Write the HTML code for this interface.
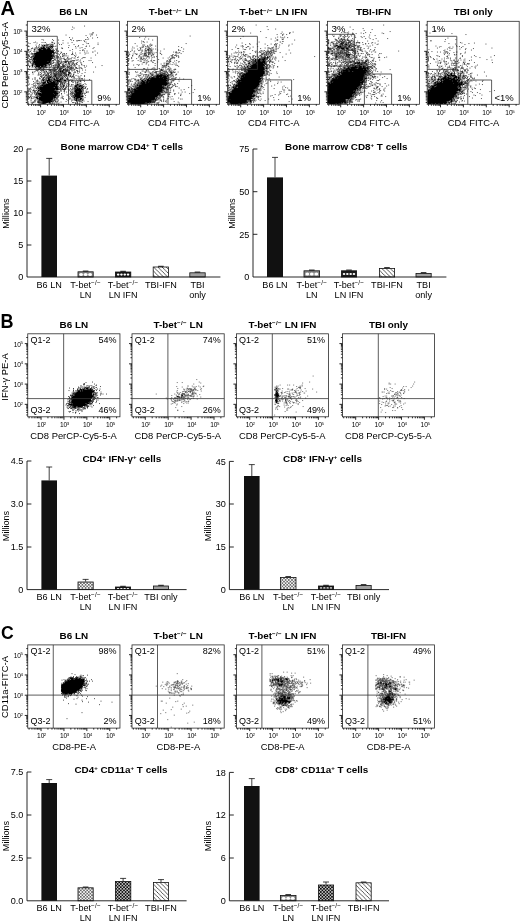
<!DOCTYPE html>
<html><head><meta charset="utf-8"><title>Figure</title>
<style>
html,body{margin:0;padding:0;background:#fff}
svg{display:block}
text{font-family:"Liberation Sans",sans-serif;fill:#000}
</style></head><body>
<svg width="520" height="923" viewBox="0 0 520 923">
<rect width="520" height="923" fill="#fff"/>
<text x="0.5" y="15" font-size="20" font-weight="bold">A</text>
<g transform="translate(27.3 21.3) scale(.5) translate(.5 .5)" fill="none" stroke="#000" stroke-linecap="square"><path d="M114 9h0m-24 2h0m3 2h0m-4 3h0m42 6h0m0 1h0m-6 2h0m3 0h0m2 0h0m-53 2h0m52 0h0m9 0h0m-21 1h0m9 1h0m-42 3h0m36 0h0m20 0h0m-50 1h0m40 0h0m-8 2h0m-93 1h0m21 0h0m36 0h0m30 0h0m3 0h0m-87 1h0m30 0h0m26 0h0m-36 1h0m19 0h0m21 0h0m7 0h0m3 0h0m2 0h0m3 0h0m6 0h0m-14 1h0m15 1h0m-98 1h0m33 0h0m68 0h0m-104 1h0m16 0h0m4 0h0m3 0h0m13 0h1m39 0h0m-87 1h0m17 0h0m34 0h0m9 0h0m9 0h0m10 0h0m60 0h0m-136 1h0m49 0h0m65 0h0m3 0h0m-84 1h0m7 0h0m4 0h0m-25 1h0m15 0h1m2 0h0m3 0h0m3 0h0m2 0h0m14 0h0m4 0h0m25 0h0m18 0h0m30 0h0m-124 1h0m11 0h0m3 0h0m2 0h2m2 0h0m15 0h0m-22 1h0m7 0h0m2 0h0m2 0h0m5 0h0m3 0h1m33 0h0m19 0h0m-100 1h0m20 0h0m2 0h0m6 0h1m2 0h0m2 0h0m4 0h1m4 0h0m3 0h0m2 0h0m8 0h0m61 0h0m6 0h0m-123 1h0m2 0h0m15 0h0m11 0h0m4 0h0m4 0h0m6 0h3m5 0h1m3 0h0m41 0h0m5 0h0m16 0h0m-90 1h0m6 0h0m5 0h0m2 0h0m2 0h0m4 0h0m2 0h0m2 0h0m-33 1h0m2 0h0m3 0h0m5 0h1m3 0h0m7 0h1m2 0h0m2 0h0m2 0h1m4 0h0m32 0h0m27 0h0m24 0h0m-123 1h0m5 0h0m9 0h2m9 0h2m2 0h0m4 0h0m2 0h0m2 0h0m3 0h0m18 0h1m28 0h0m8 0h0m-97 1h1m10 0h0m5 0h0m16 0h1m7 0h0m11 0h0m11 0h0m45 0h0m16 0h0m-118 1h0m2 0h2m4 0h1m2 0h0m2 0h0m3 0h0m8 0h2m6 0h0m7 0h0m4 0h0m-55 1h0m2 0h0m11 0h0m7 0h0m10 0h0m2 0h0m13 0h0m5 0h0m7 0h0m32 0h0m21 0h0m-110 1h1m5 0h0m7 0h0m8 0h0m7 0h0m2 0h0m16 0h0m2 0h1m-48 1h0m45 0h0m4 0h1m2 0h0m4 0h0m3 0h0m24 0h0m20 0h0m5 0h0m3 0h0m-100 1h0m2 0h0m3 0h0m2 0h2m97 0h0m16 0h0m-132 1h0m3 0h0m7 0h0m10 0h0m29 0h0m7 0h0m3 0h0m-45 1h1m2 0h1m35 0h0m11 0h0m23 0h0m24 0h0m16 0h1m-128 1h0m15 0h0m34 0h0m2 0h0m3 0h0m11 0h0m-60 1h0m6 0h0m3 0h0m25 0h0m10 0h0m3 0h0m41 0h0m9 0h0m12 0h0m4 0h0m19 0h0m-131 1h1m3 0h0m2 0h0m37 0h0m2 0h0m4 0h0m3 0h0m5 0h0m5 0h0m3 0h0m4 0h0m12 0h0m-85 1h0m4 0h0m3 0h1m36 0h0m3 0h0m21 0h0m17 0h0m25 0h0m-114 1h1m7 0h0m7 0h0m33 0h0m2 0h2m10 0h0m7 0h0m18 0h0m3 0h0m-80 1h0m2 0h1m2 0h0m33 0h0m15 0h0m10 0h0m3 0h0m20 0h0m39 0h0m-134 1h1m8 0h0m40 0h2m4 0h0m14 0h0m23 0h0m-92 1h1m9 0h0m2 0h0m37 0h0m4 0h0m3 0h1m12 0h2m4 0h0m4 0h0m-77 1h0m4 0h2m2 0h1m40 0h1m7 0h1m4 0h0m4 0h0m26 0h0m-94 1h0m8 0h0m3 0h0m2 0h0m32 0h0m3 0h0m2 0h0m6 0h0m2 0h0m42 0h0m-96 1h0m2 0h0m5 0h0m35 0h0m2 0h0m4 0h0m8 0h0m3 0h0m15 0h0m9 0h0m11 0h0m11 0h0m2 0h0m2 0h0m-114 1h0m7 0h0m3 0h0m39 0h0m6 0h0m2 0h0m2 0h0m7 0h0m6 0h0m8 0h0m12 0h0m2 0h0m32 0h0m-126 1h0m49 0h0m2 0h1m10 0h0m4 0h0m4 0h0m8 0h0m4 0h0m4 0h0m22 0h0m-105 1h0m5 0h0m2 0h0m37 0h0m25 0h1m13 0h0m-81 1h1m2 0h0m3 0h0m2 0h0m40 0h1m10 0h0m9 0h1m2 0h0m4 0h0m2 0h0m18 0h0m-97 1h0m12 0h0m31 0h0m6 0h0m3 0h0m5 0h0m4 0h0m3 0h0m8 0h0m21 0h0m9 0h0m-105 1h0m9 0h0m40 0h0m2 0h0m10 0h0m17 0h0m10 0h0m2 0h1m2 0h0m5 0h0m24 0h0m4 0h0m-126 1h0m2 0h0m4 0h0m3 0h0m2 0h0m3 0h0m25 0h0m6 0h0m2 0h0m3 0h1m6 0h0m2 0h0m3 0h0m12 0h1m4 0h1m5 0h0m3 0h0m4 0h0m10 0h0m-102 1h0m2 0h0m2 0h0m7 0h0m28 0h0m3 0h0m19 0h0m2 0h0m3 0h1m3 0h0m2 0h0m3 0h0m2 0h1m2 0h0m4 0h0m3 0h0m24 0h0m-107 1h0m4 0h0m3 0h0m30 0h0m4 0h1m2 0h0m25 0h0m2 0h0m2 0h0m4 0h0m2 0h2m6 0h0m14 0h0m-100 1h0m5 0h0m2 0h0m39 0h1m4 0h0m3 0h0m2 0h0m5 0h0m2 0h0m6 0h1m6 0h0m9 0h0m9 0h0m30 0h0m-128 1h0m9 0h0m32 0h0m2 0h0m3 0h0m4 0h0m11 0h0m2 0h0m2 0h0m5 0h0m5 0h0m5 0h0m3 0h0m3 0h0m2 0h0m8 0h0m9 0h1m-101 1h0m3 0h1m2 0h0m2 0h0m27 0h0m4 0h1m3 0h0m7 0h0m4 0h1m3 0h1m16 0h0m2 0h0m7 0h1m3 0h0m3 0h0m-97 1h0m8 0h0m4 0h0m2 0h0m23 0h0m3 0h0m3 0h0m2 0h0m16 0h0m7 0h0m2 0h2m6 0h0m-78 1h0m9 0h0m2 0h1m26 0h0m3 0h0m2 0h0m2 0h1m8 0h0m2 0h0m5 0h0m2 0h0m7 0h0m5 0h0m7 0h1m5 0h1m4 0h0m4 0h1m9 0h0m-99 1h0m5 0h0m2 0h0m22 0h1m4 0h0m5 0h0m10 0h1m3 0h0m2 0h0m6 0h0m8 0h1m4 0h0m4 0h0m5 0h3m14 0h0m-108 1h1m7 0h0m2 0h0m20 0h0m2 0h0m11 0h0m7 0h2m3 0h0m3 0h0m12 0h0m3 0h0m13 0h0m16 0h0m10 0h0m36 0h0m-145 1h1m5 0h0m14 0h0m2 0h1m7 0h0m3 0h0m2 0h0m2 0h0m2 0h0m5 0h0m4 0h0m3 0h0m7 0h0m2 0h1m5 0h1m2 0h0m3 0h0m4 0h0m3 0h2m3 0h0m3 0h0m3 0h0m2 0h0m18 0h0m4 0h0m-114 1h0m6 0h0m4 0h0m6 0h0m12 0h1m3 0h0m21 0h0m3 0h0m2 0h0m3 0h0m3 0h1m2 0h0m2 0h0m2 0h0m5 0h0m3 0h1m-80 1h0m5 0h0m2 0h0m5 0h0m2 0h0m7 0h0m3 0h0m2 0h1m3 0h1m3 0h0m6 0h0m2 0h0m2 0h0m3 0h0m3 0h1m7 0h0m3 0h0m3 0h0m5 0h0m6 0h0m3 0h0m5 0h0m2 0h0m14 0h1m32 0h0m-120 1h0m3 0h0m3 0h0m4 0h0m2 0h0m4 0h1m3 0h3m2 0h0m4 0h0m6 0h0m3 0h0m2 0h1m2 0h1m2 0h1m3 0h0m4 0h0m2 0h1m4 0h0m3 0h3m2 0h0m2 0h1m3 0h0m5 0h0m2 0h0m9 0h0m8 0h0m-100 1h1m7 0h0m2 0h0m5 0h0m3 0h0m4 0h0m6 0h1m7 0h1m7 0h1m4 0h0m4 0h1m17 0h0m3 0h0m3 0h0m6 0h0m7 0h0m-87 1h1m4 0h0m3 0h1m5 0h0m21 0h2m5 0h0m3 0h0m2 0h1m2 0h1m7 0h0m3 0h0m4 0h0m2 0h0m3 0h1m8 0h0m3 0h0m3 0h0m5 0h1m-108 1h1m19 0h0m4 0h0m3 0h0m3 0h0m2 0h0m16 0h0m3 0h0m2 0h1m6 0h0m5 0h0m2 0h0m3 0h0m2 0h1m2 0h0m4 0h0m4 0h2m3 0h0m2 0h1m3 0h0m-91 1h0m5 0h0m6 0h0m3 0h0m3 0h0m3 0h0m5 0h0m2 0h0m2 0h1m5 0h0m2 0h1m2 0h3m9 0h0m2 0h0m6 0h0m12 0h2m2 0h1m4 0h0m2 0h0m7 0h0m-75 1h0m2 0h1m7 0h0m2 0h0m2 0h0m3 0h0m8 0h0m3 0h0m2 0h0m2 0h0m3 0h1m7 0h0m3 0h3m4 0h1m2 0h0m6 0h0m7 0h0m16 0h0m6 0h0m6 0h0m-99 1h0m2 0h0m7 0h0m3 0h0m3 0h0m11 0h0m2 0h0m4 0h0m3 0h2m2 0h1m5 0h1m2 0h0m4 0h1m2 0h0m3 0h0m2 0h3m3 0h1m7 0h0m7 0h0m2 0h0m-80 1h0m8 0h0m10 0h0m8 0h0m5 0h0m3 0h0m3 0h0m4 0h0m4 0h0m2 0h0m6 0h0m3 0h0m5 0h1m7 0h0m5 0h0m-93 1h0m14 0h0m18 0h0m2 0h0m3 0h0m9 0h1m3 0h0m2 0h1m3 0h0m3 0h0m3 0h0m2 0h0m3 0h1m2 0h0m4 0h0m4 0h0m4 0h0m17 0h0m3 0h0m-93 1h0m3 0h0m10 0h0m6 0h0m4 0h0m5 0h0m4 0h0m2 0h1m11 0h0m2 0h1m3 0h2m3 0h0m2 0h0m2 0h0m5 0h0m2 0h0m6 0h0m12 0h0m4 0h0m4 0h0m28 0h0m-122 1h0m16 0h0m7 0h0m2 0h0m5 0h0m6 0h3m3 0h0m5 0h0m4 0h1m3 0h2m3 0h0m2 0h1m2 0h0m7 0h0m2 0h0m2 0h0m7 0h0m2 0h0m20 0h0m-93 1h0m22 0h0m9 0h1m4 0h0m8 0h0m2 0h1m2 0h0m4 0h0m2 0h0m5 0h0m2 0h0m-56 1h0m7 0h0m5 0h0m2 0h0m5 0h2m3 0h0m2 0h1m2 0h0m3 0h3m2 0h0m3 0h0m3 0h2m2 0h2m7 0h0m2 0h0m15 0h0m8 0h0m-98 1h0m11 0h1m11 0h0m3 0h0m4 0h1m13 0h0m2 0h1m3 0h0m3 0h0m2 0h1m15 0h2m4 0h0m4 0h1m-90 1h0m23 0h0m6 0h0m7 0h0m3 0h0m4 0h1m4 0h0m2 0h0m2 0h1m2 0h0m3 0h0m2 0h0m2 0h0m2 0h0m2 0h0m4 0h1m2 0h2m3 0h0m11 0h0m-71 1h2m4 0h0m2 0h0m6 0h0m2 0h0m2 0h0m7 0h0m2 0h0m10 0h2m2 0h0m4 0h0m3 0h2m3 0h0m7 0h1m4 0h0m-54 1h0m4 0h2m3 0h1m2 0h0m5 0h0m4 0h1m2 0h1m2 0h0m4 0h1m2 0h0m2 0h0m4 0h0m4 0h2m4 0h0m3 0h0m7 0h0m5 0h0m10 0h0m7 0h0m-113 1h0m26 0h0m3 0h0m9 0h0m3 0h0m10 0h0m3 0h0m7 0h0m3 0h0m2 0h1m6 0h1m6 0h0m5 0h1m3 0h0m11 0h0m-100 1h0m25 0h0m2 0h0m7 0h0m5 0h0m2 0h0m2 0h1m2 0h2m3 0h0m5 0h0m2 0h0m4 0h1m6 0h1m3 0h0m4 0h1m6 0h1m3 0h1m2 0h0m22 0h0m-111 1h0m31 0h0m4 0h0m10 0h0m6 0h2m2 0h4m4 0h1m3 0h0m5 0h0m8 0h0m11 0h0m8 0h0m2 0h1m-103 1h0m13 0h0m13 0h0m4 0h0m2 0h0m5 0h1m2 0h1m4 0h0m3 0h1m4 0h0m3 0h0m5 0h1m4 0h0m3 0h0m5 0h0m4 0h0m8 0h0m5 0h0m-92 1h0m23 0h0m6 0h0m2 0h0m4 0h1m2 0h0m6 0h0m5 0h1m9 0h1m5 0h0m4 0h0m2 0h0m8 0h0m11 0h0m-90 1h0m2 0h0m12 0h0m10 0h0m6 0h1m7 0h0m8 0h0m6 0h1m3 0h1m4 0h0m4 0h1m3 0h0m8 0h1m2 0h0m14 0h0m6 0h0m3 0h1m3 0h0m2 0h0m-100 1h0m15 0h0m8 0h0m3 0h1m2 0h0m9 0h2m2 0h0m8 0h0m2 0h2m4 0h2m4 0h0m3 0h0m3 0h0m13 0h0m5 0h0m16 0h0m-99 1h0m15 0h1m3 0h0m3 0h0m8 0h1m2 0h0m5 0h0m2 0h3m2 0h0m11 0h0m8 0h1m2 0h0m5 0h0m16 0h0m6 0h0m15 0h0m-123 1h0m19 0h0m8 0h0m2 0h0m8 0h0m8 0h0m3 0h0m6 0h0m6 0h3m3 0h0m3 0h0m2 0h1m2 0h1m3 0h0m6 0h0m5 0h0m15 0h1m5 0h0m-92 1h0m12 0h0m2 0h0m3 0h0m2 0h1m9 0h2m2 0h0m3 0h0m2 0h0m2 0h0m5 0h0m3 0h0m14 0h0m3 0h0m5 0h0m16 0h0m8 0h0m-112 1h0m16 0h0m4 0h0m6 0h1m5 0h0m9 0h0m5 0h1m5 0h0m2 0h0m2 0h0m4 0h0m3 0h0m2 0h0m2 0h0m2 0h1m2 0h1m2 0h2m4 0h1m6 0h0m2 0h0m9 0h1m5 0h1m-95 1h0m7 0h0m12 0h0m4 0h0m2 0h0m7 0h0m7 0h0m4 0h0m4 0h0m3 0h0m4 0h0m2 0h0m13 0h0m7 0h0m7 0h0m8 0h0m3 0h0m8 0h0m-112 1h0m19 0h0m3 0h0m4 0h0m5 0h0m2 0h0m4 0h0m5 0h0m4 0h0m2 0h0m7 0h0m2 0h0m2 0h0m3 0h1m2 0h0m5 0h0m3 0h2m14 0h0m5 0h1m4 0h0m-86 1h0m14 0h1m2 0h0m4 0h0m7 0h0m2 0h1m9 0h1m2 0h0m2 0h0m2 0h0m4 0h0m2 0h0m2 0h0m5 0h0m7 0h0m9 0h0m9 0h0m-82 1h1m6 0h0m2 0h0m3 0h0m6 0h0m20 0h0m4 0h0m9 0h0m3 0h0m2 0h0m9 0h0m13 0h1m3 0h0m3 0h0m4 0h0m-94 1h0m7 0h2m3 0h0m4 0h0m2 0h0m4 0h0m22 0h1m2 0h2m4 0h1m3 0h0m4 0h0m7 0h1m23 0h0m10 0h0m-114 1h0m3 0h0m8 0h0m4 0h0m4 0h0m3 0h0m11 0h0m2 0h1m2 0h1m21 0h0m5 0h0m2 0h1m8 0h0m2 0h0m18 0h0m3 0h1m4 0h0m-96 1h0m14 0h0m4 0h0m2 0h2m2 0h1m26 0h0m6 0h0m4 0h0m3 0h0m9 0h1m5 0h0m3 0h0m8 0h0m3 0h1m9 0h0m5 0h0m-115 1h0m30 0h0m24 0h0m4 0h1m3 0h1m6 0h0m2 0h0m10 0h0m6 0h0m7 0h0m4 0h0m5 0h2m2 0h1m-97 1h0m4 0h0m6 0h0m3 0h0m2 0h0m5 0h0m34 0h0m5 0h2m4 0h0m4 0h0m13 0h1m2 0h0m4 0h1m5 0h1m-97 1h0m2 0h0m2 0h0m5 0h0m2 0h0m3 0h0m2 0h0m32 0h0m6 0h1m3 0h0m11 0h0m6 0h1m5 0h0m6 0h0m4 0h0m3 0h0m3 0h0m4 0h0m-90 1h3m34 0h2m5 0h0m4 0h2m4 0h0m2 0h0m6 0h0m10 0h0m3 0h0m3 0h0m2 0h0m3 0h0m2 0h1m3 0h0m5 0h0m-108 1h0m7 0h0m4 0h0m8 0h0m32 0h0m5 0h0m2 0h1m4 0h0m18 0h0m4 0h1m5 0h0m3 0h1m4 0h0m3 0h0m2 0h0m-102 1h0m9 0h0m2 0h3m27 0h0m3 0h0m5 0h0m3 0h0m6 0h0m3 0h0m4 0h0m2 0h0m15 0h0m4 0h1m2 0h2m3 0h0m11 0h0m-115 1h0m5 0h0m9 0h0m2 0h0m4 0h0m40 0h0m2 0h0m4 0h0m27 0h2m2 0h0m7 0h1m2 0h1m2 0h0m5 0h0m-115 1h0m4 0h0m13 0h0m5 0h0m43 0h0m4 0h0m4 0h0m2 0h0m10 0h0m5 0h0m5 0h0m7 0h0m4 0h0m4 0h0m2 0h0m2 0h0m5 0h0m-116 1h0m9 0h0m6 0h0m2 0h1m40 0h0m2 0h1m4 0h0m4 0h0m3 0h1m4 0h0m9 0h0m2 0h0m2 0h0m4 0h0m5 0h0m2 0h0m2 0h0m2 0h0m-106 1h0m4 0h0m17 0h0m39 0h0m2 0h0m4 0h0m3 0h0m2 0h1m7 0h0m7 0h0m6 0h2m13 0h1m8 0h0m-117 1h0m10 0h0m9 0h1m32 0h0m3 0h0m3 0h0m6 0h1m6 0h0m11 0h1m3 0h0m15 0h0m5 0h0m3 0h0m-110 1h0m4 0h0m6 0h3m3 0h1m5 0h1m33 0h0m17 0h0m19 0h0m2 0h0m16 0h0m-100 1h0m5 0h0m5 0h0m2 0h0m2 0h1m33 0h2m5 0h0m2 0h0m14 0h0m8 0h0m10 0h0m8 0h1m2 0h0m6 0h0m-116 1h1m3 0h1m8 0h0m6 0h1m37 0h0m2 0h0m3 0h0m10 0h1m12 0h0m8 0h0m8 0h0m19 0h0m-107 1h0m2 0h0m4 0h0m3 0h0m2 0h0m2 0h0m36 0h0m15 0h0m10 0h2m2 0h0m3 0h0m6 0h0m8 0h0m2 0h1m6 0h0m-117 1h0m6 0h0m6 0h0m4 0h0m2 0h0m2 0h0m37 0h0m2 0h0m3 0h1m23 0h0m2 0h0m6 0h0m12 0h0m11 0h0m3 0h0m-111 1h0m10 0h0m2 0h1m2 0h0m2 0h1m35 0h0m11 0h0m17 0h1m4 0h0m13 0h1m5 0h0m-112 1h0m11 0h0m3 0h2m34 0h0m8 0h0m7 0h0m18 0h0m3 0h0m2 0h0m3 0h0m13 0h1m2 0h1m4 0h0m-113 1h1m6 0h0m12 0h0m40 0h0m7 0h0m17 0h0m3 0h0m2 0h0m4 0h0m2 0h0m14 0h0m4 0h0m-113 1h0m14 0h0m3 0h1m3 0h0m31 0h0m4 0h0m2 0h1m34 0h0m2 0h0m11 0h2m-103 1h0m2 0h0m8 0h0m2 0h0m5 0h0m41 0h0m15 0h0m2 0h0m5 0h1m2 0h0m2 0h0m16 0h0m-87 1h1m37 0h0m2 0h1m2 0h0m29 0h1m12 0h0m4 0h0m7 0h0m-114 1h0m15 0h0m4 0h0m3 0h1m32 0h0m12 0h0m21 0h0m2 0h0m2 0h0m11 0h0m2 0h0m4 0h1m-110 1h0m4 0h0m3 0h0m4 0h0m6 0h2m2 0h0m2 0h0m35 0h0m2 0h0m9 0h0m12 0h0m5 0h0m5 0h0m14 0h0m-106 1h0m4 0h0m10 0h0m3 0h0m3 0h0m4 0h0m2 0h0m29 0h0m2 0h0m32 0h1m2 0h0m2 0h0m12 0h0m2 0h0m2 0h0m-108 1h1m4 0h0m7 0h0m2 0h0m3 0h0m31 0h0m5 0h0m3 0h2m8 0h0m24 0h0m2 0h0m3 0h0m17 0h0m-114 1h2m9 0h0m6 0h0m5 0h0m30 0h0m2 0h0m2 0h0m10 0h0m3 0h0m14 0h0m2 0h0m5 0h0m4 0h2m3 0h0m3 0h0m2 0h1m2 0h1m-108 1h0m7 0h1m12 0h0m5 0h0m25 0h2m5 0h1m12 0h0m23 0h0m6 0h0m2 0h0m-95 1h0m8 0h0m4 0h0m2 0h0m2 0h0m37 0h0m12 0h0m12 0h0m3 0h0m6 0h0m4 0h0m2 0h0m4 0h2m2 0h0m2 0h1m2 0h0m-111 1h0m22 0h0m27 0h0m3 0h1m3 0h0m21 0h0m16 0h1m6 0h2m2 0h0m4 0h0m-93 1h0m3 0h2m27 0h0m3 0h0m3 0h0m2 0h0m3 0h0m3 0h0m27 0h2m4 0h0m2 0h0m2 0h1m6 0h1m4 0h0m-104 1h0m7 0h0m8 0h4m24 0h0m2 0h0m2 0h0m27 0h0m14 0h2m4 0h3m6 0h0m-94 1h0m40 0h0m5 0h0m27 0h0m10 0h1m3 0h0m3 0h2m2 0h0m4 0h0m-100 1h0m7 0h2m2 0h0m2 0h2m2 0h0m16 0h0m3 0h3m4 0h0m3 0h0m18 0h0m22 0h0m5 0h1m16 0h0m-119 1h0m5 0h0m4 0h0m3 0h1m7 0h0m25 0h0m6 0h0m4 0h0m3 0h0m7 0h0m32 0h0m9 0h0m-99 1h0m3 0h0m8 0h0m2 0h0m2 0h6m10 0h0m2 0h1m7 0h0m40 0h0m2 0h0m3 0h0m5 0h0m10 0h0m-100 1h0m12 0h0m2 0h0m2 0h0m2 0h0m11 0h0m3 0h0m4 0h1m6 0h0m4 0h1m5 0h0m33 0h0m3 0h0m5 0h1m-103 1h0m7 0h0m16 0h0m3 0h0m2 0h0m4 0h0m2 0h0m8 0h1m4 0h1m3 0h0m8 0h0m35 0h0m3 0h1m3 0h0" stroke-width="1.3"/>
<path d="M34 48h0m14 2h1m-17 1h0m17 0h0m-17 1h1m-5 1h1m2 0h3m8 0h0m-15 1h6m2 0h0m7 0h0m2 0h0m-17 1h1m3 0h0m3 0h2m5 0h0m2 0h1m-21 1h2m2 0h0m5 0h0m2 0h0m2 0h1m3 0h4m-20 1h3m6 0h0m2 0h4m2 0h5m-22 1h5m2 0h5m2 0h4m2 0h0m2 0h0m3 0h0m-25 1h2m2 0h17m3 0h3m-27 1h18m2 0h7m-27 1h3m2 0h20m2 0h1m-32 1h1m2 0h2m2 0h15m2 0h1m3 0h3m-32 1h21m3 0h6m-33 1h3m2 0h10m2 0h7m2 0h0m2 0h4m-34 1h1m2 0h27m2 0h1m-32 1h0m3 0h1m2 0h25m-28 1h3m2 0h25m-33 1h1m2 0h1m2 0h25m2 0h1m-34 1h35m2 0h0m-37 1h25m2 0h3m3 0h1m-32 1h25m2 0h2m-32 1h0m2 0h23m2 0h2m2 0h1m-33 1h0m2 0h32m2 0h0m-37 1h36m-36 1h1m3 0h31m-32 1h1m2 0h26m3 0h0m-34 1h1m3 0h29m-33 1h1m3 0h0m3 0h12m2 0h12m-33 1h1m2 0h22m4 0h1m2 0h0m-32 1h0m3 0h22m7 0h0m-31 1h1m3 0h19m2 0h2m3 0h1m32 0h0m-63 1h5m2 0h16m2 0h3m2 0h1m-33 1h0m3 0h0m2 0h14m2 0h8m-25 1h16m2 0h2m2 0h3m-25 1h1m2 0h0m2 0h4m2 0h10m-21 1h2m2 0h5m2 0h2m2 0h5m-26 1h0m7 0h0m2 0h5m2 0h3m3 0h0m4 0h0m27 0h0m-53 1h0m7 0h2m2 0h1m3 0h1m3 0h1m5 0h2m26 0h0m-46 1h2m3 0h1m5 0h3m4 0h1m36 0h0m-55 1h2m2 0h3m4 0h2m-9 1h3m5 0h0m4 0h0m28 0h0m-36 1h0m1 1h0m-3 2h1m41 0h0m-43 1h1m42 0h0m7 0h1m-27 1h0m20 2h0m4 0h1m7 0h1m-13 1h0m4 0h0m13 2h0m-10 1h1m9 0h0m-1 3h0m-28 1h1m22 0h1m-22 2h0m-1 1h0m-10 1h1m-1 1h1m-4 1h2m14 0h1m-17 1h1m16 0h0m10 0h0m-27 1h1m10 0h1m12 0h0m-24 1h2m10 0h0m11 0h2m-36 1h1m9 0h3m15 0h0m7 0h0m-34 1h0m8 0h2m2 0h1m13 0h0m2 0h0m2 0h0m12 0h2m-36 1h1m3 0h1m9 0h0m2 0h0m3 0h0m4 0h0m12 0h0m-35 1h1m4 0h2m5 0h1m7 0h0m3 0h1m-28 1h0m4 0h1m6 0h0m5 0h1m-20 1h0m2 0h0m5 0h2m5 0h0m2 0h0m2 0h3m-22 1h2m7 0h2m3 0h0m2 0h6m5 0h0m-27 1h1m8 0h7m2 0h1m2 0h2m-23 1h0m6 0h0m4 0h2m2 0h4m3 0h2m2 0h1m-21 1h2m2 0h1m3 0h6m2 0h6m41 0h0m-70 1h0m5 0h3m3 0h2m2 0h2m2 0h4m5 0h0m41 0h0m-70 1h2m3 0h14m2 0h0m2 0h2m3 0h1m41 0h0m6 0h1m-77 1h3m2 0h1m2 0h2m2 0h6m2 0h1m3 0h6m13 0h0m24 0h0m2 0h0m7 0h0m-74 1h0m2 0h0m2 0h3m2 0h0m2 0h16m38 0h1m7 0h0m-77 1h0m4 0h3m2 0h16m4 0h2m39 0h0m12 0h0m-83 1h25m5 0h0m2 0h1m50 0h1m-87 1h1m2 0h5m2 0h18m3 0h1m2 0h2m40 0h1m-78 1h0m3 0h9m2 0h24m35 0h0m5 0h1m3 0h0m4 0h0m-83 1h8m2 0h11m2 0h5m2 0h3m2 0h1m34 0h0m4 0h3m2 0h0m-79 1h2m2 0h25m3 0h4m37 0h1m2 0h0m4 0h1m-81 1h5m2 0h1m2 0h18m44 0h0m3 0h2m2 0h3m-85 1h0m5 0h26m43 0h6m2 0h3m-79 1h0m2 0h27m38 0h3m4 0h4m-80 1h31m39 0h1m2 0h0m4 0h1m2 0h2m-80 1h2m2 0h18m2 0h0m2 0h1m2 0h0m39 0h0m2 0h2m4 0h1m2 0h1m-78 1h23m2 0h1m41 0h2m2 0h5m-77 1h26m2 0h2m38 0h3m2 0h4m-84 1h1m2 0h1m3 0h22m3 0h6m37 0h4m2 0h3m-88 1h1m4 0h6m2 0h20m4 0h2m2 0h0m38 0h8m-82 1h2m2 0h4m2 0h19m3 0h0m40 0h0m3 0h7m-81 1h0m2 0h22m2 0h2m2 0h3m38 0h0m3 0h2m2 0h1m2 0h1m-81 1h0m2 0h25m2 0h3m38 0h9m-78 1h21m2 0h2m2 0h3m39 0h2m2 0h1m2 0h1m6 0h1m-82 1h9m2 0h13m2 0h1m41 0h4m3 0h2m3 0h2m-81 1h0m2 0h23m44 0h8m-88 1h1m5 0h25m4 0h0m2 0h0m39 0h0m6 0h5m-86 1h1m4 0h1m2 0h3m2 0h18m4 0h0m45 0h0m-79 1h0m3 0h2m3 0h10m2 0h3m2 0h5m47 0h1m8 0h2m-84 1h0m2 0h0m3 0h6m2 0h1m2 0h3m2 0h3m2 0h0m48 0h0m-73 1h24m49 0h0m8 0h0m-82 1h1m2 0h16m2 0h1m-18 1h13m2 0h4m51 0h0m-69 1h16m2 0h2m-18 1h5m2 0h6m4 0h0m-25 1h0m9 0h1m2 0h4m2 0h0m3 0h1m-14 1h1m2 0h5m5 0h1m-15 1h4m2 0h1m8 0h0m-14 1h2" stroke-width="2.1"/>
</g><rect x="27.3" y="21.3" width="92.2" height="83" fill="none" stroke="#2a2a2a" stroke-width="0.8"/>
<path d="M27.3 102.44h-1.5M27.3 99.91h-1.5M27.3 97.95h-1.5M27.3 96.34h-1.5M27.3 94.99h-1.5M27.3 93.81h-1.5M27.3 92.78h-1.5M27.3 91.85h-3M27.3 85.75h-1.5M27.3 82.19h-1.5M27.3 79.66h-1.5M27.3 77.7h-1.5M27.3 76.09h-1.5M27.3 74.74h-1.5M27.3 73.56h-1.5M27.3 72.53h-1.5M27.3 71.6h-3M27.3 65.5h-1.5M27.3 61.94h-1.5M27.3 59.41h-1.5M27.3 57.45h-1.5M27.3 55.84h-1.5M27.3 54.49h-1.5M27.3 53.31h-1.5M27.3 52.28h-1.5M27.3 51.35h-3M27.3 45.25h-1.5M27.3 41.69h-1.5M27.3 39.16h-1.5M27.3 37.2h-1.5M27.3 35.59h-1.5M27.3 34.24h-1.5M27.3 33.06h-1.5M27.3 32.03h-1.5M27.3 31.1h-3M27.3 25h-1.5M28.63 104.3v1.5M31.49 104.3v1.5M33.71 104.3v1.5M35.52 104.3v1.5M37.05 104.3v1.5M38.38 104.3v1.5M39.55 104.3v1.5M40.6 104.3v3M47.49 104.3v1.5M51.53 104.3v1.5M54.39 104.3v1.5M56.61 104.3v1.5M58.42 104.3v1.5M59.95 104.3v1.5M61.28 104.3v1.5M62.45 104.3v1.5M63.5 104.3v3M70.39 104.3v1.5M74.43 104.3v1.5M77.29 104.3v1.5M79.51 104.3v1.5M81.32 104.3v1.5M82.85 104.3v1.5M84.18 104.3v1.5M85.35 104.3v1.5M86.4 104.3v3M93.29 104.3v1.5M97.33 104.3v1.5M100.19 104.3v1.5M102.41 104.3v1.5M104.22 104.3v1.5M105.75 104.3v1.5M107.08 104.3v1.5M108.25 104.3v1.5M109.3 104.3v3M116.19 104.3v1.5" stroke="#000" stroke-width="0.85" fill="none"/>
<text x="41.2" y="115.2" font-size="6.6" text-anchor="middle">10<tspan font-size="4.4" dy="-2.3" dx="-0.5">2</tspan></text>
<text x="64.1" y="115.2" font-size="6.6" text-anchor="middle">10<tspan font-size="4.4" dy="-2.3" dx="-0.5">3</tspan></text>
<text x="87.1" y="115.2" font-size="6.6" text-anchor="middle">10<tspan font-size="4.4" dy="-2.3" dx="-0.5">4</tspan></text>
<text x="110.1" y="115.2" font-size="6.6" text-anchor="middle">10<tspan font-size="4.4" dy="-2.3" dx="-0.5">5</tspan></text>
<text x="22.5" y="34" font-size="6.6" text-anchor="end">10<tspan font-size="4.4" dy="-2.3" dx="-0.5">5</tspan></text>
<text x="22.5" y="54.25" font-size="6.6" text-anchor="end">10<tspan font-size="4.4" dy="-2.3" dx="-0.5">4</tspan></text>
<text x="22.5" y="74.5" font-size="6.6" text-anchor="end">10<tspan font-size="4.4" dy="-2.3" dx="-0.5">3</tspan></text>
<text x="22.5" y="94.8" font-size="6.6" text-anchor="end">10<tspan font-size="4.4" dy="-2.3" dx="-0.5">2</tspan></text>
<path d="M27.3 36.3h30v33.1h-30 M68.5 104.3v-24h23.3v24" fill="none" stroke="#333" stroke-width="0.8"/>
<text x="73.4" y="15.3" font-size="9.9" text-anchor="middle" font-weight="bold">B6 LN</text>
<text x="31.5" y="31.5" font-size="9.5">32%</text>
<text x="110.9" y="100.6" font-size="9.5" text-anchor="end">9%</text>
<text x="73.7" y="126.2" font-size="9.4" text-anchor="middle">CD4 FITC-A</text>
<g transform="translate(127.4 21.3) scale(.5) translate(.5 .5)" fill="none" stroke="#000" stroke-linecap="square"><path d="M125 29h0m-89 2h0m-12 1h0m10 3h0m8 0h0m8 2h0m-22 2h0m3 1h1m7 1h0m-6 1h0m-5 1h0m-13 1h0m102 0h0m-71 1h0m-16 2h2m2 0h0m10 0h0m3 0h2m-9 1h0m7 0h0m-28 1h0m37 0h0m-25 1h0m5 0h0m3 0h0m2 0h0m4 0h0m57 0h0m-92 1h0m19 0h0m3 0h0m-7 1h0m4 0h0m12 0h0m2 0h0m65 0h0m-95 1h0m24 0h0m11 0h0m-22 1h0m10 0h0m5 0h0m3 0h1m-36 1h0m11 0h0m6 0h0m17 0h0m2 0h0m6 0h0m5 0h0m17 0h0m39 0h0m-77 1h0m5 0h2m5 0h0m55 0h0m-77 1h0m4 0h0m10 0h0m7 0h0m3 0h0m11 0h0m-51 1h0m13 0h1m12 0h0m2 0h0m5 0h1m5 0h0m54 0h0m3 0h0m-91 1h0m14 0h0m2 0h0m6 0h1m8 0h0m2 0h0m19 0h0m-65 1h0m5 0h0m36 0h0m55 0h0m14 0h0m-98 1h0m21 0h1m3 0h0m7 0h0m2 0h1m2 0h0m42 0h0m-91 1h0m26 0h0m14 0h0m2 0h1m13 0h0m39 0h0m2 0h0m6 0h0m-101 1h0m33 0h0m2 0h0m3 0h1m4 0h1m6 0h0m12 0h0m34 0h0m3 0h0m-87 1h0m14 0h0m4 0h1m2 0h0m7 0h0m7 0h0m16 0h0m41 0h0m-105 1h0m9 0h0m6 0h0m2 0h0m6 0h0m9 0h1m7 0h0m2 0h0m2 0h0m51 0h0m-93 1h0m14 0h0m9 0h0m7 0h0m3 0h0m5 0h0m7 0h0m3 0h0m16 0h0m23 0h0m-60 1h0m6 0h0m5 0h0m9 0h0m39 0h0m6 0h0m-95 1h1m8 0h0m14 0h0m9 0h3m2 0h0m10 0h0m39 0h0m2 0h0m5 0h1m3 0h0m3 0h0m-99 1h0m8 0h0m13 0h0m16 0h0m8 0h1m-47 1h0m30 0h0m4 0h0m5 0h0m2 0h0m11 0h0m5 0h0m31 0h0m9 0h0m4 0h0m-80 1h0m3 0h1m2 0h0m10 0h1m4 0h0m41 0h0m5 0h0m3 0h0m-84 1h0m41 0h0m4 0h0m36 0h0m2 0h0m3 0h0m8 0h0m-75 1h1m4 0h0m11 0h0m28 0h0m10 0h0m-79 1h0m6 0h0m10 0h0m9 0h0m6 0h0m4 0h0m49 0h0m2 0h1m4 0h0m-92 1h0m2 0h0m22 0h0m2 0h0m4 0h0m17 0h0m-18 1h0m5 0h0m27 0h0m21 0h0m3 0h0m-85 1h0m26 0h0m13 0h0m45 0h0m-83 1h0m9 0h0m10 0h0m12 0h0m4 0h0m10 0h0m5 0h0m2 0h0m26 0h0m4 0h0m14 0h0m-97 1h0m8 0h0m16 0h0m22 0h1m30 0h0m8 0h0m8 0h0m-93 1h0m26 0h0m15 0h0m37 0h0m4 0h0m2 0h1m17 0h0m-70 1h0m4 0h0m3 0h0m10 0h0m10 0h0m22 0h0m20 0h0m-71 1h0m2 0h0m18 0h0m33 0h0m7 0h0m-53 1h0m35 0h0m4 0h0m2 0h0m18 0h0m-95 1h0m53 0h0m23 0h0m2 0h0m2 0h0m-80 1h0m27 0h0m8 0h0m30 0h0m6 0h0m9 0h0m3 0h0m8 0h0m-74 1h0m4 0h0m55 0h0m2 0h0m9 0h0m-77 1h0m30 0h0m35 0h1m18 0h0m2 0h0m-97 1h0m21 0h0m33 0h0m15 0h0m3 0h1m3 0h1m22 0h0m-31 1h0m2 0h1m4 0h0m5 0h0m-8 1h0m9 0h0m20 0h0m-29 1h0m3 0h0m2 0h0m5 0h0m-68 1h0m54 0h0m2 0h0m-70 1h0m39 0h0m11 0h1m2 0h0m22 0h0m9 0h0m-53 1h0m2 0h0m15 0h0m14 0h1m18 0h0m-79 1h0m52 0h0m13 0h0m3 0h0m9 0h0m5 0h0m2 0h0m8 0h0m-48 1h0m12 0h0m6 0h0m2 0h1m13 0h0m3 0h0m9 0h0m3 0h0m-59 1h0m4 0h0m12 0h0m19 0h0m4 0h0m2 0h0m15 0h0m-55 1h0m27 0h0m2 0h3m14 0h0m3 0h0m-85 1h0m27 0h0m2 0h0m10 0h0m14 0h0m10 0h0m9 0h0m8 0h1m7 0h0m-74 1h0m21 0h0m14 0h0m6 0h0m2 0h0m2 0h0m4 0h0m7 0h0m3 0h0m3 0h0m8 0h1m5 0h0m-72 1h0m14 0h0m2 0h0m5 0h0m3 0h0m6 0h0m6 0h0m2 0h0m5 0h0m2 0h0m4 0h1m4 0h0m2 0h0m2 0h0m6 0h0m3 0h0m8 0h0m6 0h0m-98 1h0m14 0h0m9 0h0m10 0h0m17 0h1m2 0h1m10 0h0m12 0h1m6 0h1m2 0h0m2 0h0m2 0h1m-91 1h0m42 0h0m2 0h2m8 0h0m8 0h2m3 0h1m2 0h1m2 0h0m-51 1h0m21 0h0m12 0h0m5 0h0m2 0h0m4 0h0m2 0h0m2 0h1m6 0h0m7 0h1m-86 1h0m25 0h0m2 0h0m14 0h0m3 0h0m4 0h0m2 0h0m3 0h0m5 0h1m5 0h1m5 0h0m3 0h0m2 0h0m4 0h0m7 0h0m2 0h0m8 0h0m-95 1h0m30 0h0m3 0h0m2 0h0m3 0h0m7 0h1m9 0h0m4 0h0m3 0h0m4 0h1m3 0h1m3 0h1m4 0h1m3 0h0m11 0h0m-78 1h0m3 0h0m10 0h0m5 0h0m10 0h0m3 0h1m10 0h0m2 0h1m3 0h0m5 0h0m2 0h2m3 0h1m2 0h0m3 0h0m2 0h0m4 0h0m5 0h0m-72 1h0m2 0h0m16 0h0m7 0h1m5 0h0m3 0h0m13 0h0m5 0h0m5 0h0m2 0h0m7 0h0m-68 1h0m10 0h0m4 0h0m3 0h1m2 0h1m4 0h1m3 0h0m3 0h0m2 0h1m5 0h0m7 0h0m2 0h0m5 0h0m2 0h0m9 0h1m-87 1h0m16 0h0m22 0h0m7 0h0m6 0h0m2 0h1m2 0h0m12 0h0m9 0h0m2 0h2m10 0h0m-68 1h0m5 0h0m6 0h0m8 0h0m5 0h0m4 0h0m10 0h0m8 0h1m8 0h0m4 0h0m3 0h0m3 0h0m-88 1h0m38 0h1m4 0h0m3 0h0m2 0h0m3 0h3m13 0h0m10 0h0m3 0h1m15 0h0m-71 1h0m3 0h0m7 0h1m6 0h0m2 0h0m2 0h0m10 0h0m6 0h0m16 0h0m2 0h0m2 0h0m9 0h0m3 0h1m8 0h0m-93 1h0m16 0h0m6 0h1m4 0h0m4 0h1m2 0h0m2 0h0m24 0h0m9 0h0m2 0h0m6 0h0m2 0h0m3 0h0m-85 1h0m6 0h1m12 0h0m7 0h1m4 0h0m2 0h0m4 0h0m33 0h2m16 0h0m16 0h0m-109 1h0m12 0h0m6 0h0m4 0h1m5 0h1m5 0h2m4 0h0m38 0h2m3 0h0m9 0h0m7 0h0m-101 1h0m5 0h0m9 0h0m2 0h0m4 0h0m5 0h1m2 0h2m3 0h1m8 0h0m2 0h0m34 0h1m13 0h0m-92 1h0m2 0h0m16 0h0m2 0h1m6 0h0m8 0h0m45 0h1m5 0h0m3 0h0m2 0h0m-86 1h0m16 0h1m5 0h0m3 0h1m2 0h1m2 0h1m37 0h0m4 0h1m11 0h0m12 0h0m-102 1h0m4 0h0m4 0h0m8 0h0m8 0h0m12 0h0m5 0h0m37 0h0m9 0h0m-86 1h0m17 0h0m2 0h1m4 0h2m2 0h0m4 0h1m42 0h0m4 0h0m4 0h0m-70 1h0m8 0h0m2 0h0m11 0h1m5 0h0m36 0h0m3 0h0m7 0h0m-85 1h0m13 0h0m5 0h1m4 0h1m2 0h0m6 0h0m48 0h0m2 0h0m2 0h0m-86 1h0m14 0h0m6 0h0m3 0h2m9 0h0m2 0h0m44 0h1m12 0h0m6 0h0m-92 1h0m5 0h0m4 0h1m2 0h0m2 0h1m3 0h0m54 0h0m3 0h0m2 0h0m-83 1h0m11 0h0m6 0h0m6 0h0m2 0h0m52 0h0m6 0h1m3 0h0m6 0h0m-88 1h0m6 0h0m3 0h0m5 0h0m2 0h0m47 0h0m9 0h0m4 0h0m7 0h0m4 0h0m-77 1h0m2 0h0m2 0h0m6 0h0m42 0h0m2 0h1m10 0h0m2 0h0m8 0h0m36 0h0m-127 1h0m8 0h0m2 0h0m3 0h2m3 0h0m53 0h0m2 0h1m2 0h0m2 0h1m16 0h0m-92 1h0m7 0h0m5 0h0m2 0h1m3 0h0m47 0h1m2 0h0m8 0h0m10 0h0m6 0h0m3 0h0m-98 1h0m5 0h0m6 0h0m2 0h0m6 0h0m52 0h0m2 0h1m5 0h1m3 0h0m4 0h0m-81 1h0m8 0h1m2 0h0m54 0h0m2 0h1m2 0h0m3 0h0m3 0h0m2 0h0m3 0h0m34 0h0m-118 1h0m4 0h0m67 0h0m3 0h1m24 0h0m-101 1h0m2 0h0m4 0h0m2 0h0m3 0h0m2 0h1m53 0h0m2 0h0m2 0h1m2 0h0m2 0h0m5 0h0m3 0h0m-84 1h0m3 0h0m3 0h0m2 0h1m7 0h0m53 0h1m2 0h0m2 0h1m2 0h0m3 0h0m-78 1h0m3 0h1m2 0h0m2 0h0m58 0h0m8 0h0m2 0h0m33 0h0m21 0h0m-133 1h0m11 0h0m59 0h1m6 0h1m2 0h0m5 0h0m6 0h0m15 0h0m-104 1h0m2 0h0m2 0h0m2 0h1m3 0h0m56 0h0m2 0h0m2 0h0m4 0h0m-76 1h0m2 0h0m2 0h0m2 0h0m4 0h0m2 0h0m57 0h0m11 0h0m4 0h0m7 0h0m-86 1h0m2 0h1m2 0h0m2 0h0m51 0h0m4 0h1m4 0h2m3 0h0m-77 1h0m2 0h0m3 0h0m4 0h1m2 0h0m57 0h0m2 0h2m7 0h0m28 0h0m6 0h0m-114 1h0m2 0h2m3 0h0m2 0h0m54 0h1m2 0h1m2 0h0m6 0h3m5 0h0m2 0h0m45 0h0m-127 1h0m4 0h0m4 0h0m59 0h0m4 0h0m2 0h0m4 0h0m21 0h0m-100 1h0m2 0h0m3 0h1m57 0h0m18 0h0m11 0h1m29 0h0m-123 1h0m2 0h0m2 0h0m61 0h0m2 0h1m4 0h0m34 0h0m-101 1h0m2 0h0m52 0h0m5 0h0m5 0h0m2 0h0m2 0h0m7 0h0m2 0h1m10 0h0m-93 1h0m4 0h0m61 0h0m2 0h0m38 0h0m-105 1h2m2 0h0m58 0h2m2 0h3m36 0h0m-101 1h0m55 0h0m4 0h0m4 0h0m14 0h0m-81 1h1m61 0h0m3 0h1m4 0h0m11 0h0m7 0h0m-85 1h0m2 0h0m50 0h1m2 0h2m10 0h1m13 0h0m-84 1h0m2 0h0m55 0h0m2 0h0m3 0h0m2 0h1m-11 1h0m3 0h0m4 0h0m10 0h0m30 0h0m-101 1h1m50 0h0m5 0h1m3 0h0m3 0h0m17 0h0m-27 1h0m2 0h0m2 0h0m3 0h1m3 0h1m13 0h0m8 0h0m4 0h0m15 0h0m3 0h0m-108 1h0m53 0h0m2 0h0m3 0h0m13 0h0m-71 1h0m2 0h0m52 0h0m2 0h0m3 0h0m3 0h0m4 0h0m-66 1h0m48 0h0m2 0h2m2 0h0m2 0h0m9 0h1m5 0h0m5 0h0m-28 1h0m6 0h0m-7 1h1m2 0h4m13 0h0m4 0h0m4 0h0m17 0h0m-92 1h0m53 0h0m9 0h0m15 0h0m23 0h0m-97 1h0m34 0h0m5 0h1m4 0h1m2 0h0m3 0h0m7 0h0m-60 1h0m35 0h0m6 0h0m3 0h4m4 0h0m4 0h0m2 0h1m43 0h0m-102 1h5m28 0h0m2 0h0m2 0h2m3 0h1m17 0h0" stroke-width="1.3"/>
<path d="M41 57h1m26 40h1m18 6h1m-21 3h0m-8 1h1m6 0h0m2 0h2m-11 1h2m3 0h2m3 0h0m4 0h0m7 0h0m-21 1h2m2 0h5m4 0h3m4 0h1m-22 1h2m2 0h0m2 0h4m5 0h3m-18 1h1m4 0h4m5 0h2m2 0h1m-27 1h1m7 0h4m3 0h1m4 0h0m2 0h5m-33 1h0m5 0h2m3 0h2m3 0h2m4 0h2m2 0h2m2 0h3m-28 1h8m2 0h5m2 0h3m2 0h0m3 0h5m-36 1h0m4 0h0m3 0h9m2 0h10m3 0h4m-37 1h1m5 0h16m2 0h8m2 0h2m-36 1h2m5 0h5m3 0h14m2 0h6m4 0h0m-51 1h0m5 0h0m4 0h1m2 0h0m2 0h6m3 0h2m2 0h15m2 0h0m2 0h2m-49 1h0m10 0h34m3 0h2m-49 1h1m2 0h1m7 0h1m3 0h19m3 0h7m2 0h0m-46 1h0m3 0h1m4 0h3m4 0h22m2 0h8m-48 1h0m3 0h1m2 0h0m4 0h2m3 0h25m2 0h1m2 0h1m2 0h1m-46 1h2m6 0h33m2 0h3m2 0h1m-52 1h4m2 0h0m4 0h0m2 0h0m2 0h25m3 0h0m2 0h2m3 0h3m-52 1h6m2 0h42m-49 1h1m3 0h22m2 0h4m2 0h5m2 0h2m2 0h4m-58 1h0m4 0h1m3 0h2m2 0h33m2 0h1m4 0h5m-57 1h0m4 0h2m3 0h39m7 0h1m-53 1h4m3 0h38m-45 1h2m2 0h2m2 0h0m2 0h3m2 0h24m2 0h3m-43 1h6m2 0h34m2 0h1m2 0h0m-51 1h47m2 0h2m-54 1h8m3 0h9m2 0h30m2 0h0m-53 1h6m2 0h37m3 0h2m4 0h0m-69 1h0m11 0h0m6 0h3m2 0h2m2 0h39m-66 1h1m10 0h4m3 0h0m2 0h46m-66 1h1m11 0h55m-67 1h0m12 0h3m2 0h46m2 0h1m-58 1h0m5 0h0m2 0h42m2 0h1m2 0h0m2 0h1m-53 1h11m2 0h36m2 0h2m-60 1h1m6 0h43m2 0h3m3 0h1m2 0h0m-61 1h0m7 0h4m2 0h40m2 0h1m-52 1h0m2 0h50m-53 1h2m2 0h45m2 0h3m-56 1h3m2 0h45m4 0h0m2 0h1m-56 1h0m2 0h40m2 0h2m2 0h2m2 0h2m-54 1h2m2 0h16m2 0h22m2 0h3m2 0h3m-55 1h52m-57 1h1m2 0h9m2 0h42m-56 1h0m3 0h45m2 0h3m2 0h0m-56 1h0m5 0h2m2 0h1m2 0h41m-48 1h0m2 0h45m-50 1h43m2 0h2m2 0h1m-51 1h37m2 0h8m4 0h0m-52 1h1m2 0h3m2 0h39m3 0h1m-49 1h39m2 0h8m-49 1h2m2 0h13m2 0h15m2 0h3m2 0h0m2 0h3m2 0h0m4 0h0m-54 1h0m2 0h0m2 0h40m-45 1h41m2 0h3m-46 1h2m2 0h0m2 0h33m2 0h5m-45 1h33m4 0h2m2 0h0m2 0h1m4 0h2m-50 1h1m3 0h27m2 0h0m5 0h2m4 0h0m-44 1h0m4 0h29m2 0h2m-32 1h26" stroke-width="2.1"/>
</g><rect x="127.4" y="21.3" width="92.2" height="83" fill="none" stroke="#2a2a2a" stroke-width="0.8"/>
<path d="M127.4 102.44h-1.5M127.4 99.91h-1.5M127.4 97.95h-1.5M127.4 96.34h-1.5M127.4 94.99h-1.5M127.4 93.81h-1.5M127.4 92.78h-1.5M127.4 91.85h-3M127.4 85.75h-1.5M127.4 82.19h-1.5M127.4 79.66h-1.5M127.4 77.7h-1.5M127.4 76.09h-1.5M127.4 74.74h-1.5M127.4 73.56h-1.5M127.4 72.53h-1.5M127.4 71.6h-3M127.4 65.5h-1.5M127.4 61.94h-1.5M127.4 59.41h-1.5M127.4 57.45h-1.5M127.4 55.84h-1.5M127.4 54.49h-1.5M127.4 53.31h-1.5M127.4 52.28h-1.5M127.4 51.35h-3M127.4 45.25h-1.5M127.4 41.69h-1.5M127.4 39.16h-1.5M127.4 37.2h-1.5M127.4 35.59h-1.5M127.4 34.24h-1.5M127.4 33.06h-1.5M127.4 32.03h-1.5M127.4 31.1h-3M127.4 25h-1.5M128.73 104.3v1.5M131.59 104.3v1.5M133.81 104.3v1.5M135.62 104.3v1.5M137.15 104.3v1.5M138.48 104.3v1.5M139.65 104.3v1.5M140.7 104.3v3M147.59 104.3v1.5M151.63 104.3v1.5M154.49 104.3v1.5M156.71 104.3v1.5M158.52 104.3v1.5M160.05 104.3v1.5M161.38 104.3v1.5M162.55 104.3v1.5M163.6 104.3v3M170.49 104.3v1.5M174.53 104.3v1.5M177.39 104.3v1.5M179.61 104.3v1.5M181.42 104.3v1.5M182.95 104.3v1.5M184.28 104.3v1.5M185.45 104.3v1.5M186.5 104.3v3M193.39 104.3v1.5M197.43 104.3v1.5M200.29 104.3v1.5M202.51 104.3v1.5M204.32 104.3v1.5M205.85 104.3v1.5M207.18 104.3v1.5M208.35 104.3v1.5M209.4 104.3v3M216.29 104.3v1.5" stroke="#000" stroke-width="0.85" fill="none"/>
<text x="141.3" y="115.2" font-size="6.6" text-anchor="middle">10<tspan font-size="4.4" dy="-2.3" dx="-0.5">2</tspan></text>
<text x="164.2" y="115.2" font-size="6.6" text-anchor="middle">10<tspan font-size="4.4" dy="-2.3" dx="-0.5">3</tspan></text>
<text x="187.2" y="115.2" font-size="6.6" text-anchor="middle">10<tspan font-size="4.4" dy="-2.3" dx="-0.5">4</tspan></text>
<text x="210.2" y="115.2" font-size="6.6" text-anchor="middle">10<tspan font-size="4.4" dy="-2.3" dx="-0.5">5</tspan></text>
<path d="M127.4 36.3h30v33.1h-30 M168 104.3v-24.9h23.6v24.9" fill="none" stroke="#333" stroke-width="0.8"/>
<text x="173.5" y="15.3" font-size="9.9" text-anchor="middle" font-weight="bold">T-bet<tspan font-size="6.2" dy="-2.7" letter-spacing="0.3">−/−</tspan><tspan dy="2.7"> LN</tspan></text>
<text x="131.6" y="31.5" font-size="9.5">2%</text>
<text x="211" y="100.6" font-size="9.5" text-anchor="end">1%</text>
<text x="173.8" y="126.2" font-size="9.4" text-anchor="middle">CD4 FITC-A</text>
<g transform="translate(227.4 21.3) scale(.5) translate(.5 .5)" fill="none" stroke="#000" stroke-linecap="square"><path d="M57 7h0m22 3h0m-53 2h0m70 3h0m-15 1h0m-15 4h0m43 1h0m22 0h0m-6 1h0m-79 1h0m78 0h0m-17 1h0m17 0h0m-12 1h0m-13 1h0m11 0h0m8 0h0m-8 2h0m-79 2h0m69 1h0m6 0h0m8 0h0m-37 1h0m32 0h0m11 0h0m-24 1h0m16 0h0m-86 1h0m61 1h0m22 0h0m-9 1h0m10 0h1m-13 1h0m36 0h0m-34 1h0m-5 1h0m15 1h1m-48 1h0m42 0h1m-77 2h0m15 1h0m52 0h0m3 0h0m10 0h0m-50 1h0m16 0h0m12 0h0m42 0h0m-93 1h0m9 0h0m49 0h0m3 0h0m-79 1h0m76 0h1m3 0h0m6 0h0m19 0h0m-93 1h0m50 0h0m-53 1h0m70 0h0m25 0h0m-91 1h0m9 0h0m2 0h0m18 0h0m37 0h0m-81 1h0m14 0h0m21 0h0m41 0h0m5 0h0m6 0h0m-66 1h1m43 0h0m8 0h0m-44 1h0m30 0h0m9 0h0m5 0h0m2 0h0m6 0h0m-77 1h2m44 0h0m15 0h0m4 0h0m16 0h0m-70 1h0m13 0h0m42 0h0m2 0h1m6 0h0m3 0h0m-89 1h0m25 0h0m2 0h0m56 0h0m-12 1h1m16 0h0m26 0h0m-73 1h0m17 0h0m6 0h1m13 0h0m3 0h0m2 0h0m-70 1h0m35 0h0m10 0h0m3 0h0m9 0h0m3 0h0m4 0h2m4 0h0m2 0h0m-62 1h0m23 0h0m9 0h0m12 0h0m3 0h0m3 0h1m3 0h0m10 0h1m-81 1h0m11 0h0m7 0h0m25 0h0m8 0h0m5 0h0m8 0h0m4 0h0m4 0h0m3 0h0m2 0h0m-74 1h0m4 0h0m5 0h0m28 0h0m7 0h0m3 0h0m8 0h0m3 0h1m3 0h0m3 0h0m4 0h0m17 0h0m-92 1h0m4 0h0m10 0h0m5 0h0m39 0h0m7 0h0m5 0h0m3 0h0m4 0h0m2 0h0m34 0h0m-81 1h0m23 0h1m3 0h1m4 0h0m2 0h0m3 0h0m3 0h0m2 0h0m7 0h0m-86 1h0m14 0h0m37 0h0m11 0h0m7 0h0m40 0h0m-86 1h1m4 0h1m31 0h0m2 0h0m3 0h1m3 0h0m3 0h1m4 0h0m4 0h0m-68 1h0m7 0h0m4 0h0m4 0h0m3 0h0m28 0h1m7 0h0m2 0h0m5 0h0m4 0h0m3 0h0m-86 1h0m31 0h0m18 0h1m12 0h1m7 0h0m5 0h0m10 0h0m-81 1h0m4 0h0m3 0h0m19 0h0m9 0h0m8 0h0m7 0h0m3 0h0m4 0h0m5 0h0m6 0h0m5 0h0m4 0h0m3 0h0m-83 1h0m11 0h0m2 0h0m3 0h0m6 0h0m10 0h0m8 0h0m7 0h0m5 0h0m11 0h1m6 0h1m5 0h0m3 0h1m90 0h0m-144 1h0m10 0h1m5 0h0m6 0h0m4 0h0m6 0h0m5 0h0m4 0h0m2 0h0m2 0h0m5 0h1m4 0h0m4 0h0m3 0h0m4 0h0m14 0h0m-107 1h1m7 0h0m12 0h0m22 0h0m5 0h0m12 0h0m6 0h1m2 0h2m2 0h1m6 0h0m-80 1h0m14 0h0m10 0h1m39 0h1m3 0h0m8 0h0m3 0h0m3 0h0m2 0h0m9 0h0m2 0h0m-96 1h0m27 0h0m8 0h0m10 0h0m7 0h1m10 0h0m3 0h0m2 0h0m2 0h0m5 0h0m3 0h0m11 0h0m-85 1h0m10 0h1m8 0h0m2 0h0m7 0h0m2 0h0m12 0h0m4 0h0m5 0h1m3 0h0m6 0h0m3 0h0m7 0h0m3 0h0m5 0h0m10 0h0m-92 1h0m7 0h0m4 0h0m7 0h0m17 0h0m10 0h0m2 0h1m2 0h0m3 0h0m2 0h0m3 0h0m2 0h0m5 0h1m6 0h1m3 0h1m5 0h0m5 0h0m-80 1h0m6 0h0m15 0h0m6 0h0m16 0h0m14 0h0m2 0h1m7 0h1m8 0h1m10 0h0m-78 1h0m4 0h0m13 0h0m2 0h1m5 0h0m2 0h0m5 0h0m2 0h0m2 0h1m2 0h0m3 0h0m5 0h0m2 0h0m9 0h0m6 0h0m3 0h0m30 0h0m-113 1h0m5 0h0m15 0h0m11 0h0m6 0h1m3 0h0m4 0h0m3 0h0m4 0h0m3 0h0m2 0h0m8 0h1m2 0h0m10 0h0m2 0h0m5 0h0m15 0h0m-100 1h0m4 0h0m26 0h0m10 0h0m6 0h0m3 0h3m3 0h0m10 0h0m2 0h0m6 0h0m2 0h0m2 0h0m5 0h2m3 0h0m-87 1h0m13 0h0m3 0h0m23 0h0m3 0h5m3 0h0m3 0h1m3 0h0m8 0h0m8 0h0m9 0h0m8 0h0m-84 1h0m6 0h0m6 0h0m13 0h0m2 0h0m9 0h0m6 0h0m2 0h0m2 0h0m21 0h0m3 0h0m6 0h0m5 0h1m-64 1h0m8 0h0m8 0h0m2 0h0m3 0h0m3 0h0m2 0h1m2 0h1m17 0h0m3 0h1m7 0h0m-70 1h0m4 0h0m2 0h0m9 0h0m12 0h1m2 0h0m6 0h0m2 0h0m25 0h0m17 0h0m-91 1h0m33 0h1m5 0h0m4 0h0m2 0h0m3 0h1m4 0h0m16 0h0m2 0h0m4 0h0m-47 1h0m6 0h0m8 0h0m4 0h0m9 0h0m17 0h2m2 0h0m3 0h0m7 0h0m-64 1h0m8 0h0m4 0h0m2 0h0m3 0h2m2 0h0m27 0h0m5 0h0m2 0h0m3 0h0m-64 1h0m5 0h0m3 0h0m15 0h0m5 0h1m24 0h0m2 0h0m4 0h0m2 0h0m4 0h1m8 0h0m-91 1h0m12 0h0m14 0h0m6 0h0m5 0h0m2 0h0m4 0h0m8 0h0m17 0h0m2 0h0m2 0h0m17 0h0m-86 1h0m11 0h0m5 0h0m8 0h0m5 0h0m5 0h0m2 0h0m5 0h0m29 0h3m2 0h0m4 0h1m15 0h0m-78 1h0m10 0h3m4 0h0m5 0h2m27 0h0m4 0h0m6 0h0m4 0h0m5 0h0m8 0h0m-81 1h0m8 0h0m3 0h0m6 0h1m4 0h1m31 0h0m4 0h0m2 0h0m4 0h0m-58 1h0m9 0h0m2 0h0m3 0h0m2 0h0m3 0h1m30 0h2m4 0h0m10 0h0m-89 1h0m17 0h0m9 0h0m3 0h0m2 0h0m3 0h0m6 0h0m31 0h0m2 0h0m4 0h0m2 0h0m-80 1h0m10 0h0m18 0h0m3 0h0m2 0h1m2 0h1m2 0h0m34 0h0m3 0h1m6 0h0m-81 1h0m25 0h0m6 0h0m2 0h0m2 0h0m41 0h0m-69 1h0m24 0h0m3 0h1m2 0h0m33 0h2m-47 1h1m2 0h0m4 0h1m3 0h0m33 0h0m5 0h1m7 0h1m-84 1h1m13 0h0m7 0h0m10 0h1m3 0h1m2 0h0m33 0h1m2 0h1m3 0h0m-78 1h1m16 0h0m15 0h0m2 0h0m2 0h0m36 0h0m4 0h1m2 0h0m-79 1h0m9 0h0m4 0h0m10 0h0m10 0h0m3 0h0m2 0h0m33 0h0m5 0h0m4 0h0m16 0h0m-77 1h0m7 0h2m5 0h0m3 0h0m2 0h0m40 0h0m-79 1h0m15 0h0m6 0h0m3 0h0m3 0h0m3 0h0m6 0h0m37 0h2m2 0h0m6 0h0m-83 1h0m19 0h0m4 0h1m2 0h1m2 0h2m2 0h0m45 0h0m8 0h0m12 0h0m-73 1h0m47 0h0m5 0h0m2 0h0m-78 1h0m22 0h0m2 0h0m4 0h0m2 0h0m43 0h0m4 0h0m4 0h0m-81 1h1m17 0h0m4 0h0m4 0h0m43 0h0m3 0h0m3 0h0m-76 1h0m24 0h0m2 0h2m4 0h1m39 0h0m2 0h0m8 0h0m-80 1h0m18 0h0m5 0h0m42 0h0m3 0h0m6 0h0m-76 1h0m12 0h0m9 0h0m2 0h0m3 0h0m6 0h1m34 0h0m2 0h0m-63 1h0m7 0h0m9 0h0m4 0h0m38 0h0m2 0h1m2 0h0m33 0h0m-102 1h0m22 0h0m2 0h0m44 0h0m8 0h0m-68 1h0m11 0h0m5 0h1m3 0h0m2 0h0m34 0h0m2 0h1m-66 1h0m17 0h1m6 0h0m41 0h0m2 0h2m6 0h0m6 0h0m-63 1h0m2 0h1m46 0h0m4 0h0m-56 1h0m5 0h0m48 0h0m7 0h0m3 0h0m52 0h0m-129 1h0m21 0h1m42 0h1m2 0h0m7 0h0m8 0h0m-73 1h2m4 0h0m3 0h0m41 0h0m2 0h0m2 0h0m2 0h0m-67 1h0m22 0h0m2 0h0m2 0h0m37 0h0m2 0h0m5 0h0m5 0h0m-67 1h0m4 0h0m3 0h0m9 0h0m41 0h1m19 0h0m-84 1h0m16 0h0m48 0h0m2 0h1m2 0h0m30 0h0m6 0h0m-101 1h0m11 0h0m2 0h0m44 0h1m-55 1h0m8 0h1m3 0h0m47 0h0m11 0h0m-60 1h1m43 0h0m3 0h0m2 0h0m9 0h0m23 0h0m-99 1h0m9 0h0m4 0h0m50 0h0m6 0h0m-57 1h1m4 0h1m44 0h0m4 0h0m-66 1h0m4 0h0m7 0h1m3 0h0m42 0h0m2 0h0m3 0h0m11 0h0m20 0h0m-93 1h1m4 0h0m6 0h0m4 0h0m46 0h0m6 0h0m-67 1h1m12 0h0m6 0h0m40 0h0m3 0h2m2 0h0m21 0h0m25 0h0m-102 1h0m2 0h0m2 0h1m44 0h0m2 0h0m6 0h2m-69 1h0m6 0h1m2 0h1m7 0h0m2 0h0m41 0h0m6 0h0m43 0h0m-107 1h1m9 0h0m2 0h0m43 0h0m2 0h0m12 0h0m44 0h0m-113 1h0m6 0h0m2 0h0m7 0h1m39 0h0m2 0h0m5 0h1m3 0h0m51 0h0m-119 1h0m6 0h0m48 0h0m5 0h0m33 0h0m-92 1h0m56 0h1m2 0h1m3 0h2m44 0h0m-105 1h0m4 0h0m2 0h1m40 0h0m2 0h0m2 0h1m2 0h0m2 0h1m2 0h0m9 0h0m-71 1h4m2 0h1m45 0h0m5 0h0m8 0h0m45 0h0m2 0h0m8 0h0m2 0h0m-122 1h0m7 0h0m45 0h1m2 0h1m3 0h0m3 0h1m60 0h0m-69 1h0m2 0h0m-52 1h2m46 0h2m4 0h0m47 0h0m-106 1h0m2 0h2m3 0h0m49 0h1m5 0h0m2 0h0m6 0h0m33 0h0m9 0h0m-112 1h1m49 0h0m2 0h0m2 0h0m5 0h0m-56 1h0m2 0h0m51 0h0m3 0h0m-58 1h1m49 0h1m8 0h1m3 0h0m6 0h0m35 0h0m-105 1h0m9 0h0m40 0h0m4 0h4m9 0h0m37 0h0m16 0h0m-117 1h0m48 0h0m2 0h0m42 0h0m23 0h0m-115 1h0m48 0h0m7 0h0m44 0h0m-99 1h0m52 0h0m34 0h0m-87 1h0m2 0h0m51 0h0m3 0h0m5 0h0m23 0h0m40 0h0m-124 1h0m51 0h0m5 0h0m2 0h1m5 0h0m56 0h0m-74 1h0m2 0h1m6 0h0m5 0h0m-61 1h1m49 0h0m10 0h0m31 0h0m-43 1h0m5 0h1m6 0h0m-60 1h0m48 0h1m3 0h0m-52 1h0m50 0h1m2 0h0m13 0h0m15 0h0m47 0h0m-128 1h0m3 0h0m42 0h0m5 0h0m11 0h0m40 0h0m-101 1h0m3 0h0m37 0h0m6 0h0m7 0h0m3 0h0m36 0h0m-55 1h0m5 0h0m2 0h0m2 0h0m2 0h2m2 0h0m12 0h0m10 0h0m-35 1h1m4 0h0m2 0h0m8 0h0m-54 1h0m37 0h1m3 0h1m2 0h0m3 0h0m4 0h0m71 0h0m-122 1h0m39 0h0m5 0h0m-44 1h1m34 0h1m8 0h0m3 0h0m4 0h0m-50 1h0m2 0h0m34 0h4m3 0h0m2 0h0m-45 1h1m2 0h1m16 0h2m5 0h1m2 0h3m2 0h0m8 0h0" stroke-width="1.3"/>
<path d="M79 72h1m-6 1h1m4 0h1m-7 1h1m-11 1h1m7 0h3m-18 1h0m7 0h2m5 0h3m-17 1h0m6 0h2m6 0h2m-11 1h1m2 0h0m7 0h2m-17 1h0m5 0h3m7 0h3m-18 1h0m4 0h1m3 0h1m5 0h0m2 0h2m-14 1h1m2 0h3m4 0h3m-16 1h2m2 0h4m2 0h1m2 0h1m2 0h1m-17 1h4m2 0h1m2 0h4m4 0h0m-31 1h0m12 0h0m3 0h13m3 0h1m-21 1h1m3 0h4m2 0h2m2 0h0m2 0h1m4 0h0m-23 1h3m2 0h0m3 0h2m3 0h7m-22 1h7m3 0h1m2 0h8m-22 1h2m2 0h0m2 0h3m2 0h8m2 0h0m3 0h0m-25 1h3m3 0h15m-29 1h0m5 0h0m4 0h3m2 0h16m-30 1h0m8 0h17m2 0h5m-25 1h2m2 0h1m2 0h6m2 0h10m-25 1h15m2 0h8m6 0h0m-35 1h7m2 0h19m7 0h0m-37 1h0m2 0h2m2 0h0m2 0h7m2 0h14m-32 1h5m2 0h26m-32 1h30m-29 1h24m2 0h2m-35 1h0m6 0h23m2 0h2m2 0h1m-30 1h3m2 0h26m-30 1h2m2 0h16m2 0h3m2 0h0m2 0h1m-31 1h29m3 0h0m-35 1h0m2 0h33m-36 1h28m2 0h1m2 0h3m-40 1h5m2 0h23m2 0h1m2 0h0m2 0h2m-39 1h2m2 0h23m2 0h8m-40 1h1m2 0h1m2 0h0m2 0h27m2 0h3m-40 1h2m3 0h31m2 0h2m-39 1h0m5 0h29m2 0h0m-39 1h4m3 0h31m-38 1h4m2 0h26m2 0h1m-35 1h0m3 0h0m2 0h31m-36 1h0m4 0h32m-37 1h2m2 0h32m2 0h1m-39 1h2m2 0h35m-39 1h0m2 0h3m2 0h31m-43 1h1m3 0h2m2 0h30m2 0h0m2 0h1m-43 1h2m2 0h2m2 0h31m-41 1h1m7 0h9m2 0h23m-43 1h2m3 0h0m5 0h25m2 0h4m2 0h2m-45 1h4m2 0h3m2 0h31m2 0h2m-43 1h2m2 0h31m3 0h2m-40 1h0m2 0h37m-40 1h0m2 0h2m2 0h0m2 0h29m2 0h2m-41 1h3m2 0h26m2 0h8m-41 1h36m3 0h2m-45 1h33m2 0h4m3 0h0m-42 1h2m2 0h3m2 0h32m2 0h0m-43 1h2m3 0h32m2 0h3m2 0h0m-43 1h0m3 0h23m2 0h9m2 0h1m-46 1h0m4 0h1m4 0h34m2 0h0m-46 1h0m5 0h0m5 0h36m-45 1h3m2 0h0m4 0h36m-44 1h5m2 0h31m2 0h1m3 0h0m-44 1h1m2 0h36m-38 1h37m-40 1h0m2 0h1m2 0h34m-40 1h7m2 0h34m-43 1h1m2 0h33m2 0h5m-44 1h41m2 0h0m-43 1h2m2 0h33m2 0h1m2 0h3m-50 1h0m6 0h2m2 0h3m2 0h11m2 0h18m-47 1h0m4 0h3m2 0h38m-45 1h4m2 0h39m-46 1h0m2 0h2m3 0h32m2 0h4m-45 1h1m2 0h1m2 0h0m2 0h30m3 0h3m-44 1h44m4 0h1m-48 1h36m2 0h6m3 0h2m-47 1h10m2 0h25m2 0h0m2 0h5m-50 1h0m2 0h45m2 0h0m-50 1h0m2 0h39m2 0h0m2 0h0m-44 1h1m3 0h32m2 0h5m-43 1h37m2 0h1m2 0h3m-46 1h0m2 0h24m2 0h12m2 0h4m-46 1h2m2 0h32m2 0h3m2 0h0m-42 1h0m3 0h35m2 0h2m-43 1h0m4 0h31m2 0h1m2 0h2m2 0h0m-45 1h3m2 0h31m-36 1h36m9 0h0m-44 1h23m2 0h10m9 0h0m-43 1h27m3 0h2m3 0h0m-33 1h3m2 0h24m5 0h0m-33 1h16m2 0h5m2 0h1m2 0h2m-29 1h14m4 0h3" stroke-width="2.1"/>
</g><rect x="227.4" y="21.3" width="92.2" height="83" fill="none" stroke="#2a2a2a" stroke-width="0.8"/>
<path d="M227.4 102.44h-1.5M227.4 99.91h-1.5M227.4 97.95h-1.5M227.4 96.34h-1.5M227.4 94.99h-1.5M227.4 93.81h-1.5M227.4 92.78h-1.5M227.4 91.85h-3M227.4 85.75h-1.5M227.4 82.19h-1.5M227.4 79.66h-1.5M227.4 77.7h-1.5M227.4 76.09h-1.5M227.4 74.74h-1.5M227.4 73.56h-1.5M227.4 72.53h-1.5M227.4 71.6h-3M227.4 65.5h-1.5M227.4 61.94h-1.5M227.4 59.41h-1.5M227.4 57.45h-1.5M227.4 55.84h-1.5M227.4 54.49h-1.5M227.4 53.31h-1.5M227.4 52.28h-1.5M227.4 51.35h-3M227.4 45.25h-1.5M227.4 41.69h-1.5M227.4 39.16h-1.5M227.4 37.2h-1.5M227.4 35.59h-1.5M227.4 34.24h-1.5M227.4 33.06h-1.5M227.4 32.03h-1.5M227.4 31.1h-3M227.4 25h-1.5M228.73 104.3v1.5M231.59 104.3v1.5M233.81 104.3v1.5M235.62 104.3v1.5M237.15 104.3v1.5M238.48 104.3v1.5M239.65 104.3v1.5M240.7 104.3v3M247.59 104.3v1.5M251.63 104.3v1.5M254.49 104.3v1.5M256.71 104.3v1.5M258.52 104.3v1.5M260.05 104.3v1.5M261.38 104.3v1.5M262.55 104.3v1.5M263.6 104.3v3M270.49 104.3v1.5M274.53 104.3v1.5M277.39 104.3v1.5M279.61 104.3v1.5M281.42 104.3v1.5M282.95 104.3v1.5M284.28 104.3v1.5M285.45 104.3v1.5M286.5 104.3v3M293.39 104.3v1.5M297.43 104.3v1.5M300.29 104.3v1.5M302.51 104.3v1.5M304.32 104.3v1.5M305.85 104.3v1.5M307.18 104.3v1.5M308.35 104.3v1.5M309.4 104.3v3M316.29 104.3v1.5" stroke="#000" stroke-width="0.85" fill="none"/>
<text x="241.3" y="115.2" font-size="6.6" text-anchor="middle">10<tspan font-size="4.4" dy="-2.3" dx="-0.5">2</tspan></text>
<text x="264.2" y="115.2" font-size="6.6" text-anchor="middle">10<tspan font-size="4.4" dy="-2.3" dx="-0.5">3</tspan></text>
<text x="287.2" y="115.2" font-size="6.6" text-anchor="middle">10<tspan font-size="4.4" dy="-2.3" dx="-0.5">4</tspan></text>
<text x="310.2" y="115.2" font-size="6.6" text-anchor="middle">10<tspan font-size="4.4" dy="-2.3" dx="-0.5">5</tspan></text>
<path d="M227.4 36.3h30v33.1h-30 M268 104.3v-24.4h23.6v24.4" fill="none" stroke="#333" stroke-width="0.8"/>
<text x="273.5" y="15.3" font-size="9.9" text-anchor="middle" font-weight="bold">T-bet<tspan font-size="6.2" dy="-2.7" letter-spacing="0.3">−/−</tspan><tspan dy="2.7"> LN IFN</tspan></text>
<text x="231.6" y="31.5" font-size="9.5">2%</text>
<text x="311" y="100.6" font-size="9.5" text-anchor="end">1%</text>
<text x="273.8" y="126.2" font-size="9.4" text-anchor="middle">CD4 FITC-A</text>
<g transform="translate(327.4 21.3) scale(.5) translate(.5 .5)" fill="none" stroke="#000" stroke-linecap="square"><path d="M112 7h0m-67 4h0m-27 2h0m53 1h0m-20 2h0m38 0h0m-16 2h0m52 2h0m-83 1h0m-14 1h0m5 0h0m2 0h0m4 0h0m37 0h0m10 0h0m-36 1h0m17 0h0m42 0h0m-68 1h0m10 0h0m6 0h0m15 0h0m40 0h0m-62 1h0m-25 1h0m15 0h0m11 0h0m-41 1h0m37 0h0m37 0h0m-59 1h0m2 0h0m7 0h0m6 0h0m55 0h0m-82 1h0m21 0h0m14 0h0m7 0h0m-43 1h0m14 0h0m5 0h0m5 0h0m3 0h0m4 0h0m24 0h0m6 0h0m-50 1h0m8 0h0m52 0h0m-49 1h0m8 0h0m14 0h0m13 0h0m-47 1h0m11 0h0m-11 1h0m5 0h1m12 0h0m10 0h0m26 0h0m9 0h0m12 0h0m23 0h0m-105 1h0m13 0h0m3 0h0m3 0h0m-33 1h0m15 0h0m2 0h0m7 0h0m2 0h0m2 0h0m3 0h0m2 0h0m6 0h0m51 0h0m-89 1h0m21 0h0m7 0h0m5 0h0m2 0h0m2 0h0m2 0h1m5 0h0m4 0h0m-49 1h0m15 0h0m2 0h0m6 0h0m5 0h0m5 0h0m5 0h1m2 0h0m5 0h1m-48 1h1m15 0h0m3 0h0m4 0h0m3 0h0m2 0h0m2 0h0m3 0h0m8 0h1m3 0h0m2 0h0m12 0h0m20 0h0m21 0h0m-88 1h0m8 0h1m4 0h0m2 0h0m4 0h0m2 0h0m3 0h0m6 0h0m2 0h0m7 0h0m-50 1h0m6 0h0m2 0h0m14 0h0m3 0h0m3 0h0m6 0h0m9 0h0m5 0h0m-48 1h0m5 0h0m2 0h0m9 0h0m3 0h0m2 0h0m6 0h1m2 0h1m4 0h1m3 0h3m2 0h0m7 0h0m5 0h0m2 0h0m2 0h0m2 0h0m6 0h0m20 0h0m-89 1h0m11 0h0m11 0h0m4 0h0m4 0h0m2 0h0m6 0h0m4 0h0m8 0h0m6 0h1m5 0h1m24 0h0m7 0h0m-94 1h1m9 0h0m6 0h1m2 0h0m6 0h0m5 0h0m6 0h0m4 0h0m5 0h0m2 0h0m28 0h0m6 0h0m-80 1h0m4 0h0m5 0h1m2 0h0m2 0h0m10 0h0m2 0h0m2 0h0m5 0h0m2 0h0m2 0h0m8 0h2m2 0h0m25 0h0m25 0h0m-84 1h0m7 0h0m2 0h0m4 0h0m4 0h1m2 0h0m4 0h2m3 0h0m5 0h0m2 0h0m18 0h0m28 0h0m-87 1h0m7 0h0m2 0h0m7 0h0m2 0h0m2 0h0m3 0h0m3 0h1m5 0h0m2 0h0m5 0h0m3 0h0m3 0h1m32 0h0m-84 1h0m8 0h0m2 0h1m6 0h0m2 0h0m4 0h1m3 0h0m4 0h0m3 0h0m3 0h0m2 0h0m3 0h0m7 0h1m5 0h0m3 0h0m-62 1h0m10 0h0m4 0h0m2 0h2m5 0h0m2 0h0m4 0h0m2 0h0m4 0h0m5 0h0m3 0h0m4 0h0m2 0h1m3 0h0m4 0h0m20 0h0m6 0h0m-71 1h0m2 0h0m7 0h0m4 0h0m2 0h0m2 0h0m3 0h3m2 0h0m3 0h0m6 0h3m9 0h0m2 0h0m-53 1h0m4 0h1m3 0h0m3 0h0m9 0h0m5 0h0m10 0h0m3 0h0m5 0h0m10 0h0m2 0h0m18 0h0m-80 1h0m9 0h0m9 0h0m4 0h1m2 0h1m2 0h0m2 0h2m2 0h0m2 0h1m2 0h2m3 0h0m8 0h0m5 0h0m2 0h0m5 0h1m28 0h0m-94 1h0m2 0h0m3 0h0m9 0h0m5 0h0m4 0h0m11 0h0m7 0h0m2 0h1m2 0h0m6 0h0m-52 1h0m2 0h0m2 0h0m2 0h0m2 0h2m6 0h1m3 0h1m2 0h0m3 0h0m6 0h0m4 0h0m4 0h0m9 0h0m5 0h1m10 0h0m7 0h0m8 0h0m-80 1h0m2 0h0m3 0h0m7 0h0m5 0h1m5 0h1m2 0h0m6 0h1m7 0h0m6 0h0m4 0h2m3 0h0m3 0h1m2 0h0m-59 1h0m2 0h0m2 0h0m5 0h0m2 0h0m5 0h1m2 0h0m7 0h2m2 0h0m4 0h0m2 0h0m2 0h0m2 0h0m4 0h2m14 0h0m3 0h0m20 0h0m8 0h0m-92 1h0m3 0h0m17 0h1m11 0h0m3 0h0m2 0h2m2 0h2m5 0h0m2 0h1m2 0h0m11 0h1m2 0h0m-61 1h2m3 0h0m4 0h0m3 0h1m5 0h2m2 0h1m2 0h0m2 0h0m3 0h0m4 0h1m3 0h3m2 0h0m5 0h0m9 0h0m28 0h0m-92 1h1m3 0h0m15 0h0m4 0h0m3 0h0m6 0h2m3 0h0m2 0h1m9 0h0m2 0h1m2 0h0m4 0h1m8 0h0m7 0h0m9 0h0m7 0h0m51 0h0m-140 1h1m5 0h0m2 0h0m3 0h0m4 0h0m4 0h0m5 0h0m3 0h0m2 0h0m7 0h3m11 0h1m3 0h0m4 0h0m10 0h0m-65 1h0m5 0h0m5 0h0m2 0h0m4 0h0m4 0h1m2 0h0m2 0h0m4 0h0m21 0h0m22 0h0m11 0h0m7 0h1m-95 1h2m10 0h0m7 0h0m2 0h0m2 0h0m2 0h1m3 0h0m3 0h3m2 0h0m3 0h2m7 0h0m4 0h0m2 0h0m23 0h0m-78 1h0m7 0h0m2 0h0m2 0h0m2 0h0m4 0h1m3 0h0m4 0h0m3 0h0m3 0h0m4 0h0m2 0h2m2 0h0m3 0h0m6 0h0m5 0h0m3 0h0m2 0h0m18 0h0m-78 1h1m3 0h0m3 0h0m7 0h0m2 0h1m3 0h2m3 0h0m2 0h1m3 0h0m2 0h1m3 0h0m15 0h0m3 0h0m6 0h0m5 0h1m3 0h0m7 0h0m26 0h0m3 0h0m-98 1h1m3 0h0m2 0h0m4 0h2m3 0h0m2 0h0m3 0h1m5 0h2m2 0h1m2 0h0m4 0h0m10 0h0m26 0h0m-75 1h0m8 0h0m2 0h1m5 0h1m9 0h0m8 0h0m3 0h0m2 0h1m2 0h0m5 0h0m7 0h0m19 0h0m4 0h0m5 0h0m-70 1h0m4 0h0m2 0h0m3 0h0m3 0h1m2 0h0m2 0h0m5 0h0m3 0h0m11 0h0m21 0h0m4 0h0m3 0h0m19 0h0m-101 1h0m9 0h0m3 0h0m3 0h2m3 0h0m6 0h0m6 0h0m5 0h0m4 0h0m2 0h0m6 0h0m2 0h0m6 0h0m3 0h0m4 0h0m-52 1h0m3 0h0m2 0h0m3 0h0m2 0h0m3 0h0m3 0h0m7 0h0m3 0h1m4 0h0m3 0h0m6 0h1m22 0h0m-58 1h0m2 0h0m3 0h0m3 0h0m3 0h0m2 0h0m6 0h1m3 0h1m11 0h0m4 0h0m7 0h0m20 0h0m-80 1h0m12 0h0m2 0h1m5 0h0m4 0h0m3 0h2m2 0h1m3 0h0m2 0h0m2 0h0m4 0h0m3 0h0m6 0h1m2 0h0m11 0h0m3 0h0m4 0h0m26 0h0m15 0h0m-117 1h0m2 0h0m13 0h0m2 0h0m3 0h0m4 0h0m5 0h1m9 0h0m3 0h1m8 0h0m5 0h1m19 0h1m9 0h0m2 0h0m13 0h0m2 0h0m10 0h0m-113 1h0m9 0h0m2 0h0m3 0h0m3 0h0m4 0h0m3 0h0m2 0h0m2 0h0m6 0h0m2 0h0m10 0h0m3 0h0m6 0h0m20 0h0m17 0h0m-91 1h0m5 0h0m6 0h0m3 0h0m7 0h0m8 0h0m4 0h0m8 0h0m3 0h0m10 0h0m13 0h0m-66 1h0m6 0h0m9 0h1m10 0h0m2 0h0m2 0h0m4 0h0m2 0h0m2 0h0m2 0h0m3 0h3m10 0h1m3 0h0m17 0h0m12 0h0m-91 1h0m7 0h0m2 0h0m5 0h0m2 0h0m2 0h1m13 0h0m3 0h0m3 0h0m4 0h0m13 0h0m23 0h0m-74 1h0m8 0h0m10 0h0m4 0h0m5 0h0m4 0h0m9 0h0m12 0h0m2 0h0m2 0h0m2 0h0m3 0h0m2 0h0m4 0h0m5 0h1m4 0h0m9 0h0m13 0h0m-76 1h0m13 0h0m3 0h0m5 0h1m12 0h1m6 0h1m6 0h0m4 0h0m10 0h0m-86 1h0m12 0h0m7 0h1m7 0h0m4 0h0m2 0h0m2 0h0m13 0h0m2 0h0m14 0h0m10 0h0m3 0h1m7 0h0m3 0h0m-59 1h0m2 0h0m6 0h0m3 0h0m2 0h0m2 0h0m2 0h0m2 0h1m6 0h0m4 0h0m7 0h0m6 0h0m2 0h0m8 0h0m10 0h0m-94 1h0m21 0h0m3 0h0m4 0h0m3 0h0m5 0h0m3 0h1m7 0h0m3 0h0m6 0h1m4 0h0m2 0h0m6 0h0m2 0h0m2 0h1m5 0h0m-74 1h0m5 0h0m4 0h0m4 0h0m8 0h0m3 0h1m5 0h2m5 0h4m7 0h0m3 0h0m2 0h0m8 0h0m2 0h0m2 0h0m2 0h0m7 0h0m2 0h0m5 0h0m-86 1h1m3 0h0m30 0h0m4 0h0m2 0h0m9 0h1m2 0h0m6 0h0m2 0h0m2 0h0m3 0h0m2 0h0m2 0h0m3 0h0m2 0h0m2 0h0m-75 1h0m13 0h0m12 0h0m7 0h1m6 0h0m15 0h1m2 0h0m4 0h0m3 0h0m3 0h0m2 0h2m2 0h0m2 0h0m3 0h0m5 0h0m4 0h0m3 0h0m2 0h0m-92 1h0m6 0h0m7 0h0m3 0h0m14 0h0m6 0h1m5 0h1m3 0h1m2 0h1m2 0h0m6 0h0m2 0h0m2 0h0m4 0h0m5 0h0m4 0h1m-78 1h2m5 0h0m17 0h0m4 0h0m9 0h0m3 0h0m6 0h3m4 0h0m6 0h0m2 0h0m2 0h0m2 0h1m2 0h0m3 0h0m4 0h0m2 0h1m3 0h1m4 0h0m6 0h0m3 0h0m-93 1h0m24 0h0m7 0h0m5 0h0m2 0h0m5 0h0m5 0h2m4 0h1m2 0h0m4 0h0m5 0h0m2 0h1m2 0h0m3 0h0m3 0h0m10 0h0m5 0h0m-94 1h0m3 0h0m9 0h0m2 0h0m3 0h0m8 0h0m9 0h0m3 0h0m5 0h0m2 0h0m2 0h0m3 0h0m6 0h0m2 0h0m2 0h2m2 0h0m2 0h1m4 0h0m2 0h0m3 0h0m2 0h1m11 0h0m-89 1h1m22 0h0m9 0h0m5 0h1m2 0h0m4 0h0m2 0h0m3 0h0m2 0h0m8 0h0m6 0h0m2 0h3m3 0h0m5 0h0m2 0h0m6 0h0m4 0h0m-84 1h1m4 0h2m7 0h0m3 0h0m3 0h0m8 0h0m5 0h4m6 0h1m3 0h0m6 0h2m6 0h0m6 0h0m2 0h0m3 0h0m2 0h1m2 0h2m2 0h0m5 0h1m-71 1h0m3 0h0m5 0h1m7 0h0m5 0h0m2 0h3m13 0h0m20 0h0m2 0h0m9 0h0m-62 1h0m3 0h1m6 0h0m2 0h0m3 0h0m14 0h1m7 0h0m6 0h2m2 0h0m2 0h0m2 0h0m3 0h1m2 0h1m6 0h0m-88 1h0m14 0h0m4 0h0m8 0h0m2 0h0m2 0h0m2 0h0m7 0h0m12 0h0m2 0h0m30 0h0m-89 1h1m9 0h0m11 0h0m4 0h0m2 0h0m4 0h1m4 0h0m2 0h0m5 0h0m12 0h0m2 0h0m3 0h0m16 0h0m4 0h3m4 0h2m7 0h0m-91 1h0m11 0h0m5 0h0m7 0h1m4 0h0m2 0h0m3 0h0m19 0h0m2 0h0m11 0h0m2 0h0m6 0h0m18 0h0m-77 1h0m3 0h1m2 0h0m2 0h1m3 0h1m3 0h0m5 0h0m2 0h0m34 0h0m3 0h0m2 0h0m4 0h0m39 0h0m-123 1h0m11 0h0m5 0h1m11 0h0m4 0h0m6 0h0m2 0h0m30 0h0m6 0h0m2 0h0m3 0h0m2 0h0m7 0h0m3 0h0m-72 1h0m2 0h0m3 0h1m7 0h0m6 0h0m2 0h0m35 0h0m2 0h0m3 0h0m4 0h0m-86 1h0m5 0h1m5 0h0m3 0h0m4 0h1m2 0h1m7 0h0m12 0h0m34 0h0m5 0h0m14 0h0m-95 1h1m5 0h0m5 0h0m9 0h0m2 0h0m4 0h0m2 0h1m4 0h0m9 0h0m6 0h0m23 0h0m5 0h0m2 0h3m2 0h0m2 0h0m4 0h0m10 0h0m-96 1h0m16 0h1m4 0h0m2 0h0m7 0h0m17 0h0m26 0h0m2 0h0m6 0h0m22 0h0m-105 1h0m10 0h0m16 0h0m2 0h0m49 0h0m3 0h0m6 0h1m-88 1h0m12 0h0m3 0h0m2 0h0m4 0h0m3 0h1m51 0h2m3 0h2m6 0h0m-81 1h0m10 0h1m2 0h0m5 0h0m54 0h1m4 0h0m-74 1h0m3 0h0m9 0h0m52 0h0m2 0h0m2 0h0m4 0h0m-82 1h0m2 0h0m6 0h1m2 0h0m2 0h0m2 0h1m3 0h1m5 0h0m49 0h2m4 0h0m2 0h0m7 0h1m2 0h0m-87 1h2m2 0h0m2 0h0m3 0h0m2 0h1m3 0h0m2 0h0m51 0h0m4 0h0m5 0h0m21 0h0m-93 1h1m2 0h0m6 0h0m56 0h0m3 0h1m5 0h0m2 0h0m-86 1h1m7 0h0m5 0h0m2 0h1m4 0h1m50 0h0m3 0h0m2 0h0m3 0h0m4 0h0m5 0h0m4 0h0m-87 1h1m3 0h0m3 0h0m2 0h0m55 0h0m2 0h0m4 0h0m12 0h1m3 0h0m2 0h1m18 0h0m-112 1h2m2 0h1m7 0h0m60 0h0m2 0h0m14 0h0m10 0h0m-98 1h0m2 0h1m2 0h0m5 0h0m3 0h0m5 0h0m51 0h0m2 0h1m4 0h0m4 0h0m9 0h0m2 0h0m17 0h0m-106 1h0m3 0h0m4 0h0m2 0h0m7 0h0m51 0h0m4 0h1m5 0h0m4 0h0m2 0h0m5 0h0m4 0h0m-92 1h0m5 0h0m4 0h0m2 0h0m4 0h0m52 0h0m2 0h0m5 0h0m3 0h0m4 0h0m34 0h0m-118 1h2m2 0h0m9 0h0m61 0h0m3 0h0m-77 1h0m7 0h0m63 0h0m14 0h0m5 0h0m14 0h0m-101 1h0m3 0h0m2 0h0m62 0h0m2 0h0m2 0h0m2 0h0m2 0h0m-71 1h0m63 0h0m2 0h0m2 0h0m4 0h0m4 0h0m17 0h0m2 0h1m-100 1h1m65 0h0m6 0h0m-73 1h0m5 0h0m5 0h0m56 0h0m6 0h0m2 0h0m2 0h0m9 0h1m-82 1h0m4 0h0m62 0h0m2 0h0m4 0h0m-75 1h1m2 0h1m66 0h2m2 0h0m13 0h0m8 0h0m-96 1h0m3 0h0m3 0h0m63 0h0m7 0h0m11 0h0m-84 1h0m64 0h0m2 0h0m14 0h0m15 0h0m2 0h0m14 0h0m-114 1h0m69 0h0m5 0h0m10 0h0m8 0h0m2 0h0m9 0h1m-40 1h5m3 0h0m5 0h0m-77 1h0m71 0h0m2 0h0m2 0h0m12 0h0m2 0h0m5 0h0m10 0h0m17 0h0m-121 1h0m63 0h3m23 0h0m-89 1h0m59 0h0m14 0h0m2 0h0m5 0h0m5 0h0m11 0h0m21 0h0m-117 1h0m61 0h1m2 0h1m2 0h0m2 0h0m2 0h1m5 0h0m3 0h0m3 0h0m16 0h1m8 0h0m-49 1h0m2 0h0m2 0h0m4 0h0m13 0h0m18 0h0m-98 1h0m60 0h1m10 0h0m2 0h1m23 0h0m2 0h0m-99 1h0m58 0h0m2 0h0m3 0h0m2 0h0m3 0h2m3 0h0m2 0h0m3 0h0m14 0h0m22 0h0m-54 1h0m3 0h0m2 0h0m5 0h0m6 0h0m16 0h0m5 0h0m6 0h0m-103 1h0m94 0h0m18 0h0m-112 1h0m59 0h0m2 0h0m2 0h0m2 0h0m37 0h0m-45 1h1m2 0h1m7 0h0m30 0h0m5 0h0m8 0h0m-111 1h0m51 0h0m2 0h0m2 0h0m4 0h0m4 0h1m9 0h0m18 0h0m14 0h0m-105 1h0m57 0h0m2 0h1m4 0h0m23 0h0m26 0h0m-113 1h0m52 0h0m2 0h0m19 0h0m30 0h0m-48 1h3m3 0h0m4 0h2m3 0h0m22 0h0m2 0h0m-38 1h0m4 0h0m5 0h0m3 0h0m23 0h1m8 0h0m-45 1h0m3 0h1m4 0h0m18 0h0m22 0h0m-53 1h0m3 0h0m2 0h0m7 0h0m22 0h0m12 0h0m-96 1h0m50 0h0m2 0h0m4 0h1m2 0h0m2 0h2m3 0h0m44 0h0m-61 1h0m2 0h0m2 0h0m2 0h1m33 0h2m2 0h0m-93 1h0m48 0h0m3 0h1m6 0h0m28 0h0m21 0h0m-57 1h1m4 0h0m2 0h0m6 0h0m16 0h0m-25 1h1m21 0h0m30 0h0m2 0h0m-58 1h2m35 0h0m6 0h0m22 0h0m-71 1h1m2 0h0m2 0h0m5 0h1m-8 1h0m3 0h0m5 0h0m22 0h0m20 0h0m-55 1h0m2 0h1m2 0h0m5 0h0m34 0h0m-46 1h0m3 0h0m3 0h1m2 0h0m49 0h1m-64 1h1m2 0h0m3 0h1m3 0h0m6 0h0m14 0h0m22 0h0m-49 1h0m3 0h0m3 0h0m2 0h0m3 0h0m8 0h0m3 0h0m3 0h0m-28 1h0m5 0h1m3 0h0m2 0h1m8 0h0m-20 1h0m2 0h2m4 0h1m18 0h0m35 0h0m10 0h0m-68 1h0m2 0h0m2 0h0m5 0h0m11 0h0m-24 1h0m2 0h1m5 0h2m2 0h0m15 0h0m-35 1h0m9 0h0m3 0h0m3 0h0m3 0h0m4 0h0m56 0h0m-78 1h0m3 0h0m6 0h0m3 0h0m3 0h0m4 0h0m2 0h0m62 0h0m-110 1h0m27 0h0m10 0h0m2 0h0m4 0h0m52 0h0m-95 1h0m2 0h0m13 0h0m2 0h0m4 0h0m2 0h0m2 0h2m2 0h1m2 0h2m2 0h0m7 0h0" stroke-width="1.3"/>
<path d="M28 43h1m3 0h0m10 0h0m-14 1h1m-2 1h0m2 0h0m7 0h0m2 1h0m-20 2h1m7 1h0m10 0h0m7 0h1m-23 1h1m3 0h1m17 0h0m-22 1h3m2 0h0m-5 1h0m-19 1h0m25 0h1m3 0h1m5 0h2m-11 1h3m7 0h2m-11 1h1m2 0h0m8 0h0m9 2h0m-47 4h0m7 3h0m29 2h1m3 0h1m-5 1h1m4 0h0m-4 1h0m-22 2h0m25 1h0m35 8h0m0 1h0m-32 1h1m17 1h1m11 0h0m-20 1h1m3 0h0m2 0h0m2 0h0m-8 1h1m6 0h0m4 1h1m1 1h0m-17 2h0m12 0h0m-8 1h2m6 0h1m-9 1h2m7 0h1m2 0h0m4 0h1m-21 1h0m3 0h1m2 0h2m5 0h3m4 0h2m2 0h0m-33 1h0m6 0h0m2 0h9m4 0h1m2 0h1m4 0h1m7 0h0m-45 1h0m7 0h2m4 0h8m7 0h2m2 0h2m2 0h3m4 0h3m-40 1h3m4 0h7m9 0h8m2 0h3m4 0h0m-43 1h0m3 0h1m2 0h0m2 0h1m2 0h3m2 0h1m2 0h1m5 0h8m4 0h2m5 0h0m-44 1h1m6 0h4m3 0h6m2 0h3m2 0h6m5 0h0m-43 1h0m6 0h1m4 0h0m3 0h0m2 0h7m3 0h6m2 0h5m2 0h3m-45 1h4m2 0h0m2 0h1m5 0h23m2 0h0m2 0h3m2 0h1m-50 1h0m4 0h2m2 0h5m4 0h3m2 0h4m2 0h2m4 0h0m2 0h0m2 0h1m2 0h3m2 0h1m3 0h0m-50 1h0m8 0h1m2 0h2m4 0h3m5 0h2m2 0h0m2 0h3m2 0h7m3 0h1m-47 1h0m3 0h2m3 0h1m2 0h8m5 0h3m2 0h13m2 0h0m2 0h2m4 0h0m-56 1h1m6 0h3m2 0h7m2 0h22m2 0h7m-53 1h1m4 0h1m2 0h4m2 0h1m2 0h3m2 0h5m2 0h10m2 0h8m2 0h2m-53 1h0m5 0h1m2 0h3m2 0h14m2 0h14m2 0h7m-52 1h0m6 0h9m2 0h29m2 0h3m-51 1h1m5 0h1m2 0h37m2 0h2m2 0h0m-61 1h0m11 0h35m2 0h0m2 0h6m2 0h2m-55 1h0m6 0h17m2 0h29m-54 1h1m4 0h0m2 0h0m2 0h31m2 0h5m3 0h0m2 0h0m-52 1h2m2 0h4m3 0h40m-53 1h1m2 0h6m2 0h1m2 0h30m2 0h7m2 0h1m-57 1h3m3 0h1m3 0h8m2 0h29m2 0h2m-53 1h1m5 0h3m2 0h43m7 0h0m-67 1h1m5 0h2m3 0h35m2 0h12m4 0h0m2 0h1m-67 1h3m3 0h2m2 0h43m2 0h5m3 0h1m-72 1h0m8 0h2m2 0h0m2 0h46m2 0h6m3 0h1m-64 1h43m2 0h13m-59 1h56m2 0h1m5 0h0m-66 1h2m3 0h44m2 0h7m4 0h3m-65 1h2m3 0h12m2 0h35m2 0h2m5 0h1m-64 1h1m3 0h2m2 0h49m2 0h3m-58 1h2m2 0h44m2 0h9m-68 1h0m6 0h54m2 0h5m-68 1h2m4 0h48m2 0h2m2 0h4m-63 1h0m2 0h57m2 0h1m5 0h0m-67 1h9m2 0h44m2 0h4m-60 1h58m2 0h1m2 0h1m-64 1h14m2 0h35m2 0h0m2 0h0m4 0h1m-61 1h3m2 0h49m2 0h1m2 0h1m-60 1h58m-57 1h0m2 0h6m2 0h40m2 0h2m2 0h0m7 0h1m-65 1h56m8 0h1m-65 1h55m8 0h0m-63 1h58m-57 1h52m2 0h3m-58 1h46m2 0h6m-55 1h1m2 0h46m2 0h0m2 0h2m-54 1h42m2 0h5m4 0h0m-52 1h48m4 0h0m-53 1h49m3 0h0m-53 1h50m2 0h1m-53 1h53m-53 1h40m2 0h3m2 0h0m2 0h1m2 0h2m-54 1h44m2 0h3m-48 1h46m-46 1h46m-46 1h41m2 0h3m-47 1h41m2 0h2m2 0h0m-47 1h45m2 0h3m-50 1h36m2 0h4m3 0h3m-48 1h34m2 0h7m-43 1h40m2 0h0m2 0h0m-44 1h38m2 0h0m3 0h0m-43 1h33m2 0h4m2 0h0m-41 1h33m-33 1h34m-34 1h23m2 0h4m3 0h1m12 0h0m-45 1h19m2 0h13m-34 1h34m-34 1h25m2 0h5m-32 1h16m2 0h7m3 0h7m-35 1h25m4 0h0m4 0h1m-33 1h24m3 0h0m6 0h1m-32 1h11m4 0h2m4 0h0" stroke-width="2.1"/>
</g><rect x="327.4" y="21.3" width="92.2" height="83" fill="none" stroke="#2a2a2a" stroke-width="0.8"/>
<path d="M327.4 102.44h-1.5M327.4 99.91h-1.5M327.4 97.95h-1.5M327.4 96.34h-1.5M327.4 94.99h-1.5M327.4 93.81h-1.5M327.4 92.78h-1.5M327.4 91.85h-3M327.4 85.75h-1.5M327.4 82.19h-1.5M327.4 79.66h-1.5M327.4 77.7h-1.5M327.4 76.09h-1.5M327.4 74.74h-1.5M327.4 73.56h-1.5M327.4 72.53h-1.5M327.4 71.6h-3M327.4 65.5h-1.5M327.4 61.94h-1.5M327.4 59.41h-1.5M327.4 57.45h-1.5M327.4 55.84h-1.5M327.4 54.49h-1.5M327.4 53.31h-1.5M327.4 52.28h-1.5M327.4 51.35h-3M327.4 45.25h-1.5M327.4 41.69h-1.5M327.4 39.16h-1.5M327.4 37.2h-1.5M327.4 35.59h-1.5M327.4 34.24h-1.5M327.4 33.06h-1.5M327.4 32.03h-1.5M327.4 31.1h-3M327.4 25h-1.5M328.73 104.3v1.5M331.59 104.3v1.5M333.81 104.3v1.5M335.62 104.3v1.5M337.15 104.3v1.5M338.48 104.3v1.5M339.65 104.3v1.5M340.7 104.3v3M347.59 104.3v1.5M351.63 104.3v1.5M354.49 104.3v1.5M356.71 104.3v1.5M358.52 104.3v1.5M360.05 104.3v1.5M361.38 104.3v1.5M362.55 104.3v1.5M363.6 104.3v3M370.49 104.3v1.5M374.53 104.3v1.5M377.39 104.3v1.5M379.61 104.3v1.5M381.42 104.3v1.5M382.95 104.3v1.5M384.28 104.3v1.5M385.45 104.3v1.5M386.5 104.3v3M393.39 104.3v1.5M397.43 104.3v1.5M400.29 104.3v1.5M402.51 104.3v1.5M404.32 104.3v1.5M405.85 104.3v1.5M407.18 104.3v1.5M408.35 104.3v1.5M409.4 104.3v3M416.29 104.3v1.5" stroke="#000" stroke-width="0.85" fill="none"/>
<text x="341.3" y="115.2" font-size="6.6" text-anchor="middle">10<tspan font-size="4.4" dy="-2.3" dx="-0.5">2</tspan></text>
<text x="364.2" y="115.2" font-size="6.6" text-anchor="middle">10<tspan font-size="4.4" dy="-2.3" dx="-0.5">3</tspan></text>
<text x="387.2" y="115.2" font-size="6.6" text-anchor="middle">10<tspan font-size="4.4" dy="-2.3" dx="-0.5">4</tspan></text>
<text x="410.2" y="115.2" font-size="6.6" text-anchor="middle">10<tspan font-size="4.4" dy="-2.3" dx="-0.5">5</tspan></text>
<path d="M327.4 34.3h27v31.7h-27 M364.4 104.3v-30.3h27.2v30.3" fill="none" stroke="#333" stroke-width="0.8"/>
<text x="373.5" y="15.3" font-size="9.9" text-anchor="middle" font-weight="bold">TBI-IFN</text>
<text x="331.6" y="31.5" font-size="9.5">3%</text>
<text x="411" y="100.6" font-size="9.5" text-anchor="end">1%</text>
<text x="373.8" y="126.2" font-size="9.4" text-anchor="middle">CD4 FITC-A</text>
<g transform="translate(427.2 21.3) scale(.5) translate(.5 .5)" fill="none" stroke="#000" stroke-linecap="square"><path d="M16 18h0m-11 5h0m44 1h0m28 2h0m-36 7h0m-5 3h0m21 0h0m-50 2h0m0 1h0m28 1h0m31 2h0m3 1h0m25 0h0m-51 1h0m40 0h0m-27 1h0m61 0h0m-42 1h0m-17 2h0m-41 1h0m10 1h0m32 0h0m5 0h0m7 0h0m-47 1h0m21 0h0m6 0h0m-8 1h0m25 0h0m-48 1h0m109 0h0m-84 1h0m4 0h0m28 0h0m15 0h0m-52 1h0m25 0h0m-62 1h0m73 0h0m-41 1h0m53 0h0m-55 1h0m12 0h0m-36 2h0m26 0h0m4 0h0m-37 1h0m18 0h0m6 0h0m11 0h0m2 0h0m19 0h1m17 0h0m-74 1h0m39 0h0m12 0h0m-20 1h0m2 0h1m39 0h0m-35 1h0m4 0h0m23 0h0m-64 1h0m63 0h0m-32 1h0m20 0h0m4 0h0m-15 1h0m12 0h0m-36 1h0m51 0h0m24 0h0m40 0h0m-131 1h0m18 0h0m19 0h0m-39 1h0m5 0h0m18 0h0m15 0h0m31 0h0m27 0h0m-57 1h0m48 0h0m39 0h0m-125 1h0m5 0h0m98 0h0m-71 1h0m8 0h0m4 0h0m10 0h1m9 0h0m-65 1h1m10 0h0m27 0h0m26 0h0m-46 1h0m10 0h0m17 0h0m29 0h0m-73 1h0m11 0h1m105 0h0m-85 1h0m19 0h2m7 0h0m5 0h0m6 0h0m15 0h0m41 0h0m-127 1h0m22 0h0m23 0h0m6 0h0m31 0h0m-63 1h0m6 0h0m5 0h0m17 0h0m12 0h0m14 0h0m-74 1h0m34 0h0m3 0h0m17 0h0m2 0h0m3 0h0m-43 1h0m17 0h0m22 0h0m16 0h0m-46 1h1m36 0h0m9 0h0m3 0h0m19 0h0m36 0h0m-109 1h0m2 0h0m14 0h0m5 0h0m7 0h1m4 0h0m2 0h0m-50 1h0m20 0h0m26 0h0m3 0h0m3 0h0m3 0h0m13 0h0m6 0h0m3 0h0m-48 1h0m4 0h0m9 0h0m23 0h0m3 0h0m7 0h0m2 0h0m-82 1h0m37 0h0m37 0h0m-55 1h0m32 0h0m4 0h0m2 0h0m20 0h0m22 0h0m-80 1h0m29 0h0m5 0h0m12 0h0m-65 1h0m2 0h0m22 0h0m4 0h0m7 0h0m8 0h0m12 0h0m13 0h1m27 0h0m-74 1h0m5 0h0m35 0h0m17 0h0m9 0h0m-88 1h0m40 0h0m3 0h0m15 0h0m4 0h0m32 0h0m-70 1h0m18 0h0m12 0h1m7 0h0m5 0h0m3 0h0m-68 1h0m20 0h0m8 0h0m9 0h0m6 0h0m3 0h0m5 0h0m3 0h0m13 0h0m15 0h0m11 0h0m-66 1h0m22 0h0m4 0h0m11 0h1m3 0h0m-43 1h0m22 0h0m2 0h0m20 0h0m6 0h0m2 0h0m-46 1h0m17 0h1m4 0h0m4 0h0m15 0h0m-41 1h0m2 0h2m12 0h0m3 0h0m2 0h0m4 0h1m2 0h0m4 0h0m9 0h1m5 0h0m-62 1h0m5 0h1m7 0h0m9 0h0m10 0h1m5 0h0m3 0h0m2 0h0m13 0h0m6 0h0m-61 1h0m18 0h0m2 0h0m6 0h0m8 0h0m3 0h0m2 0h0m11 0h0m4 0h0m2 0h0m-66 1h0m14 0h0m8 0h0m4 0h0m3 0h0m13 0h0m15 0h0m2 0h1m-51 1h0m15 0h0m2 0h0m3 0h0m3 0h1m6 0h0m5 0h0m6 0h0m3 0h0m3 0h0m2 0h1m2 0h0m7 0h0m2 0h0m34 0h0m-113 1h0m21 0h0m9 0h0m10 0h0m2 0h0m6 0h0m5 0h0m16 0h0m-68 1h0m12 0h0m14 0h0m3 0h0m3 0h0m2 0h1m7 0h1m9 0h0m5 0h0m3 0h0m8 0h0m2 0h1m6 0h0m10 0h0m-86 1h0m5 0h0m8 0h0m6 0h0m3 0h0m10 0h0m3 0h0m4 0h0m5 0h0m2 0h0m2 0h0m3 0h1m8 0h0m3 0h2m18 0h1m-85 1h0m4 0h0m13 0h0m3 0h1m3 0h1m7 0h1m3 0h1m2 0h0m4 0h0m4 0h0m3 0h0m2 0h0m7 0h2m4 0h0m6 0h0m-60 1h0m18 0h0m5 0h0m5 0h0m5 0h0m8 0h0m7 0h0m5 0h0m17 0h0m-73 1h0m5 0h0m7 0h0m4 0h0m9 0h0m4 0h0m2 0h0m3 0h0m5 0h0m2 0h0m4 0h0m11 0h0m5 0h1m15 0h0m13 0h0m-99 1h0m18 0h0m14 0h0m3 0h0m3 0h0m2 0h0m3 0h0m9 0h0m9 0h0m2 0h1m2 0h0m5 0h0m3 0h0m2 0h0m-74 1h0m10 0h1m5 0h0m2 0h0m4 0h0m3 0h0m6 0h0m6 0h0m4 0h0m6 0h0m4 0h0m3 0h0m2 0h0m2 0h0m5 0h0m5 0h0m2 0h0m2 0h0m3 0h0m8 0h1m31 0h0m-108 1h0m3 0h1m9 0h2m2 0h0m2 0h0m9 0h0m4 0h0m3 0h2m3 0h0m2 0h0m7 0h0m3 0h1m2 0h0m2 0h0m4 0h0m2 0h0m8 0h0m6 0h0m-84 1h0m4 0h0m3 0h0m5 0h1m8 0h0m2 0h0m4 0h1m2 0h1m7 0h0m2 0h0m9 0h2m9 0h0m8 0h1m2 0h1m-73 1h0m6 0h1m5 0h1m8 0h0m4 0h0m5 0h0m6 0h0m2 0h0m5 0h1m2 0h1m10 0h1m5 0h0m2 0h0m3 0h0m6 0h0m4 0h0m7 0h0m2 0h0m-73 1h0m10 0h1m3 0h0m8 0h0m2 0h0m7 0h0m2 0h0m2 0h1m9 0h0m3 0h0m7 0h0m4 0h0m5 0h0m14 0h0m-86 1h0m3 0h0m4 0h0m7 0h0m6 0h0m2 0h0m8 0h0m9 0h0m2 0h0m9 0h0m8 0h0m5 0h1m2 0h0m4 0h0m6 0h0m6 0h0m3 0h0m-88 1h0m4 0h0m10 0h0m3 0h0m2 0h0m3 0h0m2 0h0m5 0h0m9 0h0m2 0h0m10 0h1m3 0h2m3 0h1m3 0h1m-66 1h0m6 0h1m4 0h0m2 0h0m4 0h0m5 0h1m3 0h0m16 0h0m2 0h0m10 0h1m5 0h0m3 0h0m7 0h0m7 0h0m2 0h0m-75 1h0m2 0h1m2 0h0m3 0h0m7 0h1m6 0h2m2 0h0m23 0h0m4 0h0m3 0h0m2 0h1m2 0h0m2 0h0m12 0h0m11 0h0m-92 1h0m12 0h0m2 0h0m6 0h0m5 0h2m21 0h0m12 0h0m17 0h0m2 0h0m7 0h0m24 0h0m-110 1h0m3 0h1m7 0h0m5 0h0m3 0h0m2 0h0m3 0h0m5 0h1m18 0h0m11 0h1m3 0h0m4 0h0m3 0h0m3 0h1m14 0h0m8 0h0m-93 1h0m6 0h0m2 0h0m6 0h2m4 0h0m3 0h1m2 0h0m19 0h0m6 0h0m7 0h0m3 0h0m3 0h0m3 0h0m5 0h0m3 0h1m5 0h0m25 0h0m-109 1h0m7 0h1m6 0h1m5 0h3m36 0h0m4 0h1m3 0h0m2 0h2m3 0h0m8 0h0m-65 1h1m43 0h2m2 0h0m4 0h0m4 0h0m2 0h0m2 0h0m-75 1h0m4 0h0m2 0h0m3 0h0m2 0h0m3 0h0m7 0h0m28 0h0m24 0h0m6 0h1m-81 1h1m11 0h0m2 0h0m45 0h0m2 0h0m3 0h0m3 0h1m4 0h0m2 0h0m2 0h0m2 0h0m-79 1h1m2 0h0m3 0h0m4 0h1m4 0h0m2 0h0m55 0h0m2 0h0m3 0h0m3 0h0m23 0h0m-90 1h0m2 0h0m49 0h0m4 0h0m2 0h0m2 0h0m37 0h0m-108 1h0m10 0h0m2 0h0m3 0h0m50 0h0m12 0h0m2 0h0m2 0h0m14 0h0m-96 1h0m3 0h0m4 0h1m8 0h0m44 0h0m5 0h0m3 0h1m7 0h0m-71 1h0m2 0h0m3 0h0m5 0h0m50 0h1m3 0h0m4 0h0m3 0h0m2 0h0m7 0h1m-86 1h0m2 0h0m3 0h1m5 0h0m2 0h0m4 0h0m43 0h0m2 0h0m-62 1h0m2 0h1m12 0h0m45 0h0m2 0h0m2 0h1m5 0h0m4 0h0m2 0h0m3 0h0m6 0h0m-83 1h0m2 0h1m6 0h0m2 0h0m47 0h2m4 0h0m2 0h0m3 0h0m3 0h1m-72 1h1m2 0h0m57 0h0m2 0h1m6 0h1m4 0h0m11 0h0m5 0h0m-93 1h0m60 0h0m3 0h0m2 0h0m3 0h0m27 0h0m-91 1h1m56 0h0m4 0h1m9 0h1m5 0h0m-81 1h0m3 0h0m63 0h0m6 0h0m17 0h0m16 0h0m-104 1h0m2 0h0m62 0h0m2 0h0m2 0h0m4 0h0m-70 1h1m67 0h0m62 0h0m-133 1h0m59 0h0m2 0h0m2 0h0m2 0h0m4 0h0m10 0h0m-75 1h0m54 0h0m6 0h0m2 0h1m2 0h0m17 0h0m38 0h0m-68 1h0m2 0h0m5 0h0m4 0h1m2 0h2m-72 1h0m59 0h0m2 0h1m5 0h0m22 0h0m10 0h0m-99 1h0m59 0h1m4 0h1m4 0h0m3 0h0m-72 1h0m56 0h0m2 0h0m4 0h0m3 0h0m4 0h1m3 0h0m31 0h0m-104 1h0m54 0h0m8 0h0m4 0h2m9 0h0m-21 1h0m4 0h0m2 0h0m4 0h0m-66 1h0m54 0h1m2 0h0m2 0h0m2 0h0m31 0h0m16 0h0m-35 1h0m22 0h0m-95 1h0m53 0h0m2 0h0m2 0h0m-57 1h0m53 0h0m4 0h0m9 0h0m17 0h0m-31 1h0m5 0h0m2 0h0m2 0h0m10 0h0m-20 1h0m3 0h1m7 0h0m-11 1h0m6 0h0m2 0h1m5 0h1m23 0h0m-89 1h0m48 0h0m3 0h0m3 0h0m6 0h1m6 0h0m4 0h0m36 0h0m-107 1h0m50 0h0m4 0h0m4 0h0m-58 1h0m43 0h0m6 0h0m3 0h1m13 0h0m-18 1h0m3 0h0m2 0h0m-10 1h0m3 0h0m3 0h0m5 0h0m4 0h1m10 0h0m-29 1h0m11 0h2m15 0h0m5 0h0m-36 1h0m3 0h0m2 0h0m3 0h1m2 0h0m2 0h0m5 0h0m2 0h0m-57 1h0m38 0h2m2 0h0m3 0h0m3 0h0m8 0h1m6 0h0m-25 1h0m5 0h0m3 0h1m-47 1h0m38 0h0m3 0h0m2 0h0m3 0h0m6 0h0m3 0h0m-55 1h0m7 0h0m2 0h0m5 0h0m2 0h0m5 0h0m2 0h0m7 0h0m2 0h0m4 0h0m2 0h0m5 0h0m4 0h0m3 0h0m4 0h0" stroke-width="1.3"/>
<path d="M48 104h0m-1 1h1m-8 1h0m8 0h0m-1 1h1m-6 1h1m4 0h2m2 0h1m2 0h1m-19 1h1m5 0h1m3 0h2m3 0h1m3 0h1m-21 1h2m19 0h2m-22 1h0m19 0h3m-24 1h2m5 0h1m12 0h4m4 0h1m-31 1h1m2 0h2m4 0h4m8 0h5m4 0h1m-32 1h3m2 0h0m5 0h0m2 0h3m6 0h2m8 0h1m-40 1h0m8 0h1m3 0h3m2 0h2m6 0h6m8 0h1m-41 1h1m5 0h0m3 0h1m3 0h6m2 0h0m5 0h4m2 0h0m6 0h0m-33 1h0m7 0h4m2 0h7m2 0h0m2 0h4m3 0h1m-26 1h8m2 0h5m3 0h3m2 0h3m4 0h1m-36 1h0m4 0h1m3 0h11m4 0h2m2 0h3m4 0h1m-34 1h0m3 0h2m3 0h11m3 0h3m3 0h1m-38 1h0m8 0h0m4 0h4m3 0h9m2 0h3m3 0h2m3 0h0m-46 1h1m5 0h0m4 0h3m3 0h2m2 0h14m2 0h2m2 0h6m6 0h2m-54 1h0m6 0h1m3 0h8m2 0h10m2 0h2m5 0h2m2 0h2m3 0h0m4 0h1m-48 1h3m2 0h3m2 0h13m2 0h5m3 0h6m5 0h0m-47 1h0m2 0h9m3 0h6m2 0h14m2 0h6m2 0h2m2 0h1m2 0h2m-54 1h3m2 0h3m2 0h2m2 0h24m2 0h4m2 0h0m2 0h2m4 0h0m-57 1h0m5 0h2m2 0h28m2 0h3m2 0h4m-50 1h1m2 0h0m3 0h1m2 0h1m2 0h35m3 0h1m-54 1h0m3 0h2m3 0h6m2 0h2m2 0h24m2 0h3m4 0h2m-56 1h2m8 0h38m2 0h0m5 0h1m-56 1h1m2 0h0m7 0h41m-51 1h2m2 0h0m3 0h43m7 0h0m-58 1h2m3 0h42m2 0h2m-52 1h2m2 0h2m2 0h2m2 0h41m-53 1h49m2 0h3m-54 1h1m2 0h6m2 0h43m2 0h2m-62 1h0m3 0h1m3 0h38m2 0h15m-63 1h0m4 0h45m2 0h0m2 0h6m3 0h1m-63 1h1m4 0h3m2 0h46m-57 1h2m3 0h49m2 0h0m-56 1h5m2 0h9m2 0h32m2 0h3m-54 1h49m3 0h1m2 0h1m-55 1h0m2 0h1m2 0h51m-57 1h4m2 0h41m2 0h2m2 0h0m-53 1h42m2 0h2m2 0h3m3 0h0m-54 1h5m3 0h45m-53 1h40m2 0h3m2 0h5m-52 1h49m2 0h0m4 0h0m-54 1h0m2 0h42m2 0h1m2 0h1m4 0h0m-55 1h46m2 0h2m5 0h0m-56 1h1m2 0h5m2 0h36m2 0h2m-50 1h40m4 0h5m-49 1h38m2 0h6m2 0h2m-49 1h38m2 0h5m-44 1h38m5 0h2m-46 1h26m2 0h7m2 0h4m2 0h3m-47 1h34m2 0h0m2 0h5m2 0h1m-46 1h21m2 0h2m2 0h15m5 0h0m-47 1h35m2 0h1m9 0h1m-48 1h36m11 0h0m-46 1h2m2 0h0m2 0h3m2 0h23m-34 1h3m2 0h7m2 0h18m2 0h2m5 0h0m-41 1h29m2 0h4m6 0h0m-41 1h5m4 0h3m4 0h3m4 0h5m4 0h2" stroke-width="2.1"/>
</g><rect x="427.2" y="21.3" width="92" height="83" fill="none" stroke="#2a2a2a" stroke-width="0.8"/>
<path d="M427.2 102.44h-1.5M427.2 99.91h-1.5M427.2 97.95h-1.5M427.2 96.34h-1.5M427.2 94.99h-1.5M427.2 93.81h-1.5M427.2 92.78h-1.5M427.2 91.85h-3M427.2 85.75h-1.5M427.2 82.19h-1.5M427.2 79.66h-1.5M427.2 77.7h-1.5M427.2 76.09h-1.5M427.2 74.74h-1.5M427.2 73.56h-1.5M427.2 72.53h-1.5M427.2 71.6h-3M427.2 65.5h-1.5M427.2 61.94h-1.5M427.2 59.41h-1.5M427.2 57.45h-1.5M427.2 55.84h-1.5M427.2 54.49h-1.5M427.2 53.31h-1.5M427.2 52.28h-1.5M427.2 51.35h-3M427.2 45.25h-1.5M427.2 41.69h-1.5M427.2 39.16h-1.5M427.2 37.2h-1.5M427.2 35.59h-1.5M427.2 34.24h-1.5M427.2 33.06h-1.5M427.2 32.03h-1.5M427.2 31.1h-3M427.2 25h-1.5M428.53 104.3v1.5M431.39 104.3v1.5M433.61 104.3v1.5M435.42 104.3v1.5M436.95 104.3v1.5M438.28 104.3v1.5M439.45 104.3v1.5M440.5 104.3v3M447.39 104.3v1.5M451.43 104.3v1.5M454.29 104.3v1.5M456.51 104.3v1.5M458.32 104.3v1.5M459.85 104.3v1.5M461.18 104.3v1.5M462.35 104.3v1.5M463.4 104.3v3M470.29 104.3v1.5M474.33 104.3v1.5M477.19 104.3v1.5M479.41 104.3v1.5M481.22 104.3v1.5M482.75 104.3v1.5M484.08 104.3v1.5M485.25 104.3v1.5M486.3 104.3v3M493.19 104.3v1.5M497.23 104.3v1.5M500.09 104.3v1.5M502.31 104.3v1.5M504.12 104.3v1.5M505.65 104.3v1.5M506.98 104.3v1.5M508.15 104.3v1.5M509.2 104.3v3M516.09 104.3v1.5" stroke="#000" stroke-width="0.85" fill="none"/>
<text x="441.1" y="115.2" font-size="6.6" text-anchor="middle">10<tspan font-size="4.4" dy="-2.3" dx="-0.5">2</tspan></text>
<text x="464" y="115.2" font-size="6.6" text-anchor="middle">10<tspan font-size="4.4" dy="-2.3" dx="-0.5">3</tspan></text>
<text x="487" y="115.2" font-size="6.6" text-anchor="middle">10<tspan font-size="4.4" dy="-2.3" dx="-0.5">4</tspan></text>
<text x="510" y="115.2" font-size="6.6" text-anchor="middle">10<tspan font-size="4.4" dy="-2.3" dx="-0.5">5</tspan></text>
<path d="M427.2 36.3h29.6v33.1h-29.6 M467.8 104.3v-24.3h23.8v24.3" fill="none" stroke="#333" stroke-width="0.8"/>
<text x="473.3" y="15.3" font-size="9.9" text-anchor="middle" font-weight="bold">TBI only</text>
<text x="431.4" y="31.5" font-size="9.5">1%</text>
<text x="513.8" y="100.6" font-size="9.5" text-anchor="end">&lt;1%</text>
<text x="473.6" y="126.2" font-size="9.4" text-anchor="middle">CD4 FITC-A</text>
<text transform="translate(8.1 65.2) rotate(-90)" font-size="9.4" text-anchor="middle">CD8 PerCP-Cy5-5-A</text>
<text transform="translate(0.6 327.8) scale(.92 1)" font-size="19.6" font-weight="bold">B</text>
<g transform="translate(27.75 333.8) scale(.5) translate(.5 .5)" fill="none" stroke="#000" stroke-linecap="square"><path d="M129 96h0m-13 1h0m-4 2h1m20 1h0m-22 1h0m2 0h0m24 1h0m-31 1h0m12 0h0m8 0h0m10 0h0m-24 1h0m8 0h1m2 0h0m5 0h0m-20 1h0m24 0h0m13 0h0m-44 1h0m4 0h0m9 0h0m3 0h0m6 0h0m7 0h0m2 0h0m-30 1h0m6 0h0m4 0h0m3 0h0m3 0h4m5 0h0m9 0h1m-54 1h0m30 0h3m2 0h0m12 0h1m-40 1h0m9 0h0m4 0h0m6 0h0m3 0h0m7 0h0m4 0h0m2 0h1m6 0h0m-42 1h0m9 0h0m6 0h0m3 0h0m2 0h0m2 0h0m2 0h3m2 0h2m2 0h0m2 0h0m2 0h0m11 0h0m5 0h0m-45 1h0m5 0h0m3 0h0m6 0h1m4 0h0m8 0h0m2 0h0m8 0h0m-36 1h0m8 0h1m6 0h1m12 0h0m2 0h0m-48 1h0m9 0h0m5 0h0m3 0h0m2 0h0m2 0h3m22 0h0m2 0h1m2 0h0m4 0h0m6 0h0m-52 1h0m5 0h0m4 0h0m8 0h0m2 0h0m21 0h0m2 0h0m-33 1h0m10 0h0m15 0h0m-35 1h0m2 0h0m4 0h1m2 0h0m21 0h0m12 0h0m14 0h0m-52 1h0m3 0h0m32 0h0m3 0h2m4 0h0m-50 1h0m3 0h0m2 0h2m33 0h0m7 0h0m3 0h0m-48 1h1m5 0h0m32 0h0m3 0h1m4 0h0m10 0h0m-56 1h1m2 0h1m38 0h0m3 0h0m2 0h0m9 0h0m4 0h0m7 0h0m-67 1h0m3 0h0m37 0h0m2 0h0m2 0h0m-49 1h1m2 0h0m2 0h0m2 0h0m36 0h0m2 0h0m5 0h0m3 0h0m7 0h0m-60 1h1m3 0h0m40 0h0m3 0h0m6 0h0m-51 1h0m2 0h0m2 0h0m38 0h0m2 0h0m5 0h0m-55 1h1m6 0h0m43 0h1m-46 1h1m43 0h0m3 0h3m-53 1h0m5 0h0m40 0h0m3 0h2m6 0h1m-57 1h0m51 0h0m-52 1h0m4 0h0m41 0h0m4 0h1m3 0h0m-52 1h1m2 0h0m-6 1h0m6 0h0m3 0h0m40 0h0m2 0h2m-49 1h0m3 0h0m39 0h0m5 0h0m6 0h0m3 0h0m-57 1h1m4 0h0m41 0h0m-49 1h0m3 0h0m44 0h0m4 0h0m-49 1h1m3 0h0m37 0h0m4 0h1m2 0h0m7 0h0m-57 1h0m6 0h0m35 0h0m4 0h0m4 0h0m-46 1h0m2 0h1m37 0h0m6 0h0m7 0h0m-53 1h0m40 0h1m2 0h2m-50 1h0m2 0h1m6 0h0m2 0h0m54 0h0m-66 1h0m4 0h2m2 0h0m2 0h0m28 0h0m2 0h0m2 0h0m3 0h0m3 0h3m-39 1h0m28 0h1m6 0h0m-48 1h0m5 0h1m-3 1h0m3 0h0m4 0h1m2 0h0m25 0h0m2 0h2m2 0h0m11 0h0m-51 1h0m6 0h0m4 0h0m19 0h0m7 0h0m3 0h0m3 0h0m4 0h0m-41 1h0m4 0h0m3 0h0m7 0h0m8 0h0m2 0h0m4 0h1m4 0h1m2 0h0m-43 1h0m4 0h1m3 0h0m2 0h0m12 0h1m6 0h0m2 0h1m8 0h0m10 0h0m-45 1h0m6 0h0m2 0h0m2 0h0m2 0h0m3 0h0m4 0h1m2 0h0m2 0h1m3 0h0m2 0h0m6 0h0m-40 1h0m6 0h0m2 0h1m3 0h0m2 0h0m2 0h0m2 0h4m14 0h0m4 0h0m-38 1h0m5 0h1m7 0h1m7 0h0m8 0h0m3 0h1m-25 1h0m15 0h0m7 0h0m3 0h0m-22 1h0m7 0h2m7 0h0m-18 1h0m9 0h0m4 0h0m2 0h1m-16 1h0m6 0h0m12 0h0m-7 1h0m-19 1h0m3 0h0m23 0h0m-25 1h0m13 0h0m-6 1h0m5 0h0m0 1h0m8 1h0" stroke-width="1.35"/>
<path d="M120 108h0m-3 1h0m2 0h0m-14 1h0m20 0h0m-20 1h1m4 0h1m9 0h0m4 0h0m-20 1h0m3 0h0m3 0h2m6 0h8m3 0h0m-22 1h0m3 0h4m2 0h11m-26 1h2m4 0h0m4 0h6m2 0h4m4 0h0m-25 1h1m3 0h2m4 0h6m3 0h3m2 0h5m-31 1h0m2 0h7m2 0h8m4 0h1m2 0h5m-32 1h5m2 0h11m2 0h1m2 0h5m-29 1h6m2 0h17m2 0h2m-33 1h0m3 0h1m2 0h0m2 0h19m2 0h3m-30 1h31m-32 1h0m2 0h30m4 0h0m-37 1h29m2 0h2m4 0h0m-37 1h33m-37 1h0m3 0h1m2 0h29m2 0h1m-38 1h5m2 0h32m-39 1h1m2 0h7m2 0h24m2 0h1m-40 1h1m2 0h35m-39 1h5m2 0h32m-40 1h38m-38 1h0m2 0h36m-35 1h0m2 0h33m-34 1h22m2 0h10m-36 1h37m-38 1h3m2 0h32m-37 1h2m2 0h0m2 0h27m3 0h0m-37 1h30m2 0h1m-32 1h19m2 0h8m2 0h1m-32 1h23m2 0h0m2 0h7m-31 1h23m4 0h1m2 0h1m4 0h0m-42 1h0m7 0h4m2 0h17m-31 1h5m3 0h17m2 0h0m2 0h3m-30 1h1m2 0h3m2 0h8m2 0h3m2 0h7m2 0h0m-26 1h3m2 0h3m2 0h3m2 0h2m2 0h3m-22 1h1m2 0h12m2 0h0m-15 1h3m5 0h5m-14 1h0m2 0h1m-3 1h0" stroke-width="2.1"/>
</g><rect x="27.75" y="333.8" width="92.2" height="83" fill="none" stroke="#2a2a2a" stroke-width="0.8"/>
<path d="M27.75 414.94h-1.5M27.75 412.41h-1.5M27.75 410.45h-1.5M27.75 408.84h-1.5M27.75 407.49h-1.5M27.75 406.31h-1.5M27.75 405.28h-1.5M27.75 404.35h-3M27.75 398.25h-1.5M27.75 394.69h-1.5M27.75 392.16h-1.5M27.75 390.2h-1.5M27.75 388.59h-1.5M27.75 387.24h-1.5M27.75 386.06h-1.5M27.75 385.03h-1.5M27.75 384.1h-3M27.75 378h-1.5M27.75 374.44h-1.5M27.75 371.91h-1.5M27.75 369.95h-1.5M27.75 368.34h-1.5M27.75 366.99h-1.5M27.75 365.81h-1.5M27.75 364.78h-1.5M27.75 363.85h-3M27.75 357.75h-1.5M27.75 354.19h-1.5M27.75 351.66h-1.5M27.75 349.7h-1.5M27.75 348.09h-1.5M27.75 346.74h-1.5M27.75 345.56h-1.5M27.75 344.53h-1.5M27.75 343.6h-3M27.75 337.5h-1.5M29.08 416.8v1.5M31.94 416.8v1.5M34.16 416.8v1.5M35.97 416.8v1.5M37.5 416.8v1.5M38.83 416.8v1.5M40 416.8v1.5M41.05 416.8v3M47.94 416.8v1.5M51.98 416.8v1.5M54.84 416.8v1.5M57.06 416.8v1.5M58.87 416.8v1.5M60.4 416.8v1.5M61.73 416.8v1.5M62.9 416.8v1.5M63.95 416.8v3M70.84 416.8v1.5M74.88 416.8v1.5M77.74 416.8v1.5M79.96 416.8v1.5M81.77 416.8v1.5M83.3 416.8v1.5M84.63 416.8v1.5M85.8 416.8v1.5M86.85 416.8v3M93.74 416.8v1.5M97.78 416.8v1.5M100.64 416.8v1.5M102.86 416.8v1.5M104.67 416.8v1.5M106.2 416.8v1.5M107.53 416.8v1.5M108.7 416.8v1.5M109.75 416.8v3M116.64 416.8v1.5" stroke="#000" stroke-width="0.85" fill="none"/>
<text x="41.65" y="426.8" font-size="6.6" text-anchor="middle">10<tspan font-size="4.4" dy="-2.3" dx="-0.5">2</tspan></text>
<text x="64.55" y="426.8" font-size="6.6" text-anchor="middle">10<tspan font-size="4.4" dy="-2.3" dx="-0.5">3</tspan></text>
<text x="87.55" y="426.8" font-size="6.6" text-anchor="middle">10<tspan font-size="4.4" dy="-2.3" dx="-0.5">4</tspan></text>
<text x="110.55" y="426.8" font-size="6.6" text-anchor="middle">10<tspan font-size="4.4" dy="-2.3" dx="-0.5">5</tspan></text>
<text x="22.95" y="346.5" font-size="6.6" text-anchor="end">10<tspan font-size="4.4" dy="-2.3" dx="-0.5">5</tspan></text>
<text x="22.95" y="366.75" font-size="6.6" text-anchor="end">10<tspan font-size="4.4" dy="-2.3" dx="-0.5">4</tspan></text>
<text x="22.95" y="387" font-size="6.6" text-anchor="end">10<tspan font-size="4.4" dy="-2.3" dx="-0.5">3</tspan></text>
<text x="22.95" y="407.3" font-size="6.6" text-anchor="end">10<tspan font-size="4.4" dy="-2.3" dx="-0.5">2</tspan></text>
<path d="M63.65 333.8v83 M27.75 398.6h92.2" fill="none" stroke="#333" stroke-width="0.8"/>
<text x="30.45" y="343.3" font-size="9">Q1-2</text>
<text x="30.45" y="413.2" font-size="9">Q3-2</text>
<text x="116.45" y="343.3" font-size="9" text-anchor="end">54%</text>
<text x="116.45" y="413.2" font-size="9" text-anchor="end">46%</text>
<text x="73.85" y="327.7" font-size="9.9" text-anchor="middle" font-weight="bold">B6 LN</text>
<text x="73.55" y="438.7" font-size="9.4" text-anchor="middle">CD8 PerCP-Cy5-5-A</text>
<g transform="translate(132 333.8) scale(.5) translate(.5 .5)" fill="none" stroke="#000" stroke-linecap="square"><path d="M129 91h0m5 5h0m-44 1h0m10 0h0m37 1h0m-14 2h0m-12 4h1m8 0h0m13 0h0m10 0h0m-54 1h0m39 0h0m14 0h0m-42 1h0m22 0h0m3 0h0m11 0h0m-26 2h0m16 0h0m-35 1h0m20 0h0m3 0h0m3 0h0m8 0h0m13 0h0m-35 1h0m5 0h0m4 0h0m3 0h0m3 0h1m5 0h0m-20 1h0m9 0h0m4 0h0m2 0h0m4 0h0m4 0h0m10 0h0m-27 1h0m6 0h0m5 0h0m2 0h0m3 0h0m2 0h0m-38 1h0m28 0h0m3 0h1m9 0h0m-27 1h1m4 0h0m4 0h0m2 0h0m3 0h1m19 0h0m-37 1h1m5 0h0m5 0h1m3 0h1m4 0h0m-32 1h0m17 0h2m8 0h0m8 0h0m-33 1h0m5 0h0m11 0h0m3 0h0m6 0h0m5 0h0m-21 1h0m20 0h2m2 0h0m3 0h0m-36 1h0m3 0h0m6 0h4m17 0h0m5 0h0m-78 1h0m37 0h0m18 0h0m2 0h0m4 0h0m3 0h0m6 0h0m2 0h0m3 0h0m5 0h0m-35 1h1m4 0h1m2 0h0m3 0h0m8 0h0m8 0h0m15 0h0m-47 1h0m11 0h0m2 0h0m3 0h0m2 0h1m4 0h0m12 0h0m-44 1h0m20 0h0m8 0h1m3 0h0m2 0h0m2 0h1m2 0h0m-29 1h0m3 0h0m6 0h1m2 0h0m4 0h0m4 0h0m7 0h1m3 0h0m4 0h0m6 0h0m-40 1h0m2 0h0m2 0h0m5 0h0m3 0h0m4 0h0m12 0h0m4 0h0m-32 1h0m2 0h0m3 0h0m3 0h1m2 0h0m3 0h0m6 0h0m2 0h1m9 0h0m15 0h0m-58 1h0m6 0h1m7 0h0m2 0h0m3 0h1m3 0h0m2 0h0m-36 1h0m20 0h0m2 0h0m4 0h0m2 0h0m3 0h0m8 0h0m5 0h0m-36 1h0m3 0h0m5 0h0m2 0h1m3 0h0m12 0h0m5 0h0m4 0h0m8 0h0m4 0h0m-53 1h0m34 0h0m11 0h0m15 0h0m-52 1h0m5 0h0m7 0h0m4 0h0m4 0h0m3 0h1m9 0h0m5 0h0m-30 1h0m7 0h0m3 0h0m8 0h1m-26 1h0m6 0h1m4 0h0m4 0h1m-7 1h1m2 0h0m8 0h0m6 0h0m8 0h0m-33 1h0m2 0h0m4 0h0m16 0h0m7 0h0m3 0h0m-28 1h0m22 0h0m-22 1h0m15 0h0m-13 1h0m23 0h0m3 0h0m-31 1h0m22 0h0m-25 1h0m12 0h0m-1 2h0m10 3h0m-12 2h0m4 5h0m0 1h0m12 2h0" stroke-width="1.1"/>
<path d="M100 123h0m-9 2h0" stroke-width="2.1"/>
</g><rect x="132" y="333.8" width="92.2" height="83" fill="none" stroke="#2a2a2a" stroke-width="0.8"/>
<path d="M132 414.94h-1.5M132 412.41h-1.5M132 410.45h-1.5M132 408.84h-1.5M132 407.49h-1.5M132 406.31h-1.5M132 405.28h-1.5M132 404.35h-3M132 398.25h-1.5M132 394.69h-1.5M132 392.16h-1.5M132 390.2h-1.5M132 388.59h-1.5M132 387.24h-1.5M132 386.06h-1.5M132 385.03h-1.5M132 384.1h-3M132 378h-1.5M132 374.44h-1.5M132 371.91h-1.5M132 369.95h-1.5M132 368.34h-1.5M132 366.99h-1.5M132 365.81h-1.5M132 364.78h-1.5M132 363.85h-3M132 357.75h-1.5M132 354.19h-1.5M132 351.66h-1.5M132 349.7h-1.5M132 348.09h-1.5M132 346.74h-1.5M132 345.56h-1.5M132 344.53h-1.5M132 343.6h-3M132 337.5h-1.5M133.33 416.8v1.5M136.19 416.8v1.5M138.41 416.8v1.5M140.22 416.8v1.5M141.75 416.8v1.5M143.08 416.8v1.5M144.25 416.8v1.5M145.3 416.8v3M152.19 416.8v1.5M156.23 416.8v1.5M159.09 416.8v1.5M161.31 416.8v1.5M163.12 416.8v1.5M164.65 416.8v1.5M165.98 416.8v1.5M167.15 416.8v1.5M168.2 416.8v3M175.09 416.8v1.5M179.13 416.8v1.5M181.99 416.8v1.5M184.21 416.8v1.5M186.02 416.8v1.5M187.55 416.8v1.5M188.88 416.8v1.5M190.05 416.8v1.5M191.1 416.8v3M197.99 416.8v1.5M202.03 416.8v1.5M204.89 416.8v1.5M207.11 416.8v1.5M208.92 416.8v1.5M210.45 416.8v1.5M211.78 416.8v1.5M212.95 416.8v1.5M214 416.8v3M220.89 416.8v1.5" stroke="#000" stroke-width="0.85" fill="none"/>
<text x="145.9" y="426.8" font-size="6.6" text-anchor="middle">10<tspan font-size="4.4" dy="-2.3" dx="-0.5">2</tspan></text>
<text x="168.8" y="426.8" font-size="6.6" text-anchor="middle">10<tspan font-size="4.4" dy="-2.3" dx="-0.5">3</tspan></text>
<text x="191.8" y="426.8" font-size="6.6" text-anchor="middle">10<tspan font-size="4.4" dy="-2.3" dx="-0.5">4</tspan></text>
<text x="214.8" y="426.8" font-size="6.6" text-anchor="middle">10<tspan font-size="4.4" dy="-2.3" dx="-0.5">5</tspan></text>
<path d="M167.9 333.8v83 M132 398.6h92.2" fill="none" stroke="#333" stroke-width="0.8"/>
<text x="134.7" y="343.3" font-size="9">Q1-2</text>
<text x="134.7" y="413.2" font-size="9">Q3-2</text>
<text x="220.7" y="343.3" font-size="9" text-anchor="end">74%</text>
<text x="220.7" y="413.2" font-size="9" text-anchor="end">26%</text>
<text x="178.1" y="327.7" font-size="9.9" text-anchor="middle" font-weight="bold">T-bet<tspan font-size="6.2" dy="-2.7" letter-spacing="0.3">−/−</tspan><tspan dy="2.7"> LN</tspan></text>
<text x="177.8" y="438.7" font-size="9.4" text-anchor="middle">CD8 PerCP-Cy5-5-A</text>
<g transform="translate(236.4 333.8) scale(.5) translate(.5 .5)" fill="none" stroke="#000" stroke-linecap="square"><path d="M153 84h0m-7 12h0m-14 2h0m-45 4h0m15 0h0m4 0h0m8 0h0m17 0h0m-51 2h0m3 0h0m44 0h0m4 0h0m-11 1h0m-43 1h0m3 0h1m44 0h0m3 0h0m-4 1h1m2 0h0m-50 1h0m2 0h3m45 0h0m-43 1h0m8 0h0m29 0h0m6 0h0m10 0h0m-59 1h2m5 0h0m2 0h0m15 0h0m2 0h0m8 0h0m40 0h0m-76 1h0m2 0h0m3 0h0m30 0h0m-35 1h0m4 0h0m2 0h0m2 0h0m23 0h0m3 0h0m2 0h0m7 0h0m10 0h0m-51 1h0m2 0h0m2 0h0m34 0h0m7 0h0m-44 1h2m10 0h0m26 0h0m22 0h0m-56 1h0m18 0h0m4 0h0m13 0h0m14 0h0m-54 1h1m2 0h0m17 0h0m21 0h0m9 0h0m32 0h0m-80 1h0m2 0h0m7 0h1m6 0h0m19 0h0m3 0h0m8 0h0m-48 1h0m4 0h0m8 0h0m2 0h0m14 0h0m5 0h0m9 0h0m4 0h0m11 0h1m-54 1h0m2 0h0m17 0h0m25 0h0m-48 1h0m12 0h0m14 0h1m2 0h0m5 0h0m9 0h0m-45 1h1m7 0h0m22 0h0m8 0h0m12 0h1m-43 1h0m-8 1h2m10 0h0m9 0h0m3 0h0m7 0h0m15 0h0m3 0h0m-40 1h0m6 0h0m2 0h0m2 0h0m9 0h0m2 0h0m14 0h0m22 0h0m-64 1h0m7 0h0m2 0h0m12 0h0m4 0h0m2 0h0m5 0h1m3 0h0m-37 1h1m6 0h0m7 0h0m13 0h0m3 0h1m7 0h0m2 0h0m11 0h0m-51 1h1m2 0h0m3 0h0m8 0h0m5 0h0m2 0h0m9 0h0m17 0h0m-42 1h0m17 0h0m8 0h0m3 0h0m17 0h0m11 0h0m-59 1h0m2 0h0m9 0h0m18 0h0m-30 1h1m4 0h0m2 0h0m6 0h0m3 0h0m4 0h0m4 0h0m-21 1h2m8 0h0m7 0h1m11 0h0m10 0h0m-42 1h0m8 0h0m2 0h0m10 0h0m4 0h0m16 0h0m-37 1h1m4 0h0m12 0h0m7 0h1m13 0h0m2 0h0m11 0h0m-54 1h0m7 0h0m7 0h0m6 0h0m2 0h0m-21 1h0m2 0h2m4 0h0m17 0h0m4 0h0m12 0h0m3 0h0m-46 1h0m2 0h0m2 0h0m16 0h3m12 0h0m-33 1h0m20 0h1m6 0h0m8 0h1m11 0h0m-45 1h0m3 0h0m11 0h0m19 0h0m5 0h0m-38 1h0m2 0h1m15 0h0m2 0h0m6 0h0m16 0h0m-46 1h0m0 1h0m24 0h0m22 0h0m-28 1h0m-12 1h0m16 0h0m4 0h0m9 0h0m-29 1h0m-2 1h0m5 0h0m23 0h0m24 0h0m-37 1h0m-17 1h0m24 0h0m5 0h0m-27 1h0m24 0h0m-4 1h0m-23 1h0m4 1h0m18 1h0m2 0h0m-5 3h0m22 1h0m-43 6h0" stroke-width="1.1"/>
<path d="M80 109h0m0 6h0m1 2h0m-1 1h0m-1 1h2m-2 1h3m-3 1h3m-5 1h0m2 0h4m-3 1h0m2 0h2m-5 1h5m-4 1h2m-1 1h0m0 1h0m-1 1h1m-1 2h0m-1 1h0m0 1h1m-2 1h2m-1 1h0m2 0h0m-1 2h0m0 1h0" stroke-width="2.1"/>
</g><rect x="236.4" y="333.8" width="92.2" height="83" fill="none" stroke="#2a2a2a" stroke-width="0.8"/>
<path d="M236.4 414.94h-1.5M236.4 412.41h-1.5M236.4 410.45h-1.5M236.4 408.84h-1.5M236.4 407.49h-1.5M236.4 406.31h-1.5M236.4 405.28h-1.5M236.4 404.35h-3M236.4 398.25h-1.5M236.4 394.69h-1.5M236.4 392.16h-1.5M236.4 390.2h-1.5M236.4 388.59h-1.5M236.4 387.24h-1.5M236.4 386.06h-1.5M236.4 385.03h-1.5M236.4 384.1h-3M236.4 378h-1.5M236.4 374.44h-1.5M236.4 371.91h-1.5M236.4 369.95h-1.5M236.4 368.34h-1.5M236.4 366.99h-1.5M236.4 365.81h-1.5M236.4 364.78h-1.5M236.4 363.85h-3M236.4 357.75h-1.5M236.4 354.19h-1.5M236.4 351.66h-1.5M236.4 349.7h-1.5M236.4 348.09h-1.5M236.4 346.74h-1.5M236.4 345.56h-1.5M236.4 344.53h-1.5M236.4 343.6h-3M236.4 337.5h-1.5M237.73 416.8v1.5M240.59 416.8v1.5M242.81 416.8v1.5M244.62 416.8v1.5M246.15 416.8v1.5M247.48 416.8v1.5M248.65 416.8v1.5M249.7 416.8v3M256.59 416.8v1.5M260.63 416.8v1.5M263.49 416.8v1.5M265.71 416.8v1.5M267.52 416.8v1.5M269.05 416.8v1.5M270.38 416.8v1.5M271.55 416.8v1.5M272.6 416.8v3M279.49 416.8v1.5M283.53 416.8v1.5M286.39 416.8v1.5M288.61 416.8v1.5M290.42 416.8v1.5M291.95 416.8v1.5M293.28 416.8v1.5M294.45 416.8v1.5M295.5 416.8v3M302.39 416.8v1.5M306.43 416.8v1.5M309.29 416.8v1.5M311.51 416.8v1.5M313.32 416.8v1.5M314.85 416.8v1.5M316.18 416.8v1.5M317.35 416.8v1.5M318.4 416.8v3M325.29 416.8v1.5" stroke="#000" stroke-width="0.85" fill="none"/>
<text x="250.3" y="426.8" font-size="6.6" text-anchor="middle">10<tspan font-size="4.4" dy="-2.3" dx="-0.5">2</tspan></text>
<text x="273.2" y="426.8" font-size="6.6" text-anchor="middle">10<tspan font-size="4.4" dy="-2.3" dx="-0.5">3</tspan></text>
<text x="296.2" y="426.8" font-size="6.6" text-anchor="middle">10<tspan font-size="4.4" dy="-2.3" dx="-0.5">4</tspan></text>
<text x="319.2" y="426.8" font-size="6.6" text-anchor="middle">10<tspan font-size="4.4" dy="-2.3" dx="-0.5">5</tspan></text>
<path d="M272.3 333.8v83 M236.4 398.6h92.2" fill="none" stroke="#333" stroke-width="0.8"/>
<text x="239.1" y="343.3" font-size="9">Q1-2</text>
<text x="239.1" y="413.2" font-size="9">Q3-2</text>
<text x="325.1" y="343.3" font-size="9" text-anchor="end">51%</text>
<text x="325.1" y="413.2" font-size="9" text-anchor="end">49%</text>
<text x="282.5" y="327.7" font-size="9.9" text-anchor="middle" font-weight="bold">T-bet<tspan font-size="6.2" dy="-2.7" letter-spacing="0.3">−/−</tspan><tspan dy="2.7"> LN IFN</tspan></text>
<text x="282.2" y="438.7" font-size="9.4" text-anchor="middle">CD8 PerCP-Cy5-5-A</text>
<g transform="translate(342.4 333.8) scale(.5) translate(.5 .5)" fill="none" stroke="#000" stroke-linecap="square"><path d="M144 96h0m-51 2h0m0 2h0m3 0h0m9 0h0m37 0h0m-2 4h0m-18 1h0m5 0h0m-32 2h0m42 0h0m-17 1h0m-36 1h0m15 0h0m-11 1h0m-4 1h0m34 0h0m6 0h0m-7 1h0m15 0h0m-42 1h0m6 0h0m20 0h0m2 0h0m3 0h0m3 1h0m-25 1h0m2 0h0m9 0h0m-31 1h1m3 0h0m10 0h0m21 0h0m10 0h0m-17 1h0m8 0h0m-24 1h0m15 0h0m3 0h2m11 0h0m-34 1h0m5 0h0m23 0h0m6 0h0m-18 1h0m6 0h0m-6 1h1m3 0h0m4 1h0m5 0h0m-16 1h0m8 0h0m5 0h0m-29 1h0m3 0h0m10 0h0m3 0h0m5 0h0m-25 1h0m34 0h0m-15 1h0m3 0h0m7 0h0m-36 1h0m13 0h0m23 0h0m8 0h0m-30 1h1m5 0h0m14 0h0m-33 1h0m8 0h0m15 0h0m25 0h0m-43 1h0m10 0h0m13 0h0m-9 1h0m7 1h0m10 0h0m-12 1h0m3 0h0m8 0h0m5 0h0m-41 1h0m14 0h0m6 0h0m7 0h0m12 0h0m-26 1h0m29 0h0m-37 1h0m24 0h0m2 0h0m8 0h0m-31 1h0m22 0h0m-18 1h0m5 0h0m2 0h0m23 0h0m9 0h0m-51 1h0m31 0h0m-14 1h0m17 0h0m14 0h0m-44 1h0m20 0h0m7 0h0m-19 1h0m2 1h0m2 0h0m27 0h0m-32 1h0m10 0h0m7 0h0m3 0h0m-13 1h0m22 0h0m-38 2h0m24 0h0m2 0h0m8 0h0m8 0h0m-8 1h0m10 3h0m-41 1h0m21 1h0m5 0h0m-28 3h0m9 1h0" stroke-width="1.1"/>
</g><rect x="342.4" y="333.8" width="92.2" height="83" fill="none" stroke="#2a2a2a" stroke-width="0.8"/>
<path d="M342.4 414.94h-1.5M342.4 412.41h-1.5M342.4 410.45h-1.5M342.4 408.84h-1.5M342.4 407.49h-1.5M342.4 406.31h-1.5M342.4 405.28h-1.5M342.4 404.35h-3M342.4 398.25h-1.5M342.4 394.69h-1.5M342.4 392.16h-1.5M342.4 390.2h-1.5M342.4 388.59h-1.5M342.4 387.24h-1.5M342.4 386.06h-1.5M342.4 385.03h-1.5M342.4 384.1h-3M342.4 378h-1.5M342.4 374.44h-1.5M342.4 371.91h-1.5M342.4 369.95h-1.5M342.4 368.34h-1.5M342.4 366.99h-1.5M342.4 365.81h-1.5M342.4 364.78h-1.5M342.4 363.85h-3M342.4 357.75h-1.5M342.4 354.19h-1.5M342.4 351.66h-1.5M342.4 349.7h-1.5M342.4 348.09h-1.5M342.4 346.74h-1.5M342.4 345.56h-1.5M342.4 344.53h-1.5M342.4 343.6h-3M342.4 337.5h-1.5M343.73 416.8v1.5M346.59 416.8v1.5M348.81 416.8v1.5M350.62 416.8v1.5M352.15 416.8v1.5M353.48 416.8v1.5M354.65 416.8v1.5M355.7 416.8v3M362.59 416.8v1.5M366.63 416.8v1.5M369.49 416.8v1.5M371.71 416.8v1.5M373.52 416.8v1.5M375.05 416.8v1.5M376.38 416.8v1.5M377.55 416.8v1.5M378.6 416.8v3M385.49 416.8v1.5M389.53 416.8v1.5M392.39 416.8v1.5M394.61 416.8v1.5M396.42 416.8v1.5M397.95 416.8v1.5M399.28 416.8v1.5M400.45 416.8v1.5M401.5 416.8v3M408.39 416.8v1.5M412.43 416.8v1.5M415.29 416.8v1.5M417.51 416.8v1.5M419.32 416.8v1.5M420.85 416.8v1.5M422.18 416.8v1.5M423.35 416.8v1.5M424.4 416.8v3M431.29 416.8v1.5" stroke="#000" stroke-width="0.85" fill="none"/>
<text x="356.3" y="426.8" font-size="6.6" text-anchor="middle">10<tspan font-size="4.4" dy="-2.3" dx="-0.5">2</tspan></text>
<text x="379.2" y="426.8" font-size="6.6" text-anchor="middle">10<tspan font-size="4.4" dy="-2.3" dx="-0.5">3</tspan></text>
<text x="402.2" y="426.8" font-size="6.6" text-anchor="middle">10<tspan font-size="4.4" dy="-2.3" dx="-0.5">4</tspan></text>
<text x="425.2" y="426.8" font-size="6.6" text-anchor="middle">10<tspan font-size="4.4" dy="-2.3" dx="-0.5">5</tspan></text>
<path d="M378.3 333.8v83 M342.4 398.6h92.2" fill="none" stroke="#333" stroke-width="0.8"/>
<text x="388.5" y="327.7" font-size="9.9" text-anchor="middle" font-weight="bold">TBI only</text>
<text x="388.2" y="438.7" font-size="9.4" text-anchor="middle">CD8 PerCP-Cy5-5-A</text>
<text transform="translate(8.2 377) rotate(-90)" font-size="9.4" text-anchor="middle">IFN-γ PE-A</text>
<text transform="translate(1 638.5) scale(.92 1)" font-size="19.2" font-weight="bold">C</text>
<g transform="translate(27.75 644.9) scale(.5) translate(.5 .5)" fill="none" stroke="#000" stroke-linecap="square"><path d="M88 57h0m6 2h0m12 1h0m13 0h0m-9 1h1m-7 1h2m-15 1h0m6 0h0m8 0h1m-21 1h2m4 0h0m7 0h0m2 0h0m2 0h0m6 0h0m-26 1h1m6 0h1m5 0h0m2 0h0m8 0h0m2 0h1m4 0h0m3 0h0m-31 1h0m2 0h0m2 0h0m7 0h0m5 0h3m2 0h0m5 0h0m3 0h0m-32 1h0m3 0h0m7 0h0m2 0h0m3 0h0m2 0h0m7 0h0m3 0h0m-29 1h0m4 0h0m3 0h0m7 0h0m12 0h0m5 0h0m2 0h0m5 0h0m-45 1h0m8 0h0m2 0h1m8 0h0m36 0h0m-59 1h0m7 0h1m2 0h0m2 0h0m33 0h0m-38 1h0m4 0h0m33 0h0m3 0h1m2 0h0m-45 1h0m4 0h0m2 0h0m44 0h0m6 0h0m-54 1h0m2 0h0m36 0h0m6 0h0m-45 1h0m38 0h0m5 0h0m-46 1h1m-4 1h0m3 0h0m2 0h0m38 0h0m2 0h0m2 0h0m2 0h0m-6 1h1m5 0h0m-50 1h0m45 0h0m2 0h1m3 0h0m3 0h0m-53 1h0m42 0h0m2 0h0m-45 1h0m43 0h0m4 0h0m2 0h0m3 0h0m-52 1h0m44 0h1m2 0h0m-47 1h0m42 0h0m9 0h0m-51 1h0m42 0h0m8 0h0m-50 1h0m46 0h0m2 0h0m-7 1h0m4 0h0m-45 1h0m38 0h0m2 0h0m8 0h0m-8 1h1m10 0h0m-51 1h0m37 0h0m2 0h1m-4 2h2m3 0h1m6 0h0m-15 1h2m2 0h0m2 0h0m11 0h0m-50 1h0m31 0h0m7 0h0m-38 1h0m34 0h0m6 0h0m-13 1h0m3 0h0m3 0h1m-32 1h0m22 0h0m5 0h0m7 0h0m-36 1h0m23 0h0m3 0h0m6 0h0m-32 1h0m3 0h0m2 0h2m6 0h1m7 0h0m5 0h0m8 0h0m4 0h0m-36 1h0m2 0h0m6 0h0m5 0h0m2 0h0m3 0h0m5 0h0m-20 1h1m2 0h0m4 0h1m7 0h0m-18 1h0m4 0h1m10 0h0m2 0h0m8 0h0m5 0h0m8 0h0m-31 1h0m5 0h0m4 0h0m12 0h0m-24 1h0m36 0h0m-31 1h0m3 0h0m38 0h0m-46 1h0m2 0h0m25 0h0m-23 2h0m21 1h0m19 0h0m16 0h0m-41 1h0m-21 2h0m37 0h0m38 2h0m-37 1h0m12 1h0m47 0h0m-87 3h0m15 1h0m47 1h0m-35 16h0m-30 12h0" stroke-width="1.35"/>
<path d="M86 65h0m12 0h1m-14 1h0m2 0h0m2 0h1m7 0h1m6 0h0m-18 1h0m2 0h0m2 0h0m4 0h0m8 0h1m-16 1h3m4 0h2m2 0h6m3 0h1m3 0h0m-24 1h2m5 0h10m2 0h6m-31 1h0m3 0h4m2 0h5m2 0h12m2 0h0m-30 1h12m2 0h9m2 0h4m-30 1h31m-35 1h0m3 0h29m2 0h2m-37 1h0m2 0h2m2 0h24m2 0h1m2 0h1m-36 1h35m-36 1h35m-38 1h2m2 0h35m-40 1h37m2 0h0m-40 1h40m-40 1h39m3 0h2m-45 1h40m-40 1h40m-39 1h39m-40 1h40m-41 1h37m2 0h0m-38 1h36m-36 1h35m-35 1h34m-35 1h34m-34 1h30m2 0h2m-34 1h30m-29 1h22m2 0h4m-27 1h24m2 0h1m-27 1h3m2 0h15m2 0h2m2 0h1m-26 1h3m2 0h0m2 0h2m2 0h4m2 0h2m3 0h0m-22 1h2m2 0h6m3 0h5m-13 1h3m5 0h1m2 0h1m-11 1h0" stroke-width="2.1"/>
</g><rect x="27.75" y="644.9" width="92.2" height="83.2" fill="none" stroke="#2a2a2a" stroke-width="0.8"/>
<path d="M27.75 726.04h-1.5M27.75 723.51h-1.5M27.75 721.55h-1.5M27.75 719.94h-1.5M27.75 718.59h-1.5M27.75 717.41h-1.5M27.75 716.38h-1.5M27.75 715.45h-3M27.75 709.35h-1.5M27.75 705.79h-1.5M27.75 703.26h-1.5M27.75 701.3h-1.5M27.75 699.69h-1.5M27.75 698.34h-1.5M27.75 697.16h-1.5M27.75 696.13h-1.5M27.75 695.2h-3M27.75 689.1h-1.5M27.75 685.54h-1.5M27.75 683.01h-1.5M27.75 681.05h-1.5M27.75 679.44h-1.5M27.75 678.09h-1.5M27.75 676.91h-1.5M27.75 675.88h-1.5M27.75 674.95h-3M27.75 668.85h-1.5M27.75 665.29h-1.5M27.75 662.76h-1.5M27.75 660.8h-1.5M27.75 659.19h-1.5M27.75 657.84h-1.5M27.75 656.66h-1.5M27.75 655.63h-1.5M27.75 654.7h-3M27.75 648.6h-1.5M29.08 728.1v1.5M31.94 728.1v1.5M34.16 728.1v1.5M35.97 728.1v1.5M37.5 728.1v1.5M38.83 728.1v1.5M40 728.1v1.5M41.05 728.1v3M47.94 728.1v1.5M51.98 728.1v1.5M54.84 728.1v1.5M57.06 728.1v1.5M58.87 728.1v1.5M60.4 728.1v1.5M61.73 728.1v1.5M62.9 728.1v1.5M63.95 728.1v3M70.84 728.1v1.5M74.88 728.1v1.5M77.74 728.1v1.5M79.96 728.1v1.5M81.77 728.1v1.5M83.3 728.1v1.5M84.63 728.1v1.5M85.8 728.1v1.5M86.85 728.1v3M93.74 728.1v1.5M97.78 728.1v1.5M100.64 728.1v1.5M102.86 728.1v1.5M104.67 728.1v1.5M106.2 728.1v1.5M107.53 728.1v1.5M108.7 728.1v1.5M109.75 728.1v3M116.64 728.1v1.5" stroke="#000" stroke-width="0.85" fill="none"/>
<text x="41.65" y="738.1" font-size="6.6" text-anchor="middle">10<tspan font-size="4.4" dy="-2.3" dx="-0.5">2</tspan></text>
<text x="64.55" y="738.1" font-size="6.6" text-anchor="middle">10<tspan font-size="4.4" dy="-2.3" dx="-0.5">3</tspan></text>
<text x="87.55" y="738.1" font-size="6.6" text-anchor="middle">10<tspan font-size="4.4" dy="-2.3" dx="-0.5">4</tspan></text>
<text x="110.55" y="738.1" font-size="6.6" text-anchor="middle">10<tspan font-size="4.4" dy="-2.3" dx="-0.5">5</tspan></text>
<text x="22.95" y="657.6" font-size="6.6" text-anchor="end">10<tspan font-size="4.4" dy="-2.3" dx="-0.5">5</tspan></text>
<text x="22.95" y="677.85" font-size="6.6" text-anchor="end">10<tspan font-size="4.4" dy="-2.3" dx="-0.5">4</tspan></text>
<text x="22.95" y="698.1" font-size="6.6" text-anchor="end">10<tspan font-size="4.4" dy="-2.3" dx="-0.5">3</tspan></text>
<text x="22.95" y="718.4" font-size="6.6" text-anchor="end">10<tspan font-size="4.4" dy="-2.3" dx="-0.5">2</tspan></text>
<path d="M53.25 644.9v83.2 M27.75 695.1h92.2" fill="none" stroke="#333" stroke-width="0.8"/>
<text x="30.45" y="654.4" font-size="9">Q1-2</text>
<text x="30.45" y="724.3" font-size="9">Q3-2</text>
<text x="116.45" y="654.4" font-size="9" text-anchor="end">98%</text>
<text x="116.45" y="724.3" font-size="9" text-anchor="end">2%</text>
<text x="73.85" y="638.7" font-size="9.9" text-anchor="middle" font-weight="bold">B6 LN</text>
<text x="74.05" y="749.5" font-size="9.4" text-anchor="middle">CD8-PE-A</text>
<g transform="translate(132 644.9) scale(.5) translate(.5 .5)" fill="none" stroke="#000" stroke-linecap="square"><path d="M90 57h0m11 12h0m-10 2h0m18 0h0m-19 1h0m8 0h1m-29 1h0m17 0h0m3 0h0m2 0h0m15 0h0m-46 1h0m11 0h0m12 0h0m7 0h0m8 0h0m-15 1h0m3 0h0m4 0h0m4 0h0m4 0h0m5 0h0m-36 1h0m2 0h0m4 0h0m14 0h0m7 0h1m7 0h0m-14 1h1m2 0h0m7 0h1m12 0h0m-41 1h0m12 0h1m7 0h0m9 0h0m8 0h0m-42 1h0m3 0h0m11 0h0m2 0h0m5 0h0m9 0h0m-37 1h0m19 0h1m9 0h0m7 0h0m-26 1h0m18 0h0m3 0h1m4 0h0m9 0h0m7 0h0m-63 1h0m9 0h0m18 0h0m7 0h0m3 0h1m5 0h0m13 0h1m14 0h0m-56 1h0m29 0h0m17 0h0m-34 1h0m10 0h0m2 0h0m11 0h1m3 0h0m2 0h0m-32 1h0m6 0h0m5 0h1m3 0h0m3 0h0m5 0h0m14 0h0m3 0h0m-27 1h0m8 0h0m10 0h0m2 0h0m4 0h0m2 0h0m6 0h0m-57 1h0m29 0h1m3 0h0m4 0h0m11 0h0m10 0h0m-51 1h0m6 0h0m5 0h0m6 0h0m10 0h0m24 0h0m-35 1h0m14 0h0m2 0h0m5 0h0m14 0h0m-6 1h0m-34 1h0m17 0h0m7 0h0m-30 1h0m13 0h2m3 0h0m23 0h0m-16 1h0m2 0h0m-25 1h0m13 0h0m3 0h0m-16 1h0m3 0h0m16 0h0m-18 1h0m3 0h0m2 0h0m3 0h0m2 0h0m8 0h0m9 0h0m-3 3h0m3 0h0m-18 1h0m11 1h0m1 1h0m-21 4h0m-17 6h0m2 0h0m31 0h0m-4 1h0m-19 3h0m36 0h0m-3 3h0m20 1h0m-13 2h0m-6 1h0m-21 1h0m17 4h0m-20 1h0m-16 1h0m53 2h0m-48 3h0m46 0h0m-4 1h0m-52 1h0m27 3h0m-13 9h0m53 5h0m-13 2h0m-33 8h0" stroke-width="1.15"/>
</g><rect x="132" y="644.9" width="92.2" height="83.2" fill="none" stroke="#2a2a2a" stroke-width="0.8"/>
<path d="M132 726.04h-1.5M132 723.51h-1.5M132 721.55h-1.5M132 719.94h-1.5M132 718.59h-1.5M132 717.41h-1.5M132 716.38h-1.5M132 715.45h-3M132 709.35h-1.5M132 705.79h-1.5M132 703.26h-1.5M132 701.3h-1.5M132 699.69h-1.5M132 698.34h-1.5M132 697.16h-1.5M132 696.13h-1.5M132 695.2h-3M132 689.1h-1.5M132 685.54h-1.5M132 683.01h-1.5M132 681.05h-1.5M132 679.44h-1.5M132 678.09h-1.5M132 676.91h-1.5M132 675.88h-1.5M132 674.95h-3M132 668.85h-1.5M132 665.29h-1.5M132 662.76h-1.5M132 660.8h-1.5M132 659.19h-1.5M132 657.84h-1.5M132 656.66h-1.5M132 655.63h-1.5M132 654.7h-3M132 648.6h-1.5M133.33 728.1v1.5M136.19 728.1v1.5M138.41 728.1v1.5M140.22 728.1v1.5M141.75 728.1v1.5M143.08 728.1v1.5M144.25 728.1v1.5M145.3 728.1v3M152.19 728.1v1.5M156.23 728.1v1.5M159.09 728.1v1.5M161.31 728.1v1.5M163.12 728.1v1.5M164.65 728.1v1.5M165.98 728.1v1.5M167.15 728.1v1.5M168.2 728.1v3M175.09 728.1v1.5M179.13 728.1v1.5M181.99 728.1v1.5M184.21 728.1v1.5M186.02 728.1v1.5M187.55 728.1v1.5M188.88 728.1v1.5M190.05 728.1v1.5M191.1 728.1v3M197.99 728.1v1.5M202.03 728.1v1.5M204.89 728.1v1.5M207.11 728.1v1.5M208.92 728.1v1.5M210.45 728.1v1.5M211.78 728.1v1.5M212.95 728.1v1.5M214 728.1v3M220.89 728.1v1.5" stroke="#000" stroke-width="0.85" fill="none"/>
<text x="145.9" y="738.1" font-size="6.6" text-anchor="middle">10<tspan font-size="4.4" dy="-2.3" dx="-0.5">2</tspan></text>
<text x="168.8" y="738.1" font-size="6.6" text-anchor="middle">10<tspan font-size="4.4" dy="-2.3" dx="-0.5">3</tspan></text>
<text x="191.8" y="738.1" font-size="6.6" text-anchor="middle">10<tspan font-size="4.4" dy="-2.3" dx="-0.5">4</tspan></text>
<text x="214.8" y="738.1" font-size="6.6" text-anchor="middle">10<tspan font-size="4.4" dy="-2.3" dx="-0.5">5</tspan></text>
<path d="M157.5 644.9v83.2 M132 695.1h92.2" fill="none" stroke="#333" stroke-width="0.8"/>
<text x="134.7" y="654.4" font-size="9">Q1-2</text>
<text x="134.7" y="724.3" font-size="9">Q3-2</text>
<text x="220.7" y="654.4" font-size="9" text-anchor="end">82%</text>
<text x="220.7" y="724.3" font-size="9" text-anchor="end">18%</text>
<text x="178.1" y="638.7" font-size="9.9" text-anchor="middle" font-weight="bold">T-bet<tspan font-size="6.2" dy="-2.7" letter-spacing="0.3">−/−</tspan><tspan dy="2.7"> LN</tspan></text>
<text x="178.3" y="749.5" font-size="9.4" text-anchor="middle">CD8-PE-A</text>
<g transform="translate(236.4 644.9) scale(.5) translate(.5 .5)" fill="none" stroke="#000" stroke-linecap="square"><path d="M94 54h0m7 0h0m9 2h0m7 0h0m-50 1h0m4 0h0m-4 3h0m16 1h1m25 0h0m4 0h0m-42 1h0m4 0h1m2 0h0m3 0h0m9 0h0m-19 1h0m9 0h1m7 0h0m8 0h0m-28 1h0m4 0h1m5 0h0m5 0h0m5 0h0m7 0h0m6 0h0m9 0h1m23 0h0m-57 1h0m5 0h0m6 0h0m2 0h3m17 0h0m-39 1h0m2 0h0m5 0h0m7 0h2m2 0h1m2 0h0m5 0h0m5 0h0m-28 1h0m3 0h0m2 0h3m2 0h0m3 0h0m6 0h0m2 0h0m3 0h0m3 0h0m3 0h0m15 0h0m-53 1h0m5 0h0m4 0h2m8 0h0m5 0h0m3 0h1m4 0h0m6 0h1m11 0h0m-48 1h0m4 0h2m4 0h1m9 0h1m7 0h0m6 0h0m18 0h0m27 0h0m-80 1h1m3 0h0m3 0h1m2 0h0m3 0h1m6 0h0m4 0h6m2 0h1m5 0h0m7 0h0m3 0h1m8 0h0m-57 1h0m4 0h0m4 0h0m2 0h0m2 0h0m2 0h0m4 0h0m5 0h0m12 0h0m4 0h1m4 0h1m24 0h0m-69 1h0m4 0h0m2 0h0m4 0h0m6 0h0m2 0h0m2 0h0m9 0h0m6 0h0m3 0h1m5 0h0m3 0h0m13 0h0m9 0h0m-69 1h1m3 0h0m7 0h0m3 0h1m10 0h2m2 0h3m2 0h0m3 0h0m4 0h0m4 0h0m4 0h0m3 0h0m4 0h0m-54 1h0m3 0h0m6 0h0m4 0h7m2 0h0m9 0h1m2 0h1m6 0h0m12 0h0m4 0h0m3 0h0m3 0h0m-62 1h3m5 0h1m2 0h0m12 0h1m2 0h0m5 0h1m3 0h0m6 0h0m7 0h0m4 0h0m9 0h0m6 0h0m-67 1h0m3 0h2m3 0h1m3 0h1m7 0h4m2 0h1m6 0h0m3 0h0m4 0h0m3 0h0m3 0h0m2 0h0m10 0h1m12 0h0m7 0h0m-73 1h0m4 0h0m2 0h0m5 0h0m2 0h0m10 0h0m2 0h0m3 0h0m3 0h1m2 0h0m4 0h0m7 0h0m3 0h1m-56 1h0m2 0h0m4 0h0m4 0h1m4 0h0m3 0h1m5 0h0m3 0h1m2 0h0m3 0h1m10 0h0m2 0h0m15 0h0m2 0h0m-57 1h0m2 0h0m2 0h0m2 0h0m2 0h0m3 0h0m8 0h2m8 0h0m14 0h0m8 0h0m15 0h0m-68 1h0m2 0h0m2 0h0m11 0h0m4 0h1m4 0h0m2 0h0m4 0h0m10 0h0m3 0h0m16 0h1m-66 1h0m2 0h0m2 0h1m3 0h0m4 0h0m2 0h0m3 0h0m2 0h0m2 0h0m2 0h0m5 0h0m2 0h0m3 0h0m5 0h0m3 0h0m3 0h0m2 0h0m3 0h0m-45 1h0m12 0h0m2 0h1m4 0h0m6 0h0m4 0h1m2 0h0m6 0h0m6 0h0m7 0h0m8 0h0m2 0h0m-61 1h0m11 0h0m6 0h0m3 0h0m3 0h0m2 0h0m3 0h0m2 0h0m7 0h0m2 0h0m7 0h1m10 0h0m3 0h0m-58 1h0m4 0h0m5 0h0m8 0h0m3 0h0m9 0h0m2 0h1m2 0h0m2 0h0m3 0h0m4 0h0m-33 1h0m11 0h0m4 0h0m3 0h0m2 0h0m4 0h0m3 0h0m4 0h0m2 0h0m4 0h1m21 0h0m-59 1h0m2 0h1m2 0h0m7 0h0m10 0h0m3 0h0m10 0h0m4 0h0m-47 1h0m6 0h0m4 0h1m7 0h0m7 0h2m4 0h0m7 0h0m-43 1h0m11 0h1m8 0h0m7 0h1m2 0h0m9 0h0m7 0h0m-34 1h0m3 0h2m2 0h3m2 0h0m2 0h0m5 0h1m4 0h0m2 0h1m2 0h0m5 0h0m-47 1h1m9 0h1m7 0h0m5 0h0m8 0h0m2 0h0m7 0h0m3 0h0m12 0h0m-35 1h0m5 0h1m5 0h1m4 0h0m16 0h0m-40 1h1m11 0h0m2 0h1m2 0h0m6 0h0m8 0h0m10 0h0m-50 1h0m8 0h0m5 0h0m2 0h0m7 0h0m9 0h0m4 0h0m3 0h0m9 0h0m9 0h0m-44 1h0m5 0h1m2 0h0m2 0h0m3 0h0m8 0h1m19 0h0m2 0h0m-45 1h0m3 0h0m3 0h0m6 0h0m3 0h2m2 0h0m5 0h0m2 0h0m-31 1h0m2 0h0m3 0h0m3 0h0m2 0h0m3 0h0m3 0h0m3 0h0m2 0h0m7 0h0m20 0h0m-45 1h0m4 0h1m2 0h2m2 0h0m2 0h0m9 0h0m3 0h1m4 0h0m3 0h1m4 0h0m-43 1h0m11 0h0m4 0h1m2 0h0m5 0h4m3 0h0m2 0h1m2 0h0m4 0h0m-35 1h0m6 0h0m3 0h0m2 0h0m2 0h0m2 0h2m2 0h1m6 0h0m2 0h0m2 0h1m4 0h0m-36 1h0m5 0h0m9 0h0m10 0h0m2 0h0m2 0h0m3 0h0m-31 1h0m6 0h1m4 0h0m2 0h0m3 0h7m4 0h1m2 0h0m3 0h0m5 0h0m-45 1h0m9 0h2m3 0h0m3 0h1m2 0h0m2 0h0m9 0h1m2 0h0m-29 1h0m3 0h2m7 0h0m3 0h0m3 0h0m4 0h1m3 0h0m4 0h0m2 0h4m2 0h0m2 0h0m-40 1h0m10 0h1m3 0h1m2 0h0m11 0h0m4 0h0m2 0h0m3 0h0m-33 1h0m8 0h1m6 0h0m4 0h0m3 0h0m9 0h0m2 0h1m-35 1h0m4 0h0m2 0h1m5 0h0m3 0h0m6 0h1m7 0h1m-28 1h1m5 0h0m2 0h0m7 0h0m3 0h0m2 0h0m2 0h0m8 0h1m2 0h0m-43 1h0m3 0h0m6 0h0m7 0h0m2 0h0m7 0h0m3 0h0m3 0h0m3 0h2m2 0h0m2 0h0m4 0h0m-34 1h1m3 0h0m15 0h1m2 0h0m-27 1h0m6 0h0m23 0h1m5 0h0m2 0h0m-33 1h0m23 0h0m5 0h1m6 0h0m2 0h0m4 0h0m-51 1h0m8 0h0m4 0h1m2 0h0m7 0h0m13 0h2m4 0h0m11 0h0m-39 1h0m2 0h0m2 0h0m4 0h0m18 0h0m-35 1h1m2 0h0m4 0h0m3 0h0m3 0h0m3 0h0m2 0h0m3 0h0m7 0h0m2 0h0m4 0h0m10 0h0m-43 1h0m6 0h1m3 0h1m4 0h0m5 0h0m6 0h0m4 0h0m-29 1h0m2 0h0m3 0h0m4 0h0m5 0h0m4 0h0m3 0h0m9 0h0m-32 1h1m8 0h0m2 0h0m3 0h0m3 0h0m2 0h0m4 0h1m2 0h0m4 0h0m-20 1h0m2 0h0m2 0h0m2 0h0m2 0h0m4 0h0m2 0h0m2 0h0m3 0h0m8 0h0m3 0h0m-36 1h0m13 0h0m4 0h1m2 0h0m4 0h0m7 0h0m-23 1h0m6 0h1m6 0h0m3 0h0m8 0h1m-17 1h5m2 0h0m4 0h0m2 0h0m-30 1h0m13 0h0m2 0h0m9 0h0m3 0h1m-17 1h0m20 0h0m2 0h0m2 0h0m-9 1h0m2 0h0m-22 1h0m5 0h2m5 0h0m10 0h0m-20 1h1m20 0h0m-25 1h0m2 1h0m4 0h0m2 0h0m2 0h0m7 0h0m3 0h0m-2 3h0m-10 1h0m5 1h0m-4 2h0" stroke-width="1.15"/>
<path d="M89 67h0m10 0h1m-21 1h1m3 0h1m4 0h1m10 0h2m-25 1h0m6 0h2m16 0h1m-29 1h0m10 0h2m-12 1h0m11 0h0m5 0h1m3 0h1m-9 1h0m4 0h2m2 0h0m-8 1h0m5 0h2m-1 1h0m-7 3h1m7 0h0m-7 1h1m4 0h1m-2 1h3m-5 1h0m3 0h1m-4 1h0m7 19h0m-2 1h1m-3 1h0m6 0h0m2 0h0m-3 1h2m-2 1h1m2 0h0m5 0h0m3 0h1m-21 1h0m10 0h2m5 0h4m-20 1h1m4 0h1m4 0h1m5 0h4m-17 1h4m3 0h1m6 0h1m2 0h0m-26 1h0m9 0h4m3 0h0m-11 1h1m3 0h4m3 0h1m-14 1h7m2 0h0m2 0h3m2 0h1m-18 1h9m2 0h3m2 0h1m2 0h0m-14 1h2m3 0h11m4 0h0m-19 1h0m5 0h0m2 0h4m2 0h1m2 0h0m2 0h0m-19 1h0m5 0h1m4 0h2m6 0h1m-19 1h1m3 0h1m5 0h2m6 0h1m-20 1h1m4 0h1m6 0h0m-12 1h0m7 3h1" stroke-width="2.1"/>
</g><rect x="236.4" y="644.9" width="92.2" height="83.2" fill="none" stroke="#2a2a2a" stroke-width="0.8"/>
<path d="M236.4 726.04h-1.5M236.4 723.51h-1.5M236.4 721.55h-1.5M236.4 719.94h-1.5M236.4 718.59h-1.5M236.4 717.41h-1.5M236.4 716.38h-1.5M236.4 715.45h-3M236.4 709.35h-1.5M236.4 705.79h-1.5M236.4 703.26h-1.5M236.4 701.3h-1.5M236.4 699.69h-1.5M236.4 698.34h-1.5M236.4 697.16h-1.5M236.4 696.13h-1.5M236.4 695.2h-3M236.4 689.1h-1.5M236.4 685.54h-1.5M236.4 683.01h-1.5M236.4 681.05h-1.5M236.4 679.44h-1.5M236.4 678.09h-1.5M236.4 676.91h-1.5M236.4 675.88h-1.5M236.4 674.95h-3M236.4 668.85h-1.5M236.4 665.29h-1.5M236.4 662.76h-1.5M236.4 660.8h-1.5M236.4 659.19h-1.5M236.4 657.84h-1.5M236.4 656.66h-1.5M236.4 655.63h-1.5M236.4 654.7h-3M236.4 648.6h-1.5M237.73 728.1v1.5M240.59 728.1v1.5M242.81 728.1v1.5M244.62 728.1v1.5M246.15 728.1v1.5M247.48 728.1v1.5M248.65 728.1v1.5M249.7 728.1v3M256.59 728.1v1.5M260.63 728.1v1.5M263.49 728.1v1.5M265.71 728.1v1.5M267.52 728.1v1.5M269.05 728.1v1.5M270.38 728.1v1.5M271.55 728.1v1.5M272.6 728.1v3M279.49 728.1v1.5M283.53 728.1v1.5M286.39 728.1v1.5M288.61 728.1v1.5M290.42 728.1v1.5M291.95 728.1v1.5M293.28 728.1v1.5M294.45 728.1v1.5M295.5 728.1v3M302.39 728.1v1.5M306.43 728.1v1.5M309.29 728.1v1.5M311.51 728.1v1.5M313.32 728.1v1.5M314.85 728.1v1.5M316.18 728.1v1.5M317.35 728.1v1.5M318.4 728.1v3M325.29 728.1v1.5" stroke="#000" stroke-width="0.85" fill="none"/>
<text x="250.3" y="738.1" font-size="6.6" text-anchor="middle">10<tspan font-size="4.4" dy="-2.3" dx="-0.5">2</tspan></text>
<text x="273.2" y="738.1" font-size="6.6" text-anchor="middle">10<tspan font-size="4.4" dy="-2.3" dx="-0.5">3</tspan></text>
<text x="296.2" y="738.1" font-size="6.6" text-anchor="middle">10<tspan font-size="4.4" dy="-2.3" dx="-0.5">4</tspan></text>
<text x="319.2" y="738.1" font-size="6.6" text-anchor="middle">10<tspan font-size="4.4" dy="-2.3" dx="-0.5">5</tspan></text>
<path d="M261.9 644.9v83.2 M236.4 695.1h92.2" fill="none" stroke="#333" stroke-width="0.8"/>
<text x="239.1" y="654.4" font-size="9">Q1-2</text>
<text x="239.1" y="724.3" font-size="9">Q3-2</text>
<text x="325.1" y="654.4" font-size="9" text-anchor="end">51%</text>
<text x="325.1" y="724.3" font-size="9" text-anchor="end">49%</text>
<text x="282.5" y="638.7" font-size="9.9" text-anchor="middle" font-weight="bold">T-bet<tspan font-size="6.2" dy="-2.7" letter-spacing="0.3">−/−</tspan><tspan dy="2.7"> LN IFN</tspan></text>
<text x="282.7" y="749.5" font-size="9.4" text-anchor="middle">CD8-PE-A</text>
<g transform="translate(342.4 644.9) scale(.5) translate(.5 .5)" fill="none" stroke="#000" stroke-linecap="square"><path d="M82 59h0m-15 2h0m22 0h0m8 1h0m-15 1h0m33 0h0m0 1h0m8 0h0m-42 1h0m11 0h0m7 0h0m-29 1h0m3 0h0m11 0h0m3 0h0m-16 1h0m5 0h0m3 0h2m2 0h1m5 0h0m2 0h0m14 0h0m-36 1h0m5 0h0m2 0h1m3 0h0m2 0h0m7 0h0m6 0h0m-20 1h0m4 0h0m5 0h1m3 0h0m8 0h0m14 0h0m17 0h0m-61 1h0m2 0h1m2 0h3m3 0h0m3 0h1m5 0h0m7 0h0m3 0h0m2 0h0m25 0h0m20 0h0m-70 1h0m3 0h1m2 0h0m2 0h2m3 0h0m2 0h0m2 0h0m2 0h1m7 0h0m2 0h0m-30 1h0m5 0h0m3 0h0m3 0h0m4 0h1m3 0h0m3 0h0m6 0h0m9 0h0m7 0h0m-46 1h1m5 0h0m4 0h1m2 0h3m3 0h0m8 0h0m4 0h1m2 0h1m7 0h0m-41 1h0m3 0h0m2 0h0m2 0h0m4 0h0m2 0h0m2 0h3m4 0h2m6 0h0m5 0h1m15 0h0m3 0h0m8 0h1m-67 1h0m4 0h0m2 0h0m13 0h0m4 0h0m7 0h0m2 0h0m2 0h0m2 0h0m13 0h0m-44 1h0m4 0h0m5 0h0m2 0h0m2 0h1m2 0h0m4 0h0m2 0h0m3 0h0m4 0h1m7 0h0m-39 1h0m2 0h0m2 0h0m2 0h0m2 0h1m2 0h0m2 0h0m5 0h0m3 0h0m2 0h0m3 0h0m8 0h0m8 0h0m-45 1h1m2 0h0m2 0h0m2 0h0m2 0h0m3 0h0m3 0h0m3 0h0m5 0h0m3 0h0m2 0h0m3 0h1m6 0h0m2 0h0m11 0h0m16 0h0m-67 1h1m2 0h0m7 0h1m3 0h0m10 0h1m3 0h1m5 0h0m5 0h0m4 0h0m2 0h0m2 0h0m3 0h0m4 0h0m-48 1h0m2 0h0m4 0h1m3 0h0m2 0h1m3 0h0m4 0h0m12 0h1m3 0h0m13 0h0m2 0h0m-58 1h0m2 0h0m6 0h2m2 0h0m2 0h1m2 0h1m9 0h0m2 0h1m2 0h1m3 0h0m2 0h0m3 0h0m7 0h0m5 0h0m2 0h1m-56 1h0m6 0h0m4 0h0m9 0h1m2 0h0m3 0h2m11 0h0m2 0h0m3 0h0m14 0h0m-53 1h0m3 0h1m4 0h0m2 0h1m3 0h0m4 0h0m2 0h0m7 0h3m10 0h0m8 0h0m2 0h0m-51 1h0m6 0h0m5 0h0m3 0h1m2 0h0m3 0h1m2 0h0m2 0h1m2 0h0m-28 1h0m2 0h3m6 0h1m3 0h0m2 0h0m2 0h0m6 0h0m4 0h1m3 0h1m3 0h0m17 0h0m5 0h0m-62 1h0m3 0h0m5 0h0m5 0h1m4 0h0m2 0h0m2 0h0m2 0h1m4 0h0m5 0h1m2 0h0m2 0h0m2 0h0m2 0h0m6 0h0m17 0h0m-64 1h0m7 0h0m3 0h0m2 0h0m2 0h1m4 0h1m8 0h0m2 0h0m3 0h0m3 0h0m3 0h1m-42 1h0m2 0h0m12 0h0m2 0h0m5 0h0m3 0h2m3 0h2m5 0h0m7 0h2m-38 1h0m2 0h0m3 0h2m3 0h1m11 0h0m3 0h0m5 0h0m2 0h0m2 0h0m7 0h0m-31 1h0m24 0h1m12 0h1m-39 1h0m3 0h0m7 0h1m2 0h0m3 0h0m12 0h0m12 0h0m-53 1h0m14 0h0m3 0h0m7 0h0m2 0h0m2 0h1m4 0h0m5 0h0m5 0h0m-33 1h0m2 0h1m5 0h0m5 0h0m4 0h0m9 0h0m5 0h0m-38 1h0m13 0h0m3 0h0m6 0h1m3 0h0m-26 1h0m12 0h1m8 0h0m5 0h2m15 0h0m-46 1h0m8 0h0m2 0h0m4 0h0m2 0h0m3 0h0m4 0h0m2 0h0m3 0h1m9 0h0m-31 1h1m2 0h1m9 0h1m4 0h0m2 0h0m4 0h0m2 0h1m-29 1h0m6 0h0m4 0h1m2 0h0m4 0h1m2 0h0m2 0h0m2 0h0m6 0h0m2 0h0m3 0h0m2 0h0m14 0h0m-48 1h0m4 0h0m4 0h0m5 0h0m4 0h0m9 0h1m2 0h0m-37 1h0m4 0h0m5 0h0m3 0h0m5 0h0m3 0h1m2 0h0m3 0h1m3 0h0m2 0h0m2 0h0m8 0h0m-38 1h0m3 0h0m3 0h0m2 0h0m6 0h1m6 0h0m2 0h0m5 0h0m3 0h0m8 0h1m-45 1h0m17 0h0m5 0h0m7 0h1m3 0h1m4 0h0m-30 1h0m4 0h0m2 0h1m5 0h0m6 0h0m3 0h0m2 0h0m2 0h0m6 0h0m8 0h0m-42 1h0m4 0h0m3 0h0m3 0h3m10 0h1m3 0h0m2 0h0m2 0h0m5 0h0m-29 1h1m3 0h0m11 0h0m3 0h0m2 0h0m5 0h0m10 0h0m-45 1h0m3 0h0m2 0h1m5 0h1m9 0h0m6 0h1m2 0h0m2 0h0m-27 1h0m3 0h0m3 0h0m2 0h0m10 0h0m8 0h0m7 0h0m19 0h0m-49 1h0m3 0h0m2 0h0m15 0h1m8 0h1m25 0h0m-56 1h0m3 0h0m2 0h0m20 0h0m6 0h0m11 0h0m-49 1h0m6 0h0m2 0h2m3 0h1m14 0h1m2 0h0m2 0h0m-25 1h0m4 0h0m6 0h1m7 0h0m2 0h0m9 0h0m-34 1h1m4 0h0m2 0h0m2 0h1m8 0h0m9 0h0m8 0h0m-36 1h0m3 0h1m2 0h0m2 0h1m5 0h1m2 0h0m9 0h1m5 0h0m13 0h0m-46 1h0m3 0h0m5 0h0m4 0h0m4 0h0m2 0h0m23 0h0m-33 1h2m2 0h0m2 0h0m11 0h0m2 0h1m5 0h0m-27 1h1m3 0h0m4 0h0m2 0h0m2 0h0m2 0h0m2 0h1m2 0h0m2 0h0m4 0h0m-30 1h0m7 0h0m11 0h0m2 0h0m21 0h0m-37 1h0m3 0h0m3 0h1m4 0h1m2 0h0m2 0h0m3 0h1m5 0h0m4 0h0m-29 1h1m12 0h3m9 0h0m-33 1h0m2 0h0m8 0h0m15 0h0m4 0h0m9 0h0m-27 1h0m4 0h0m9 0h0m-22 1h0m4 0h0m2 0h0m7 0h0m6 0h0m2 0h0m17 0h0m-41 1h0m7 0h0m10 0h1m-8 1h0m9 0h0m16 0h0m-11 1h0m-4 1h1m2 0h0m-10 3h0m9 1h0m-7 2h0" stroke-width="1.15"/>
<path d="M77 74h0m-1 1h1m17 0h1m-18 1h0m18 0h1m-25 1h0m11 0h0m4 0h1m-1 1h2m4 0h0m-6 1h0m2 0h1m-1 1h0m-1 1h1m-1 1h0m8 0h1m-2 1h1m-22 1h0m12 0h0m21 3h0m-25 1h0m24 0h1m0 1h0m-12 3h0m1 1h0m0 4h0m4 0h0m-4 1h0m4 0h1m-9 1h0m8 0h1m-7 1h0m-4 1h0m3 0h1m-4 1h0m3 0h1m-3 1h3m-6 1h4m2 0h1m-8 1h6m2 0h0m5 0h0m-14 1h4m4 0h0m2 0h0m-10 1h4m3 0h0m2 0h2m-14 1h0m2 0h7m2 0h0m2 0h2m3 0h1m-16 1h3m2 0h8m2 0h1m-16 1h3m2 0h3m2 0h1m-11 1h1m4 0h1m2 0h0m-8 1h1m6 0h2m3 0h0m-14 1h1m8 0h5m-13 1h0m4 0h0m5 0h1m2 0h1m-9 1h0m6 0h1m-9 1h0m0 1h1" stroke-width="2.1"/>
</g><rect x="342.4" y="644.9" width="92.2" height="83.2" fill="none" stroke="#2a2a2a" stroke-width="0.8"/>
<path d="M342.4 726.04h-1.5M342.4 723.51h-1.5M342.4 721.55h-1.5M342.4 719.94h-1.5M342.4 718.59h-1.5M342.4 717.41h-1.5M342.4 716.38h-1.5M342.4 715.45h-3M342.4 709.35h-1.5M342.4 705.79h-1.5M342.4 703.26h-1.5M342.4 701.3h-1.5M342.4 699.69h-1.5M342.4 698.34h-1.5M342.4 697.16h-1.5M342.4 696.13h-1.5M342.4 695.2h-3M342.4 689.1h-1.5M342.4 685.54h-1.5M342.4 683.01h-1.5M342.4 681.05h-1.5M342.4 679.44h-1.5M342.4 678.09h-1.5M342.4 676.91h-1.5M342.4 675.88h-1.5M342.4 674.95h-3M342.4 668.85h-1.5M342.4 665.29h-1.5M342.4 662.76h-1.5M342.4 660.8h-1.5M342.4 659.19h-1.5M342.4 657.84h-1.5M342.4 656.66h-1.5M342.4 655.63h-1.5M342.4 654.7h-3M342.4 648.6h-1.5M343.73 728.1v1.5M346.59 728.1v1.5M348.81 728.1v1.5M350.62 728.1v1.5M352.15 728.1v1.5M353.48 728.1v1.5M354.65 728.1v1.5M355.7 728.1v3M362.59 728.1v1.5M366.63 728.1v1.5M369.49 728.1v1.5M371.71 728.1v1.5M373.52 728.1v1.5M375.05 728.1v1.5M376.38 728.1v1.5M377.55 728.1v1.5M378.6 728.1v3M385.49 728.1v1.5M389.53 728.1v1.5M392.39 728.1v1.5M394.61 728.1v1.5M396.42 728.1v1.5M397.95 728.1v1.5M399.28 728.1v1.5M400.45 728.1v1.5M401.5 728.1v3M408.39 728.1v1.5M412.43 728.1v1.5M415.29 728.1v1.5M417.51 728.1v1.5M419.32 728.1v1.5M420.85 728.1v1.5M422.18 728.1v1.5M423.35 728.1v1.5M424.4 728.1v3M431.29 728.1v1.5" stroke="#000" stroke-width="0.85" fill="none"/>
<text x="356.3" y="738.1" font-size="6.6" text-anchor="middle">10<tspan font-size="4.4" dy="-2.3" dx="-0.5">2</tspan></text>
<text x="379.2" y="738.1" font-size="6.6" text-anchor="middle">10<tspan font-size="4.4" dy="-2.3" dx="-0.5">3</tspan></text>
<text x="402.2" y="738.1" font-size="6.6" text-anchor="middle">10<tspan font-size="4.4" dy="-2.3" dx="-0.5">4</tspan></text>
<text x="425.2" y="738.1" font-size="6.6" text-anchor="middle">10<tspan font-size="4.4" dy="-2.3" dx="-0.5">5</tspan></text>
<path d="M367.9 644.9v83.2 M342.4 695.1h92.2" fill="none" stroke="#333" stroke-width="0.8"/>
<text x="345.1" y="654.4" font-size="9">Q1-2</text>
<text x="345.1" y="724.3" font-size="9">Q3-2</text>
<text x="431.1" y="654.4" font-size="9" text-anchor="end">49%</text>
<text x="431.1" y="724.3" font-size="9" text-anchor="end">51%</text>
<text x="388.5" y="638.7" font-size="9.9" text-anchor="middle" font-weight="bold">TBI-IFN</text>
<text x="388.7" y="749.5" font-size="9.4" text-anchor="middle">CD8-PE-A</text>
<text transform="translate(8.2 687) rotate(-90)" font-size="9.4" text-anchor="middle">CD11a-FITC-A</text>
<defs>
<pattern id="pd" width="3.2" height="3.2" patternUnits="userSpaceOnUse"><rect width="3.2" height="3.2" fill="#fafafa"/>
<circle cx=".8" cy=".8" r=".72" fill="#222"/>
<circle cx="2.4" cy="2.4" r=".72" fill="#222"/>
</pattern>
<pattern id="pc" width="3.2" height="3.2" patternUnits="userSpaceOnUse"><rect width="3.2" height="3.2" fill="#0a0a0a"/>
<circle cx=".8" cy=".8" r=".8" fill="#fff"/>
<circle cx="2.4" cy="2.4" r=".8" fill="#fff"/>
</pattern>
<pattern id="ph" width="4.2" height="4.2" patternUnits="userSpaceOnUse"><rect width="4.2" height="4.2" fill="#fff"/>
<path d="M-1 -1L5.2 5.2M-1 3.2L1 5.2M3.2 -1L5.2 1" stroke="#111" stroke-width=".7"/>
</pattern>
</defs><rect x="41.4" y="175.6" width="15.6" height="101.4" fill="#111"/>
<path d="M49.2 175.6V158.4M46.2 158.4h6" stroke="#111" stroke-width="0.8" fill="none"/>
<text x="49.2" y="288" font-size="9.1" text-anchor="middle">B6 LN</text>
<rect x="78" y="271.8" width="15.2" height="5.2" fill="#8a8a8a" stroke="#111" stroke-width="0.8"/>
<ellipse cx="81.1" cy="274.5" rx="1.9" ry="1.5" fill="#fff"/>
<ellipse cx="85.6" cy="274.5" rx="1.9" ry="1.5" fill="#fff"/>
<ellipse cx="90.1" cy="274.5" rx="1.9" ry="1.5" fill="#fff"/>
<path d="M82.8 271.1h5.6" stroke="#111" stroke-width="1" fill="none"/>
<text x="85.6" y="288" font-size="9.1" text-anchor="middle">T-bet<tspan font-size="6.4" dy="-2.6" letter-spacing="0.2">−/−</tspan></text>
<text x="85.6" y="298.2" font-size="9.1" text-anchor="middle">LN</text>
<rect x="115.4" y="272" width="15.4" height="5" fill="#1a1a1a" stroke="#111" stroke-width="0.8"/>
<ellipse cx="118.15" cy="274.6" rx="1.3" ry="1.1" fill="#fff"/>
<ellipse cx="121.45" cy="274.6" rx="1.3" ry="1.1" fill="#fff"/>
<ellipse cx="124.75" cy="274.6" rx="1.3" ry="1.1" fill="#fff"/>
<ellipse cx="128.05" cy="274.6" rx="1.3" ry="1.1" fill="#fff"/>
<path d="M120.3 271.3h5.6" stroke="#111" stroke-width="1" fill="none"/>
<text x="123.1" y="288" font-size="9.1" text-anchor="middle">T-bet<tspan font-size="6.4" dy="-2.6" letter-spacing="0.2">−/−</tspan></text>
<text x="123.1" y="298.2" font-size="9.1" text-anchor="middle">LN IFN</text>
<rect x="153.2" y="267" width="15.4" height="10" fill="url(#ph)" stroke="#111" stroke-width="0.8"/>
<path d="M158.1 266.3h5.6" stroke="#111" stroke-width="1" fill="none"/>
<text x="160.9" y="288" font-size="9.1" text-anchor="middle">TBI-IFN</text>
<rect x="189.8" y="272.8" width="15.4" height="4.2" fill="#a0a0a0" stroke="#111" stroke-width="0.8"/>
<path d="M194.7 272.1h5.6" stroke="#111" stroke-width="1" fill="none"/>
<text x="197.5" y="288" font-size="9.1" text-anchor="middle">TBI</text>
<text x="197.5" y="298.2" font-size="9.1" text-anchor="middle">only</text>
<text x="23.4" y="280.3" font-size="9.1" text-anchor="end">0</text>
<text x="23.4" y="248.3" font-size="9.1" text-anchor="end">5</text>
<text x="23.4" y="216.3" font-size="9.1" text-anchor="end">10</text>
<text x="23.4" y="184.3" font-size="9.1" text-anchor="end">15</text>
<text x="23.4" y="152.3" font-size="9.1" text-anchor="end">20</text>
<path d="M27 149V277H220.4M27 245h4.4M27 213h4.4M27 181h4.4M27 149h4.4" stroke="#111" stroke-width="0.9" fill="none"/>
<text x="60.5" y="149.8" font-size="9.9" font-weight="bold">Bone marrow CD4<tspan font-size="6" dy="-3">+</tspan><tspan dy="3"> T cells</tspan></text>
<text transform="translate(8.6 213.6) rotate(-90)" font-size="9.1" text-anchor="middle">Millions</text>
<rect x="267" y="177.4" width="16" height="99.6" fill="#111"/>
<path d="M275 177.4V157.4M272 157.4h6" stroke="#111" stroke-width="0.8" fill="none"/>
<text x="275" y="288" font-size="9.1" text-anchor="middle">B6 LN</text>
<rect x="304" y="270.8" width="15.6" height="6.2" fill="#8a8a8a" stroke="#111" stroke-width="0.8"/>
<ellipse cx="307.3" cy="274" rx="1.9" ry="1.5" fill="#fff"/>
<ellipse cx="311.8" cy="274" rx="1.9" ry="1.5" fill="#fff"/>
<ellipse cx="316.3" cy="274" rx="1.9" ry="1.5" fill="#fff"/>
<path d="M309 270.1h5.6" stroke="#111" stroke-width="1" fill="none"/>
<text x="311.8" y="288" font-size="9.1" text-anchor="middle">T-bet<tspan font-size="6.4" dy="-2.6" letter-spacing="0.2">−/−</tspan></text>
<text x="311.8" y="298.2" font-size="9.1" text-anchor="middle">LN</text>
<rect x="341.4" y="270.8" width="15.2" height="6.2" fill="#1a1a1a" stroke="#111" stroke-width="0.8"/>
<ellipse cx="344.05" cy="274" rx="1.3" ry="1.1" fill="#fff"/>
<ellipse cx="347.35" cy="274" rx="1.3" ry="1.1" fill="#fff"/>
<ellipse cx="350.65" cy="274" rx="1.3" ry="1.1" fill="#fff"/>
<ellipse cx="353.95" cy="274" rx="1.3" ry="1.1" fill="#fff"/>
<path d="M346.2 270.1h5.6" stroke="#111" stroke-width="1" fill="none"/>
<text x="349" y="288" font-size="9.1" text-anchor="middle">T-bet<tspan font-size="6.4" dy="-2.6" letter-spacing="0.2">−/−</tspan></text>
<text x="349" y="298.2" font-size="9.1" text-anchor="middle">LN IFN</text>
<rect x="379.4" y="268.4" width="15.2" height="8.6" fill="url(#ph)" stroke="#111" stroke-width="0.8"/>
<path d="M384.2 267.7h5.6" stroke="#111" stroke-width="1" fill="none"/>
<text x="387" y="288" font-size="9.1" text-anchor="middle">TBI-IFN</text>
<rect x="416" y="273.4" width="15.2" height="3.6" fill="#a0a0a0" stroke="#111" stroke-width="0.8"/>
<path d="M420.8 272.7h5.6" stroke="#111" stroke-width="1" fill="none"/>
<text x="423.6" y="288" font-size="9.1" text-anchor="middle">TBI</text>
<text x="423.6" y="298.2" font-size="9.1" text-anchor="middle">only</text>
<text x="249.4" y="280.3" font-size="9.1" text-anchor="end">0</text>
<text x="249.4" y="237.6" font-size="9.1" text-anchor="end">25</text>
<text x="249.4" y="195" font-size="9.1" text-anchor="end">50</text>
<text x="249.4" y="152.3" font-size="9.1" text-anchor="end">75</text>
<path d="M253 149V277H446.4M253 234.3h4.4M253 191.7h4.4M253 149h4.4" stroke="#111" stroke-width="0.9" fill="none"/>
<text x="285" y="149.8" font-size="9.9" font-weight="bold">Bone marrow CD8<tspan font-size="6" dy="-3">+</tspan><tspan dy="3"> T cells</tspan></text>
<text transform="translate(234.8 213.6) rotate(-90)" font-size="9.1" text-anchor="middle">Millions</text>
<rect x="41.4" y="480.4" width="15.6" height="109.2" fill="#111"/>
<path d="M49.2 480.4V467M46.2 467h6" stroke="#111" stroke-width="0.8" fill="none"/>
<text x="49.2" y="600" font-size="9.1" text-anchor="middle">B6 LN</text>
<rect x="78" y="582" width="15.2" height="7.6" fill="url(#pd)" stroke="#111" stroke-width="0.8"/>
<path d="M85.6 581.6V579.4M82.6 579.4h6" stroke="#111" stroke-width="0.8" fill="none"/>
<text x="85.6" y="600" font-size="9.1" text-anchor="middle">T-bet<tspan font-size="6.4" dy="-2.6" letter-spacing="0.2">−/−</tspan></text>
<text x="85.6" y="610.2" font-size="9.1" text-anchor="middle">LN</text>
<rect x="115.4" y="587" width="15.2" height="2.6" fill="#1a1a1a" stroke="#111" stroke-width="0.8"/>
<ellipse cx="118.05" cy="588.4" rx="1.3" ry="0.5" fill="#fff"/>
<ellipse cx="121.35" cy="588.4" rx="1.3" ry="0.5" fill="#fff"/>
<ellipse cx="124.65" cy="588.4" rx="1.3" ry="0.5" fill="#fff"/>
<ellipse cx="127.95" cy="588.4" rx="1.3" ry="0.5" fill="#fff"/>
<path d="M120.2 586.3h5.6" stroke="#111" stroke-width="1" fill="none"/>
<text x="123" y="600" font-size="9.1" text-anchor="middle">T-bet<tspan font-size="6.4" dy="-2.6" letter-spacing="0.2">−/−</tspan></text>
<text x="123" y="610.2" font-size="9.1" text-anchor="middle">LN IFN</text>
<rect x="153.4" y="586" width="15.2" height="3.6" fill="#a0a0a0" stroke="#111" stroke-width="0.8"/>
<path d="M158.2 585.3h5.6" stroke="#111" stroke-width="1" fill="none"/>
<text x="161" y="600" font-size="9.1" text-anchor="middle">TBI only</text>
<text x="23.4" y="592.9" font-size="9.1" text-anchor="end">0</text>
<text x="23.4" y="550.3" font-size="9.1" text-anchor="end">1.5</text>
<text x="23.4" y="507.3" font-size="9.1" text-anchor="end">3.0</text>
<text x="23.4" y="464.3" font-size="9.1" text-anchor="end">4.5</text>
<path d="M27 461V589.6H186.6M27 547h4.4M27 504h4.4M27 461h4.4" stroke="#111" stroke-width="0.9" fill="none"/>
<text x="82.4" y="462" font-size="9.9" font-weight="bold">CD4<tspan font-size="6" dy="-3">+</tspan><tspan dy="3"> </tspan>IFN-γ<tspan font-size="6" dy="-3">+</tspan><tspan dy="3"> cells</tspan></text>
<text transform="translate(8.6 526) rotate(-90)" font-size="9.1" text-anchor="middle">Millions</text>
<rect x="244" y="476" width="15.6" height="113.6" fill="#111"/>
<path d="M251.8 476V464.6M248.8 464.6h6" stroke="#111" stroke-width="0.8" fill="none"/>
<text x="251.8" y="600" font-size="9.1" text-anchor="middle">B6 LN</text>
<rect x="280.4" y="577.4" width="15.6" height="12.2" fill="url(#pd)" stroke="#111" stroke-width="0.8"/>
<path d="M285.4 576.7h5.6" stroke="#111" stroke-width="1" fill="none"/>
<text x="288.2" y="600" font-size="9.1" text-anchor="middle">T-bet<tspan font-size="6.4" dy="-2.6" letter-spacing="0.2">−/−</tspan></text>
<text x="288.2" y="610.2" font-size="9.1" text-anchor="middle">LN</text>
<rect x="318.4" y="586" width="15.2" height="3.6" fill="#1a1a1a" stroke="#111" stroke-width="0.8"/>
<ellipse cx="321.05" cy="587.9" rx="1.3" ry="0.7" fill="#fff"/>
<ellipse cx="324.35" cy="587.9" rx="1.3" ry="0.7" fill="#fff"/>
<ellipse cx="327.65" cy="587.9" rx="1.3" ry="0.7" fill="#fff"/>
<ellipse cx="330.95" cy="587.9" rx="1.3" ry="0.7" fill="#fff"/>
<path d="M323.2 585.3h5.6" stroke="#111" stroke-width="1" fill="none"/>
<text x="326" y="600" font-size="9.1" text-anchor="middle">T-bet<tspan font-size="6.4" dy="-2.6" letter-spacing="0.2">−/−</tspan></text>
<text x="326" y="610.2" font-size="9.1" text-anchor="middle">LN IFN</text>
<rect x="356" y="585.4" width="15.2" height="4.2" fill="#a0a0a0" stroke="#111" stroke-width="0.8"/>
<path d="M360.8 584.7h5.6" stroke="#111" stroke-width="1" fill="none"/>
<text x="363.6" y="600" font-size="9.1" text-anchor="middle">TBI only</text>
<text x="225.8" y="592.9" font-size="9.1" text-anchor="end">0</text>
<text x="225.8" y="550.3" font-size="9.1" text-anchor="end">15</text>
<text x="225.8" y="507.3" font-size="9.1" text-anchor="end">30</text>
<text x="225.8" y="464.7" font-size="9.1" text-anchor="end">45</text>
<path d="M229.4 461.4V589.6H389M229.4 547h4.4M229.4 504h4.4M229.4 461.4h4.4" stroke="#111" stroke-width="0.9" fill="none"/>
<text x="283" y="462" font-size="9.9" font-weight="bold">CD8<tspan font-size="6" dy="-3">+</tspan><tspan dy="3"> </tspan>IFN-γ<tspan font-size="6" dy="-3">+</tspan><tspan dy="3"> cells</tspan></text>
<text transform="translate(211.4 526) rotate(-90)" font-size="9.1" text-anchor="middle">Millions</text>
<rect x="41.4" y="783" width="15.6" height="117.8" fill="#111"/>
<path d="M49.2 783V779.6M46.2 779.6h6" stroke="#111" stroke-width="0.8" fill="none"/>
<text x="49.2" y="911" font-size="9.1" text-anchor="middle">B6 LN</text>
<rect x="78" y="887.8" width="15.2" height="13" fill="url(#pd)" stroke="#111" stroke-width="0.8"/>
<path d="M82.8 887.1h5.6" stroke="#111" stroke-width="1" fill="none"/>
<text x="85.6" y="911" font-size="9.1" text-anchor="middle">T-bet<tspan font-size="6.4" dy="-2.6" letter-spacing="0.2">−/−</tspan></text>
<text x="85.6" y="921.2" font-size="9.1" text-anchor="middle">LN</text>
<rect x="115.4" y="881.4" width="15.4" height="19.4" fill="url(#pc)" stroke="#111" stroke-width="0.8"/>
<path d="M123.1 881V878.4M120.1 878.4h6" stroke="#111" stroke-width="0.8" fill="none"/>
<text x="123.1" y="911" font-size="9.1" text-anchor="middle">T-bet<tspan font-size="6.4" dy="-2.6" letter-spacing="0.2">−/−</tspan></text>
<text x="123.1" y="921.2" font-size="9.1" text-anchor="middle">LN IFN</text>
<rect x="153.4" y="882.4" width="15.2" height="18.4" fill="url(#ph)" stroke="#111" stroke-width="0.8"/>
<path d="M161 882V879.6M158 879.6h6" stroke="#111" stroke-width="0.8" fill="none"/>
<text x="161" y="911" font-size="9.1" text-anchor="middle">TBI-IFN</text>
<text x="23.4" y="904.1" font-size="9.1" text-anchor="end">0.0</text>
<text x="23.4" y="861.3" font-size="9.1" text-anchor="end">2.5</text>
<text x="23.4" y="818.3" font-size="9.1" text-anchor="end">5.0</text>
<text x="23.4" y="775.3" font-size="9.1" text-anchor="end">7.5</text>
<path d="M27 772V900.8H186.6M27 858h4.4M27 815h4.4M27 772h4.4" stroke="#111" stroke-width="0.9" fill="none"/>
<text x="74.4" y="772.8" font-size="9.9" font-weight="bold">CD4<tspan font-size="6" dy="-3">+</tspan><tspan dy="3"> CD11a</tspan><tspan font-size="6" dy="-3">+</tspan><tspan dy="3"> T cells</tspan></text>
<text transform="translate(8.6 836) rotate(-90)" font-size="9.1" text-anchor="middle">Millions</text>
<rect x="244" y="786" width="15.6" height="114.8" fill="#111"/>
<path d="M251.8 786V778.6M248.8 778.6h6" stroke="#111" stroke-width="0.8" fill="none"/>
<text x="251.8" y="911" font-size="9.1" text-anchor="middle">B6 LN</text>
<rect x="280.4" y="895.4" width="15.6" height="5.4" fill="#8a8a8a" stroke="#111" stroke-width="0.8"/>
<ellipse cx="283.7" cy="898.2" rx="1.9" ry="1.5" fill="#fff"/>
<ellipse cx="288.2" cy="898.2" rx="1.9" ry="1.5" fill="#fff"/>
<ellipse cx="292.7" cy="898.2" rx="1.9" ry="1.5" fill="#fff"/>
<path d="M285.4 894.7h5.6" stroke="#111" stroke-width="1" fill="none"/>
<text x="288.2" y="911" font-size="9.1" text-anchor="middle">T-bet<tspan font-size="6.4" dy="-2.6" letter-spacing="0.2">−/−</tspan></text>
<text x="288.2" y="921.2" font-size="9.1" text-anchor="middle">LN</text>
<rect x="318.4" y="885" width="15.2" height="15.8" fill="url(#pc)" stroke="#111" stroke-width="0.8"/>
<path d="M326 884.6V882M323 882h6" stroke="#111" stroke-width="0.8" fill="none"/>
<text x="326" y="911" font-size="9.1" text-anchor="middle">T-bet<tspan font-size="6.4" dy="-2.6" letter-spacing="0.2">−/−</tspan></text>
<text x="326" y="921.2" font-size="9.1" text-anchor="middle">LN IFN</text>
<rect x="356" y="882.8" width="15.2" height="18" fill="url(#ph)" stroke="#111" stroke-width="0.8"/>
<path d="M360.8 882.1h5.6" stroke="#111" stroke-width="1" fill="none"/>
<text x="363.6" y="911" font-size="9.1" text-anchor="middle">TBI-IFN</text>
<text x="225.8" y="904.1" font-size="9.1" text-anchor="end">0</text>
<text x="225.8" y="861.3" font-size="9.1" text-anchor="end">6</text>
<text x="225.8" y="818.3" font-size="9.1" text-anchor="end">12</text>
<text x="225.8" y="775.7" font-size="9.1" text-anchor="end">18</text>
<path d="M229.4 772.4V900.8H389M229.4 858h4.4M229.4 815h4.4M229.4 772.4h4.4" stroke="#111" stroke-width="0.9" fill="none"/>
<text x="275" y="772.8" font-size="9.9" font-weight="bold">CD8<tspan font-size="6" dy="-3">+</tspan><tspan dy="3"> CD11a</tspan><tspan font-size="6" dy="-3">+</tspan><tspan dy="3"> T cells</tspan></text>
<text transform="translate(211.4 836) rotate(-90)" font-size="9.1" text-anchor="middle">Millions</text>

</svg>
</body></html>
